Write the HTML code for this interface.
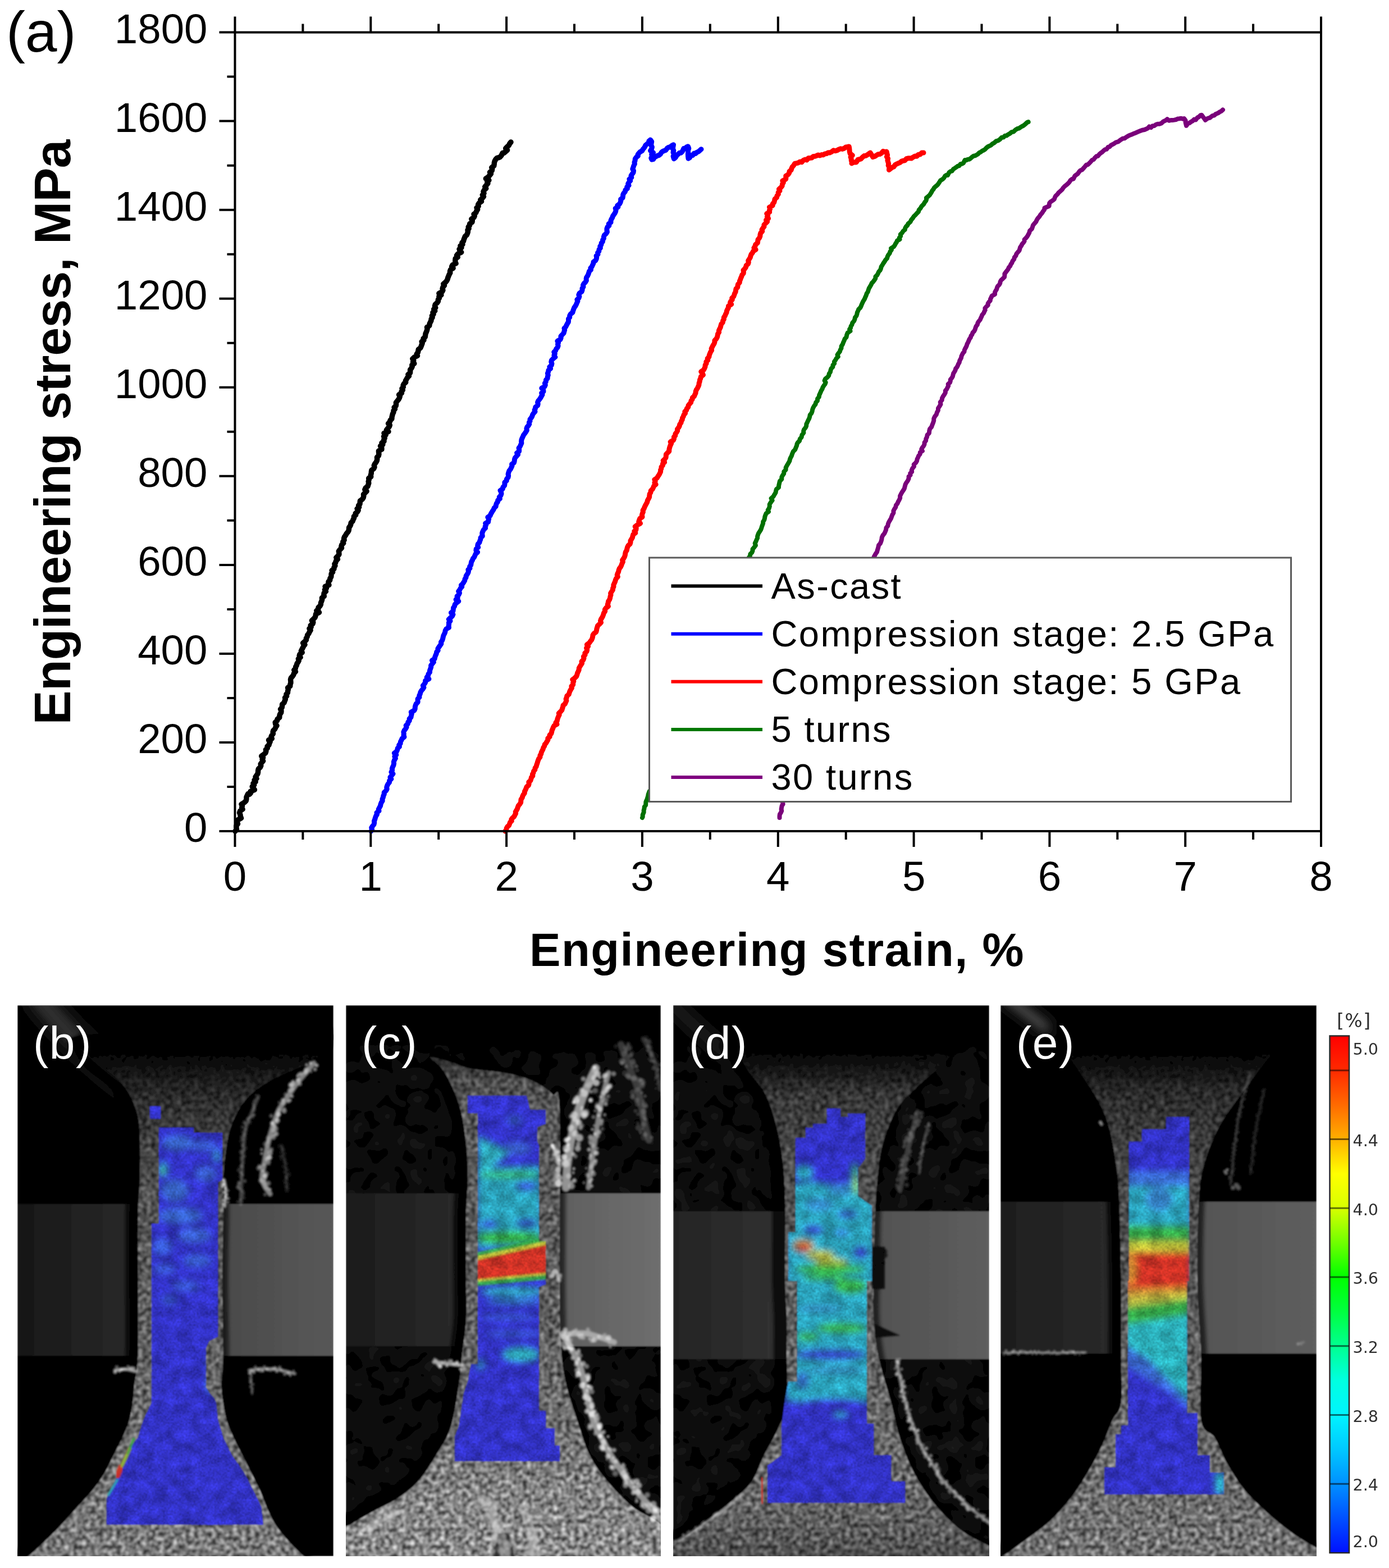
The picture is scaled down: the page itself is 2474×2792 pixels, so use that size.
<!DOCTYPE html><html><head><meta charset="utf-8"><title>Figure</title>
<style>html,body{margin:0;padding:0;background:#fff;overflow:hidden}svg{display:block}text{font-family:"Liberation Sans",Arial,sans-serif}</style></head><body>
<svg xmlns="http://www.w3.org/2000/svg" width="2474" height="2792" viewBox="0 0 2474 2792">
<rect width="100%" height="100%" fill="#fff"/>
<defs>
<filter id="spk" x="0" y="0" width="1" height="1" color-interpolation-filters="sRGB">
<feTurbulence type="fractalNoise" baseFrequency="0.13" numOctaves="3" seed="4" result="t"/>
<feColorMatrix in="t" type="matrix" values="1.25 0 0 0 -0.125  1.25 0 0 0 -0.125  1.25 0 0 0 -0.125  0 0 0 0 1" result="g"/>
<feGaussianBlur in="g" stdDeviation="1.4" result="gb"/>
<feComposite in="SourceGraphic" in2="gb" operator="arithmetic" k1="2" k2="0" k3="0" k4="0" result="m"/>
<feComposite in="m" in2="SourceGraphic" operator="in"/>
</filter>
<filter id="dicn" x="0" y="0" width="1" height="1" color-interpolation-filters="sRGB">
<feTurbulence type="fractalNoise" baseFrequency="0.045" numOctaves="2" seed="11" result="t"/>
<feColorMatrix in="t" type="matrix" values="0.3 0 0 0 0.35  0.3 0 0 0 0.35  0.3 0 0 0 0.35  0 0 0 0 1" result="g"/>
<feTurbulence type="fractalNoise" baseFrequency="0.35" numOctaves="1" seed="21" result="t2"/>
<feColorMatrix in="t2" type="matrix" values="0.45 0 0 0 0.275  0.45 0 0 0 0.275  0.45 0 0 0 0.275  0 0 0 0 1" result="g2"/>
<feComposite in="g" in2="g2" operator="arithmetic" k1="2" k2="0" k3="0" k4="0" result="gg"/>
<feComposite in="SourceGraphic" in2="gg" operator="arithmetic" k1="2" k2="0" k3="0" k4="0" result="m"/>
<feComposite in="m" in2="SourceGraphic" operator="in"/>
</filter>
<filter id="blot" x="0" y="0" width="1" height="1" color-interpolation-filters="sRGB">
<feTurbulence type="fractalNoise" baseFrequency="0.035" numOctaves="3" seed="5" result="t"/>
<feColorMatrix in="t" type="matrix" values="0 0 0 0 1  0 0 0 0 1  0 0 0 0 1  2.2 0 0 0 -0.85" result="a"/>
<feGaussianBlur in="a" stdDeviation="3" result="ab"/>
<feComposite in="SourceGraphic" in2="ab" operator="in"/>
</filter>
<filter id="flk" x="-30%" y="-30%" width="160%" height="160%" color-interpolation-filters="sRGB">
<feTurbulence type="fractalNoise" baseFrequency="0.12" numOctaves="2" seed="8" result="t"/>
<feDisplacementMap in="SourceGraphic" in2="t" scale="14" xChannelSelector="R" yChannelSelector="G" result="d"/>
<feGaussianBlur in="d" stdDeviation="1.2"/>
</filter>
<filter id="bl6" x="-20%" y="-20%" width="140%" height="140%"><feGaussianBlur stdDeviation="6"/></filter>
<filter id="bl10" x="-30%" y="-30%" width="160%" height="160%"><feGaussianBlur stdDeviation="10"/></filter>
<filter id="bl3" x="-20%" y="-20%" width="140%" height="140%"><feGaussianBlur stdDeviation="3"/></filter>
<filter id="bl1" x="-20%" y="-20%" width="140%" height="140%"><feGaussianBlur stdDeviation="1.2"/></filter>
<filter id="pblur" x="0" y="0" width="1" height="1"><feGaussianBlur stdDeviation="0.9"/></filter>
<filter id="bl2" x="-20%" y="-20%" width="140%" height="140%"><feGaussianBlur stdDeviation="1.8"/></filter>

<linearGradient id="cbg" x1="0" y1="0" x2="0" y2="1">
<stop offset="0.0000" stop-color="#ff0000"/>
<stop offset="0.0667" stop-color="#ff2a00"/>
<stop offset="0.1333" stop-color="#ff6a00"/>
<stop offset="0.2000" stop-color="#ffb000"/>
<stop offset="0.2333" stop-color="#ffd800"/>
<stop offset="0.2667" stop-color="#ffff00"/>
<stop offset="0.3333" stop-color="#d8ff00"/>
<stop offset="0.4000" stop-color="#70ff00"/>
<stop offset="0.4667" stop-color="#00ff00"/>
<stop offset="0.5333" stop-color="#00ff40"/>
<stop offset="0.6000" stop-color="#00ff90"/>
<stop offset="0.6667" stop-color="#00ffe0"/>
<stop offset="0.7333" stop-color="#00f4ff"/>
<stop offset="0.8000" stop-color="#00c8ff"/>
<stop offset="0.8667" stop-color="#0090ff"/>
<stop offset="0.9333" stop-color="#0050ff"/>
<stop offset="1.0000" stop-color="#0010ff"/>
</linearGradient>
</defs>
<g fill="none" stroke-linejoin="round" stroke-linecap="round">
<path d="M419.0,1480.0 L421.5,1477.0 L421.0,1474.0 L420.9,1470.5 L423.5,1467.0 L422.5,1463.5 L423.5,1460.0 L429.5,1456.8 L428.3,1453.7 L427.9,1450.5 L426.6,1447.3 L427.6,1444.2 L432.1,1441.0 L430.7,1438.0 L431.5,1435.0 L430.1,1432.0 L435.0,1429.0 L438.2,1426.0 L438.9,1423.0 L439.0,1419.3 L441.7,1413.6 L444.3,1414.3 L446.6,1412.0 L446.2,1409.1 L453.4,1406.3 L451.5,1403.4 L449.2,1400.6 L452.6,1397.7 L451.1,1394.9 L455.2,1392.0 L453.1,1389.1 L456.9,1386.3 L455.1,1383.4 L457.0,1380.6 L459.0,1377.7 L459.6,1374.9 L459.7,1372.0 L460.3,1369.2 L463.4,1366.3 L464.8,1363.5 L464.2,1360.6 L466.2,1357.8 L468.6,1354.9 L467.1,1352.1 L468.5,1349.2 L465.7,1346.4 L469.6,1343.5 L472.9,1340.7 L473.9,1337.8 L473.4,1335.0 L476.3,1332.2 L476.0,1329.3 L479.0,1326.5 L479.8,1323.6 L481.1,1320.8 L478.5,1317.9 L484.3,1315.1 L482.9,1312.2 L484.1,1309.4 L486.4,1306.5 L486.1,1303.7 L486.8,1300.8 L489.7,1298.0 L490.9,1295.1 L493.0,1292.1 L490.7,1289.2 L490.2,1286.3 L493.6,1283.3 L494.1,1280.4 L497.8,1277.5 L497.9,1274.5 L498.7,1271.6 L500.7,1268.7 L501.0,1265.7 L499.6,1262.8 L502.2,1259.9 L502.6,1256.9 L502.7,1254.0 L506.1,1251.1 L507.1,1248.1 L508.3,1245.2 L507.6,1242.3 L510.6,1239.3 L509.9,1236.4 L512.4,1233.5 L512.6,1230.5 L513.4,1227.6 L512.6,1224.7 L516.8,1221.7 L516.9,1218.8 L517.9,1215.9 L517.8,1212.9 L517.5,1210.0 L518.3,1207.2 L521.0,1204.3 L522.8,1201.5 L523.6,1198.7 L526.3,1195.9 L523.9,1193.0 L526.3,1190.2 L526.7,1187.4 L528.3,1184.6 L529.0,1181.7 L530.9,1178.9 L532.3,1176.1 L531.4,1173.2 L535.0,1170.4 L533.2,1167.6 L534.0,1164.8 L538.2,1161.9 L536.4,1159.1 L537.8,1156.3 L539.4,1153.4 L540.7,1150.6 L543.0,1147.8 L539.6,1145.0 L543.0,1142.1 L545.5,1139.3 L545.4,1136.5 L547.2,1133.7 L547.6,1130.8 L550.0,1128.0 L551.2,1125.1 L553.1,1122.2 L551.1,1119.3 L554.1,1116.5 L553.2,1113.6 L557.1,1110.7 L557.8,1107.8 L555.4,1104.9 L558.6,1102.0 L561.2,1099.2 L562.1,1096.3 L562.5,1093.4 L568.5,1090.5 L563.8,1087.6 L566.8,1084.7 L567.0,1081.8 L570.0,1079.0 L571.4,1076.1 L571.5,1073.2 L572.9,1070.3 L573.7,1067.4 L573.4,1064.5 L577.3,1061.7 L576.8,1058.8 L577.2,1055.9 L580.3,1053.0 L578.5,1050.1 L581.3,1047.3 L579.1,1044.4 L585.9,1041.6 L584.8,1038.7 L585.1,1035.8 L587.7,1033.0 L587.9,1030.1 L589.7,1027.2 L590.0,1024.4 L590.2,1021.5 L592.6,1018.7 L591.2,1015.8 L594.9,1012.9 L595.1,1010.1 L596.9,1007.2 L595.9,1004.3 L597.8,1001.5 L598.6,998.6 L601.3,995.8 L599.0,992.9 L601.8,990.0 L603.9,987.2 L603.8,984.3 L603.3,981.4 L605.6,978.6 L608.5,975.7 L607.9,972.9 L608.8,970.0 L611.7,967.2 L610.8,964.4 L613.1,961.6 L612.6,958.8 L613.5,956.0 L615.5,953.2 L617.0,950.4 L619.4,947.7 L621.0,944.9 L621.5,942.1 L621.6,939.3 L623.7,936.5 L624.8,933.7 L625.2,930.9 L628.1,928.1 L629.0,925.3 L630.5,922.5 L630.4,919.7 L633.7,916.9 L633.2,914.1 L636.6,911.3 L638.1,908.6 L636.2,905.8 L639.6,903.0 L638.6,900.2 L641.0,897.4 L641.2,894.6 L641.4,891.8 L645.3,889.0 L647.2,886.1 L647.8,883.3 L647.5,880.4 L650.3,877.5 L653.1,874.7 L649.9,871.8 L651.2,868.9 L655.0,866.0 L655.8,863.2 L656.8,860.3 L656.2,857.4 L657.1,854.6 L656.7,851.7 L660.7,848.8 L660.3,846.0 L661.2,843.1 L661.4,840.2 L661.8,837.4 L665.7,834.5 L667.0,831.6 L666.3,828.8 L667.7,825.9 L669.9,823.0 L671.3,820.1 L671.8,817.3 L671.5,814.4 L674.3,811.5 L674.9,808.7 L674.6,805.8 L674.4,802.9 L679.9,800.1 L679.8,797.2 L677.5,794.3 L681.8,791.5 L680.1,788.6 L684.0,785.7 L683.7,782.9 L685.2,780.0 L683.6,777.1 L687.2,774.2 L684.0,771.4 L691.9,768.5 L688.5,765.6 L690.6,762.8 L693.2,759.9 L694.3,757.0 L691.7,754.2 L694.2,751.3 L695.2,748.4 L697.9,745.6 L698.0,742.7 L698.7,739.8 L699.4,737.0 L700.9,734.1 L701.0,731.2 L703.4,728.3 L702.2,725.5 L705.2,722.6 L705.6,719.7 L705.4,716.9 L707.6,714.0 L710.0,711.2 L711.4,708.4 L712.3,705.7 L710.6,702.9 L715.4,700.1 L714.9,697.3 L717.3,694.5 L716.0,691.8 L718.4,689.0 L718.1,686.2 L719.5,683.4 L722.7,680.6 L722.4,677.9 L724.1,675.1 L725.7,672.3 L728.4,669.5 L727.0,666.7 L730.5,664.0 L730.7,661.2 L730.6,658.4 L732.8,655.6 L734.2,652.8 L733.8,650.0 L737.8,647.3 L735.6,644.5 L736.7,641.7 L734.9,638.9 L737.9,636.1 L743.4,633.4 L742.2,630.6 L744.2,627.8 L744.9,625.0 L745.3,622.2 L748.9,619.5 L750.1,616.7 L751.1,613.9 L752.2,611.1 L751.2,608.3 L754.9,605.6 L754.1,602.8 L757.2,600.0 L757.6,597.1 L758.0,594.2 L759.3,591.3 L760.4,588.4 L761.1,585.5 L760.5,582.6 L764.8,579.7 L765.1,576.8 L766.4,573.9 L767.9,571.0 L768.1,568.1 L770.1,565.2 L769.4,562.3 L772.1,559.4 L771.0,556.5 L774.6,553.6 L772.8,550.7 L775.7,547.8 L774.5,544.9 L775.3,542.0 L778.6,539.2 L780.4,536.4 L780.4,533.6 L782.4,530.8 L781.9,528.0 L785.9,525.2 L781.9,522.4 L787.4,519.6 L788.9,516.8 L788.1,514.0 L789.0,511.2 L791.4,508.4 L789.8,505.6 L793.3,502.8 L795.7,500.0 L797.1,497.2 L797.8,494.4 L799.0,491.5 L800.1,488.7 L801.8,485.9 L801.5,483.1 L802.5,480.2 L807.1,477.4 L804.7,474.6 L806.2,471.8 L812.0,469.0 L810.8,466.1 L810.9,463.3 L811.1,460.5 L815.3,457.7 L813.5,454.9 L815.6,452.0 L821.7,449.2 L819.0,446.4 L818.1,443.6 L822.0,440.8 L819.9,437.9 L823.9,435.1 L822.9,432.3 L825.5,429.5 L826.2,426.6 L827.3,423.8 L828.3,421.0 L831.4,418.2 L832.6,415.4 L833.4,412.5 L833.0,409.7 L835.1,406.9 L834.2,404.1 L836.5,401.2 L836.7,398.4 L840.9,395.6 L841.3,392.8 L839.9,390.0 L844.1,387.1 L845.3,384.3 L844.1,381.5 L847.7,378.6 L848.7,375.8 L850.6,372.9 L849.1,370.0 L852.2,367.2 L851.6,364.3 L853.4,361.5 L857.4,358.6 L855.9,355.7 L859.0,352.9 L861.4,350.0 L859.4,347.1 L862.0,344.2 L861.0,341.3 L862.5,338.4 L865.6,335.5 L863.8,332.5 L866.3,329.6 L868.9,326.7 L867.8,323.8 L870.9,320.9 L865.4,318.0 L869.7,315.2 L872.0,312.3 L874.4,309.5 L872.6,306.7 L876.2,303.8 L876.7,301.0 L875.8,298.2 L879.7,295.3 L880.2,292.5 L880.4,289.7 L881.2,286.8 L883.0,283.6 L885.5,281.1 L888.0,280.8 L890.5,279.6 L893.0,276.8 L895.3,272.2 L897.7,272.4 L900.5,270.0 L903.6,267.2 L900.7,264.3 L903.3,261.5 L906.4,258.7 L907.8,255.8 L910.0,253.0" stroke="#000" stroke-width="9.5"/>
<path d="M661.0,1480.0 L662.6,1477.0 L661.7,1474.0 L663.6,1471.0 L666.0,1468.0 L666.7,1465.0 L666.5,1462.0 L667.7,1459.0 L668.5,1456.0 L669.6,1453.0 L671.5,1450.0 L671.0,1447.0 L675.0,1444.0 L674.2,1441.0 L675.8,1438.0 L677.5,1435.0 L678.1,1432.0 L679.2,1429.0 L681.2,1426.0 L681.0,1423.0 L682.3,1420.0 L682.9,1417.0 L684.3,1414.0 L684.2,1411.0 L687.5,1408.0 L689.2,1405.0 L688.7,1402.0 L689.6,1399.0 L691.1,1396.0 L693.5,1393.0 L693.6,1390.0 L696.8,1387.0 L695.0,1384.0 L697.4,1380.9 L699.9,1377.8 L697.0,1374.8 L698.6,1371.7 L698.4,1368.6 L699.5,1365.5 L701.0,1362.5 L701.6,1359.4 L701.4,1356.3 L702.6,1353.2 L704.4,1350.2 L702.9,1347.1 L705.8,1344.0 L702.3,1341.1 L706.3,1338.2 L707.7,1335.3 L708.2,1332.4 L711.4,1329.5 L710.7,1326.6 L713.2,1323.7 L713.4,1320.8 L715.0,1317.9 L716.2,1315.1 L719.9,1312.2 L719.0,1309.3 L719.3,1306.4 L718.9,1303.5 L720.1,1300.6 L722.4,1297.7 L724.1,1294.8 L723.2,1291.9 L726.4,1289.0 L726.8,1286.0 L729.3,1283.0 L729.1,1280.0 L732.0,1277.0 L732.5,1274.0 L733.3,1271.0 L732.3,1268.0 L737.8,1265.0 L739.2,1262.0 L739.3,1259.1 L740.0,1256.1 L741.2,1253.2 L744.1,1250.3 L744.1,1247.3 L744.1,1244.4 L747.0,1241.5 L746.8,1238.5 L748.3,1235.6 L748.9,1232.7 L750.6,1229.7 L753.2,1226.8 L754.9,1223.9 L753.4,1220.9 L755.8,1218.0 L757.7,1215.0 L757.6,1212.0 L763.9,1209.0 L760.3,1206.0 L762.5,1203.0 L763.1,1200.0 L765.5,1197.0 L765.5,1194.0 L766.6,1191.0 L767.7,1188.0 L767.6,1185.0 L769.9,1182.0 L772.3,1179.0 L769.5,1176.0 L774.1,1173.0 L774.7,1170.0 L775.8,1167.0 L777.2,1164.0 L777.7,1161.0 L780.2,1158.0 L779.9,1155.0 L781.9,1152.0 L784.0,1149.1 L785.9,1146.2 L785.5,1143.3 L787.6,1140.4 L788.6,1137.5 L789.2,1134.6 L789.9,1131.7 L791.4,1128.8 L792.7,1125.9 L793.1,1123.1 L794.6,1120.2 L799.5,1117.3 L799.1,1114.4 L799.6,1111.5 L799.4,1108.6 L801.9,1105.7 L799.4,1102.8 L802.5,1099.9 L805.5,1097.0 L806.9,1094.1 L803.5,1091.1 L806.9,1088.2 L807.3,1085.3 L807.6,1082.3 L809.6,1079.4 L810.2,1076.5 L812.8,1073.5 L816.8,1070.6 L812.1,1067.7 L815.2,1064.7 L814.1,1061.8 L817.1,1058.9 L818.5,1055.9 L816.7,1053.0 L818.8,1050.2 L820.2,1047.5 L822.7,1044.8 L821.5,1042.0 L824.4,1039.2 L826.1,1036.5 L827.7,1033.8 L828.1,1031.0 L830.0,1028.2 L830.2,1025.5 L832.0,1022.8 L833.7,1020.0 L834.5,1017.2 L833.9,1014.5 L837.0,1011.8 L836.6,1009.0 L838.7,1006.1 L839.1,1003.3 L839.7,1000.4 L841.4,997.5 L842.4,994.7 L844.8,991.8 L846.0,988.9 L847.3,986.0 L850.6,983.2 L847.9,980.3 L848.2,977.4 L851.7,974.6 L850.7,971.7 L851.3,968.8 L853.9,966.0 L854.7,963.1 L855.9,960.2 L856.1,957.3 L859.3,954.5 L858.8,951.6 L858.9,948.7 L860.1,945.9 L861.6,943.0 L864.6,940.2 L864.1,937.5 L865.7,934.8 L864.7,932.0 L869.7,929.2 L869.9,926.5 L870.7,923.8 L868.8,921.0 L873.0,918.2 L874.1,915.5 L875.6,912.8 L877.3,910.0 L879.2,907.2 L880.2,904.5 L883.1,901.8 L883.5,899.0 L884.5,896.2 L886.5,893.5 L886.7,890.8 L890.4,888.0 L889.3,885.1 L892.0,882.2 L893.0,879.2 L892.6,876.3 L891.1,873.4 L895.3,870.5 L895.9,867.6 L898.6,864.6 L899.0,861.7 L898.9,858.8 L902.3,855.9 L902.5,852.9 L905.0,850.0 L905.6,847.1 L905.1,844.2 L905.9,841.3 L906.9,838.3 L909.3,835.4 L910.7,832.5 L912.0,829.6 L911.6,826.7 L915.5,823.8 L916.2,820.9 L916.5,818.0 L917.4,815.2 L920.0,812.3 L922.5,809.4 L920.7,806.5 L924.6,803.6 L924.7,800.7 L924.1,797.8 L926.3,794.9 L927.5,792.0 L928.9,789.1 L928.6,786.2 L928.9,783.3 L929.9,780.5 L931.3,777.6 L932.5,774.7 L934.8,771.8 L936.8,768.9 L938.4,766.0 L937.9,763.2 L938.8,760.5 L941.2,757.8 L942.8,755.0 L942.4,752.2 L944.1,749.5 L944.0,746.8 L946.2,744.0 L947.8,741.2 L948.6,738.5 L950.4,735.8 L953.0,733.0 L952.1,730.2 L953.4,727.5 L953.8,724.8 L957.6,722.0 L958.2,719.2 L957.6,716.5 L958.7,713.8 L961.0,711.0 L962.9,708.2 L964.4,705.5 L966.0,702.8 L964.7,700.0 L968.0,697.1 L967.7,694.2 L964.8,691.2 L970.0,688.3 L971.3,685.4 L970.4,682.5 L972.3,679.6 L972.5,676.6 L975.2,673.7 L975.3,670.8 L976.3,667.9 L975.4,665.0 L976.6,662.0 L977.0,659.1 L980.5,656.2 L978.9,653.3 L982.2,650.4 L982.9,647.4 L981.8,644.5 L982.4,641.6 L985.1,638.7 L988.8,635.8 L986.9,632.8 L988.3,629.9 L986.8,627.0 L989.6,624.2 L990.6,621.4 L993.1,618.5 L994.1,615.7 L993.5,612.9 L994.6,610.1 L992.9,607.3 L998.0,604.5 L999.2,601.6 L998.9,598.8 L1001.4,596.0 L1004.1,593.2 L1004.8,590.4 L1005.7,587.5 L1005.0,584.7 L1007.7,581.9 L1009.0,579.1 L1010.5,576.3 L1012.3,573.5 L1012.6,570.6 L1012.5,567.8 L1014.7,565.0 L1014.7,562.1 L1016.2,559.3 L1019.9,556.4 L1020.6,553.6 L1021.7,550.7 L1022.7,547.9 L1024.8,545.0 L1026.4,542.1 L1027.5,539.3 L1028.9,536.4 L1027.9,533.6 L1031.0,530.7 L1031.9,527.9 L1030.8,525.0 L1032.1,522.1 L1036.1,519.3 L1037.1,516.4 L1037.0,513.6 L1039.0,510.7 L1038.5,507.9 L1040.0,505.0 L1042.8,502.2 L1044.4,499.5 L1044.1,496.8 L1044.6,494.0 L1046.6,491.2 L1047.8,488.5 L1048.7,485.8 L1049.6,483.0 L1052.5,480.2 L1051.9,477.5 L1054.2,474.8 L1055.4,472.0 L1056.8,469.2 L1057.0,466.5 L1060.8,463.8 L1062.2,461.0 L1062.7,458.2 L1062.1,455.5 L1065.0,452.8 L1064.6,450.0 L1066.9,447.1 L1067.0,444.3 L1069.4,441.4 L1068.8,438.6 L1070.8,435.8 L1071.2,432.9 L1073.4,430.1 L1073.6,427.2 L1075.4,424.4 L1075.4,421.5 L1076.5,418.6 L1079.7,415.8 L1081.4,412.9 L1080.9,410.1 L1080.9,407.2 L1081.9,404.4 L1084.9,401.6 L1084.2,398.7 L1088.0,395.9 L1087.9,393.0 L1089.0,390.3 L1090.6,387.6 L1091.5,384.8 L1093.4,382.1 L1095.3,379.4 L1096.5,376.7 L1097.1,373.9 L1096.2,371.2 L1100.8,368.5 L1099.8,365.8 L1103.5,363.1 L1105.0,360.3 L1105.8,357.6 L1105.6,354.9 L1109.1,352.2 L1109.5,349.4 L1109.7,346.7 L1111.0,344.0 L1113.5,341.2 L1113.9,338.4 L1117.4,335.7 L1116.7,332.9 L1120.0,330.1 L1118.7,327.3 L1120.2,324.6 L1122.7,321.8 L1121.0,319.0 L1124.8,316.0 L1124.0,313.0 L1125.9,310.0 L1128.1,307.0 L1128.5,304.0 L1126.8,301.0 L1127.9,298.0 L1128.8,295.0 L1130.4,292.0 L1130.0,289.0 L1131.1,286.0 L1131.3,283.0 L1133.3,280.0 L1136.4,277.7 L1136.0,275.3 L1137.7,273.0 L1139.9,270.7 L1143.8,268.3 L1145.0,266.0 L1147.1,263.6 L1148.7,261.1 L1149.8,258.7 L1152.6,256.3 L1155.6,253.9 L1155.8,251.4 L1158.4,249.0 L1160.7,252.2 L1160.1,255.5 L1159.7,258.7 L1161.4,261.9 L1160.5,265.2 L1158.5,268.4 L1163.5,271.7 L1160.6,274.9 L1161.6,278.1 L1159.8,281.4 L1161.0,284.2 L1163.5,283.7 L1166.0,279.8 L1168.5,278.7 L1171.0,277.1 L1173.5,276.5 L1176.0,274.7 L1178.5,270.9 L1180.9,269.2 L1183.4,268.2 L1185.9,267.4 L1188.4,263.9 L1190.9,262.3 L1193.4,262.1 L1195.9,259.8 L1199.5,257.8 L1198.9,261.2 L1198.3,264.6 L1199.8,268.0 L1199.0,271.4 L1201.0,274.8 L1199.1,278.2 L1200.4,282.7 L1202.9,280.7 L1205.4,276.8 L1207.8,274.6 L1210.3,272.2 L1212.8,272.2 L1215.3,269.8 L1217.8,264.4 L1220.2,264.8 L1222.7,261.9 L1225.5,260.8 L1226.8,264.3 L1225.6,267.7 L1225.6,271.2 L1225.4,274.7 L1225.5,278.1 L1226.0,282.2 L1228.6,280.6 L1231.1,276.2 L1233.7,276.5 L1236.2,273.1 L1238.8,273.5 L1241.3,271.1 L1243.9,270.1 L1246.4,268.0 L1249.0,265.7" stroke="#0000ff" stroke-width="9"/>
<path d="M900.0,1480.0 L901.9,1477.4 L902.2,1474.8 L903.7,1472.2 L906.6,1469.6 L907.6,1467.0 L908.5,1464.4 L911.3,1461.8 L910.8,1459.2 L912.7,1456.6 L915.7,1454.0 L917.1,1451.2 L918.6,1448.4 L918.2,1445.6 L920.0,1442.8 L921.5,1440.1 L922.3,1437.3 L923.4,1434.5 L925.9,1431.7 L927.6,1428.9 L927.8,1426.1 L928.1,1423.3 L930.1,1420.5 L930.8,1417.8 L932.2,1415.0 L934.3,1412.2 L934.4,1409.4 L935.9,1406.6 L937.1,1403.8 L938.1,1401.0 L941.5,1398.2 L942.2,1395.4 L941.8,1392.7 L944.9,1389.9 L945.8,1387.1 L946.5,1384.3 L948.9,1381.5 L948.4,1378.7 L950.0,1375.9 L950.6,1373.1 L952.9,1370.3 L953.1,1367.6 L955.1,1364.8 L955.8,1362.0 L956.9,1359.2 L957.6,1356.4 L958.6,1353.6 L959.7,1350.8 L962.0,1348.0 L961.9,1345.2 L963.8,1342.4 L964.2,1339.7 L965.6,1336.9 L967.1,1334.1 L967.8,1331.3 L969.7,1328.5 L970.2,1325.7 L972.7,1322.9 L974.2,1320.2 L975.9,1317.4 L975.8,1314.6 L979.2,1311.8 L979.0,1309.0 L981.8,1306.2 L982.6,1303.5 L983.1,1300.7 L984.4,1297.9 L985.4,1295.1 L986.9,1292.3 L992.0,1289.6 L989.9,1286.8 L992.1,1284.0 L992.7,1281.2 L993.6,1278.4 L994.7,1275.6 L996.2,1272.8 L995.3,1270.0 L998.4,1267.2 L1000.8,1264.4 L1001.6,1261.6 L1002.5,1258.8 L1003.1,1256.0 L1006.4,1253.2 L1007.6,1250.4 L1008.9,1247.6 L1008.1,1244.8 L1009.3,1242.0 L1009.8,1239.2 L1013.2,1236.4 L1014.0,1233.6 L1015.0,1230.7 L1016.7,1227.7 L1018.5,1224.8 L1017.9,1221.9 L1020.7,1219.0 L1020.6,1216.0 L1021.8,1213.1 L1019.9,1210.2 L1023.7,1207.3 L1026.7,1204.3 L1027.8,1201.4 L1028.5,1198.5 L1029.9,1195.6 L1031.2,1192.6 L1031.3,1189.7 L1032.9,1186.8 L1034.8,1183.9 L1036.6,1180.9 L1036.0,1178.0 L1038.9,1175.0 L1040.0,1172.0 L1039.4,1169.0 L1042.1,1166.0 L1041.8,1163.0 L1045.0,1160.0 L1045.7,1157.0 L1044.6,1154.0 L1047.5,1151.0 L1045.4,1148.0 L1049.5,1145.0 L1051.4,1142.2 L1053.7,1139.4 L1054.9,1136.6 L1055.6,1133.8 L1056.0,1130.9 L1057.8,1128.1 L1061.7,1125.3 L1062.5,1122.5 L1062.9,1119.7 L1063.8,1116.9 L1064.6,1114.1 L1067.9,1111.2 L1070.5,1108.4 L1069.5,1105.6 L1070.4,1102.8 L1072.2,1100.0 L1073.7,1097.1 L1074.7,1094.2 L1075.6,1091.3 L1077.7,1088.3 L1077.4,1085.4 L1079.4,1082.5 L1083.4,1079.6 L1082.2,1076.7 L1083.1,1073.8 L1083.6,1070.8 L1085.5,1067.9 L1086.6,1065.0 L1087.0,1062.1 L1088.0,1059.2 L1087.6,1056.3 L1089.5,1053.3 L1091.4,1050.4 L1091.6,1047.5 L1093.0,1044.6 L1092.8,1041.7 L1094.1,1038.7 L1095.5,1035.8 L1096.3,1032.8 L1097.6,1029.9 L1100.3,1026.9 L1099.2,1024.0 L1100.2,1021.0 L1101.6,1018.1 L1102.2,1015.1 L1103.3,1012.2 L1105.6,1009.2 L1106.9,1006.3 L1108.0,1003.3 L1109.4,1000.4 L1108.6,997.4 L1110.7,994.5 L1112.4,991.5 L1113.3,988.6 L1113.7,985.6 L1114.4,982.7 L1116.3,979.9 L1116.8,977.1 L1117.6,974.2 L1119.0,971.4 L1122.2,968.6 L1123.0,965.8 L1123.0,963.0 L1124.6,960.2 L1126.4,957.4 L1127.0,954.5 L1127.8,951.7 L1131.8,948.9 L1129.9,946.1 L1132.8,943.3 L1133.2,940.5 L1131.2,937.6 L1135.2,934.8 L1140.5,932.0 L1137.7,929.1 L1138.6,926.2 L1139.7,923.3 L1144.0,920.4 L1143.4,917.4 L1144.1,914.5 L1145.4,911.6 L1145.1,908.7 L1147.0,905.8 L1148.1,902.9 L1149.5,900.0 L1151.1,897.1 L1152.7,894.2 L1153.3,891.3 L1154.9,888.3 L1156.5,885.4 L1156.8,882.5 L1157.2,879.6 L1159.0,876.7 L1159.2,873.9 L1162.1,871.0 L1163.6,868.2 L1164.7,865.4 L1168.0,862.5 L1165.9,859.7 L1167.1,856.9 L1165.9,854.0 L1170.2,851.2 L1171.9,848.3 L1173.8,845.5 L1175.3,842.7 L1176.6,839.8 L1176.6,837.0 L1177.9,834.2 L1178.0,831.4 L1180.5,828.6 L1180.4,825.8 L1183.6,823.1 L1181.1,820.3 L1184.1,817.5 L1186.0,814.7 L1186.3,811.9 L1186.4,809.1 L1189.0,806.3 L1191.8,803.5 L1191.8,800.7 L1192.4,797.9 L1193.2,795.2 L1194.3,792.4 L1195.7,789.6 L1194.1,786.8 L1199.3,784.0 L1200.5,781.2 L1200.4,778.3 L1202.8,775.5 L1202.9,772.7 L1205.0,769.8 L1206.7,767.0 L1206.4,764.2 L1208.7,761.3 L1210.2,758.5 L1210.7,755.7 L1213.0,752.8 L1213.5,750.0 L1215.2,747.2 L1215.5,744.3 L1217.2,741.5 L1218.0,738.7 L1220.5,735.8 L1219.8,733.0 L1222.7,730.2 L1223.3,727.5 L1225.8,724.8 L1226.0,722.0 L1228.2,719.2 L1230.7,716.5 L1230.9,713.8 L1233.1,711.0 L1233.3,708.2 L1236.5,705.5 L1237.6,702.8 L1239.0,700.0 L1239.2,697.1 L1240.3,694.1 L1242.3,691.2 L1243.7,688.2 L1244.9,685.3 L1245.1,682.4 L1246.2,679.4 L1246.5,676.5 L1247.9,673.5 L1248.4,670.6 L1252.4,667.6 L1251.2,664.7 L1248.7,661.8 L1253.3,658.8 L1254.8,655.9 L1256.0,652.9 L1256.1,650.0 L1258.1,647.1 L1257.8,644.2 L1260.8,641.3 L1260.1,638.3 L1262.9,635.4 L1263.3,632.5 L1264.4,629.6 L1265.6,626.7 L1267.6,623.8 L1267.1,620.8 L1268.6,617.9 L1270.0,615.0 L1271.9,612.1 L1272.9,609.2 L1272.9,606.3 L1275.8,603.3 L1277.4,600.4 L1278.1,597.5 L1278.5,594.6 L1280.6,591.7 L1280.4,588.7 L1281.7,585.8 L1283.2,582.9 L1283.9,580.0 L1284.8,577.0 L1287.3,574.1 L1287.6,571.2 L1289.4,568.3 L1289.3,565.3 L1291.3,562.4 L1292.4,559.5 L1294.0,556.6 L1294.4,553.6 L1295.8,550.7 L1297.4,547.8 L1297.4,544.9 L1302.7,541.9 L1300.5,539.0 L1301.8,536.2 L1304.3,533.5 L1303.7,530.8 L1306.7,528.0 L1307.7,525.2 L1308.6,522.5 L1310.1,519.8 L1310.5,517.0 L1311.0,514.2 L1313.8,511.5 L1314.0,508.8 L1314.6,506.0 L1317.3,503.2 L1317.4,500.5 L1318.6,497.8 L1319.6,495.0 L1320.9,492.2 L1321.7,489.5 L1324.2,486.8 L1324.4,484.0 L1324.0,481.2 L1326.8,478.3 L1328.6,475.5 L1329.1,472.7 L1332.5,469.9 L1333.3,467.0 L1332.7,464.2 L1334.5,461.4 L1336.3,458.5 L1337.0,455.7 L1338.0,452.9 L1340.3,450.1 L1341.7,447.2 L1346.1,444.4 L1343.0,441.4 L1344.9,438.5 L1345.7,435.5 L1349.3,432.6 L1349.7,429.6 L1350.1,426.7 L1352.5,423.8 L1353.8,420.8 L1354.0,417.9 L1354.9,414.9 L1357.7,411.9 L1357.0,409.0 L1358.9,406.1 L1361.1,403.3 L1360.9,400.4 L1363.6,397.6 L1366.5,394.7 L1364.5,391.9 L1368.5,389.0 L1366.4,386.1 L1367.6,383.3 L1365.7,380.4 L1370.7,377.6 L1370.4,374.7 L1371.7,371.9 L1370.5,369.0 L1376.2,366.1 L1376.2,363.2 L1378.7,360.3 L1379.5,357.4 L1380.1,354.4 L1383.5,351.5 L1384.0,348.6 L1386.4,345.7 L1386.1,342.8 L1388.9,339.8 L1387.5,336.8 L1390.8,333.9 L1393.1,330.9 L1393.5,327.9 L1395.3,324.9 L1393.8,322.0 L1399.7,319.0 L1399.9,316.0 L1399.7,313.3 L1403.8,310.7 L1405.7,308.0 L1406.0,305.3 L1409.2,302.7 L1409.9,300.0 L1411.1,297.3 L1413.5,294.7 L1415.7,291.2 L1418.8,290.6 L1422.0,289.8 L1425.0,287.9 L1428.0,288.7 L1430.9,285.4 L1433.9,284.1 L1436.9,284.9 L1439.9,281.5 L1442.8,281.4 L1445.8,281.0 L1448.8,278.4 L1451.7,278.2 L1454.6,277.2 L1457.5,275.9 L1460.4,276.9 L1463.4,275.5 L1466.3,275.9 L1469.2,273.9 L1472.1,273.6 L1475.0,271.8 L1478.2,271.9 L1481.4,270.2 L1484.6,267.7 L1487.8,268.7 L1491.0,267.9 L1494.2,265.9 L1497.4,264.8 L1500.5,265.4 L1503.6,264.2 L1506.6,261.9 L1509.7,261.5 L1512.2,261.0 L1512.8,264.1 L1513.0,267.2 L1513.3,270.3 L1514.1,273.4 L1518.3,276.5 L1515.1,279.6 L1516.2,282.7 L1516.3,285.8 L1517.5,288.9 L1517.0,290.9 L1519.8,289.4 L1522.5,288.7 L1525.2,288.9 L1528.0,284.3 L1530.8,283.8 L1533.5,282.9 L1536.2,280.0 L1539.0,277.6 L1541.8,277.5 L1544.5,276.1 L1547.2,273.9 L1550.1,272.0 L1552.2,275.4 L1554.8,279.6 L1557.8,278.6 L1560.8,276.7 L1563.9,274.7 L1566.9,274.6 L1569.9,272.9 L1573.0,269.3 L1576.0,270.7 L1579.1,270.0 L1579.8,273.1 L1580.6,276.2 L1579.4,279.2 L1581.6,282.3 L1580.9,285.4 L1581.8,288.5 L1582.7,291.6 L1582.2,294.6 L1583.9,297.7 L1583.5,302.5 L1586.3,300.3 L1589.1,298.0 L1591.9,297.0 L1594.7,293.2 L1597.5,291.8 L1600.4,290.5 L1603.2,289.4 L1606.0,287.0 L1608.8,286.2 L1611.6,285.8 L1614.4,282.6 L1617.5,281.8 L1620.5,281.8 L1623.6,281.9 L1626.6,279.7 L1629.7,278.1 L1632.8,278.3 L1635.8,275.2 L1638.9,274.9 L1641.9,272.0 L1645.0,272.0" stroke="#ff0000" stroke-width="9"/>
<path d="M1144.0,1456.0 L1144.7,1454.4 L1144.7,1451.1 L1146.7,1446.2 L1146.6,1443.0 L1147.5,1439.8 L1147.8,1436.7 L1150.1,1433.6 L1150.4,1427.9 L1152.7,1422.5 L1154.2,1417.5 L1154.6,1414.6 L1155.7,1411.7 L1156.8,1408.8 L1159.8,1405.8 L1161.0,1402.9 L1161.4,1400.0 L1162.8,1397.0 L1163.9,1394.0 L1164.3,1391.0 L1166.9,1388.0 L1166.8,1385.0 L1168.1,1382.0 L1170.0,1379.0 L1171.8,1376.0 L1174.0,1373.0 L1172.9,1370.0 L1174.1,1367.2 L1176.5,1364.3 L1177.2,1361.5 L1178.4,1358.7 L1178.9,1355.8 L1180.3,1353.0 L1182.9,1350.2 L1182.5,1347.3 L1186.6,1344.5 L1186.5,1341.7 L1186.5,1338.8 L1188.9,1336.0 L1188.8,1333.2 L1190.7,1330.3 L1191.1,1327.5 L1191.9,1324.6 L1195.0,1321.7 L1194.9,1318.8 L1196.3,1315.9 L1196.8,1313.0 L1198.4,1310.1 L1201.0,1307.2 L1201.0,1304.3 L1203.5,1301.4 L1204.4,1298.6 L1205.3,1295.7 L1207.3,1292.8 L1207.6,1289.9 L1208.6,1287.0 L1211.0,1284.1 L1211.8,1281.2 L1213.3,1278.3 L1213.2,1275.4 L1214.9,1272.5 L1215.8,1269.6 L1216.9,1266.6 L1218.0,1263.7 L1219.9,1260.7 L1221.0,1257.8 L1222.0,1254.8 L1223.6,1251.9 L1224.4,1248.9 L1226.7,1246.0 L1227.8,1243.0 L1229.0,1240.1 L1229.7,1237.1 L1231.6,1234.2 L1231.6,1231.2 L1233.3,1228.2 L1235.9,1225.1 L1235.5,1222.1 L1238.5,1219.0 L1238.2,1216.0 L1240.1,1212.9 L1242.3,1209.9 L1243.7,1206.8 L1244.8,1203.8 L1244.9,1200.3 L1249.3,1196.9 L1248.5,1193.4 L1248.4,1190.0 L1252.3,1186.9 L1253.0,1183.8 L1253.0,1180.7 L1254.8,1177.6 L1257.4,1174.8 L1258.4,1172.1 L1258.8,1169.3 L1259.0,1166.6 L1260.9,1163.8 L1263.0,1161.1 L1263.1,1158.3 L1263.7,1155.5 L1267.1,1152.8 L1267.1,1149.9 L1268.0,1147.1 L1270.7,1144.2 L1271.6,1141.3 L1272.7,1138.5 L1274.1,1135.6 L1275.2,1132.7 L1275.3,1129.9 L1276.3,1127.0 L1278.3,1124.2 L1278.8,1121.3 L1281.5,1118.4 L1281.7,1115.6 L1283.2,1112.8 L1283.7,1110.0 L1286.1,1107.3 L1286.8,1104.5 L1287.3,1101.8 L1288.7,1099.0 L1290.1,1096.3 L1294.6,1093.5 L1292.1,1090.8 L1293.6,1088.0 L1295.3,1085.2 L1296.5,1082.5 L1297.6,1079.7 L1298.5,1077.0 L1299.3,1074.2 L1300.2,1071.5 L1301.5,1068.7 L1303.7,1065.9 L1304.4,1063.1 L1306.0,1060.2 L1306.9,1057.4 L1309.2,1054.5 L1309.4,1051.7 L1311.9,1048.8 L1311.2,1045.9 L1314.2,1043.1 L1314.0,1040.2 L1315.0,1037.4 L1316.5,1034.5 L1318.5,1031.7 L1320.0,1028.8 L1321.3,1025.9 L1321.2,1022.9 L1323.9,1019.9 L1324.8,1016.8 L1325.9,1013.8 L1326.9,1010.8 L1327.7,1007.7 L1330.0,1004.7 L1330.2,1001.6 L1331.5,998.6 L1333.0,995.6 L1334.0,992.6 L1336.0,989.6 L1336.4,986.7 L1339.4,983.7 L1340.5,980.7 L1340.5,977.8 L1343.1,974.8 L1345.9,971.1 L1344.7,967.4 L1346.6,963.7 L1347.7,960.8 L1349.1,958.0 L1349.1,955.2 L1350.0,952.3 L1351.1,949.4 L1353.1,946.5 L1354.9,943.6 L1356.1,940.7 L1356.9,937.8 L1358.0,934.8 L1359.1,931.9 L1359.2,928.9 L1361.2,925.9 L1362.0,922.9 L1362.4,919.9 L1363.5,916.9 L1364.8,914.0 L1369.0,911.1 L1367.7,908.2 L1369.7,905.3 L1370.8,901.7 L1370.7,898.0 L1373.0,894.3 L1375.6,890.9 L1373.6,887.4 L1377.5,883.9 L1379.4,880.6 L1381.5,877.2 L1382.1,873.9 L1383.0,870.9 L1387.0,867.9 L1387.1,864.9 L1388.0,860.9 L1388.9,856.8 L1392.3,853.2 L1392.3,849.6 L1393.9,846.5 L1396.2,843.4 L1396.3,839.9 L1399.6,836.5 L1399.7,832.7 L1401.6,829.0 L1404.0,824.9 L1406.4,820.8 L1406.9,817.9 L1408.1,814.9 L1409.8,812.0 L1411.1,808.0 L1412.8,804.0 L1416.2,800.4 L1417.6,796.9 L1419.0,793.7 L1419.6,790.5 L1421.1,787.8 L1424.0,785.0 L1424.8,781.7 L1427.6,778.4 L1428.4,774.5 L1431.4,770.6 L1431.1,767.7 L1432.1,764.8 L1434.6,761.8 L1436.2,758.5 L1436.3,755.2 L1437.9,751.9 L1439.4,748.6 L1441.1,745.4 L1442.2,742.1 L1442.7,738.9 L1445.4,735.7 L1446.6,732.4 L1447.1,729.3 L1448.3,726.1 L1450.1,722.9 L1452.5,719.8 L1453.2,716.6 L1456.0,713.5 L1456.1,710.1 L1458.8,706.7 L1459.2,703.4 L1461.0,699.7 L1462.5,696.1 L1464.6,692.5 L1465.5,689.6 L1467.4,686.7 L1469.6,683.8 L1470.7,680.9 L1468.6,677.8 L1470.0,674.7 L1473.9,671.6 L1476.3,668.5 L1476.7,665.5 L1478.9,662.4 L1479.5,659.3 L1480.5,656.3 L1483.4,653.2 L1483.4,650.2 L1486.2,647.1 L1485.9,644.1 L1488.1,641.1 L1489.8,638.0 L1492.8,635.0 L1491.5,632.0 L1493.4,629.0 L1495.9,626.0 L1496.7,623.0 L1498.5,620.0 L1498.6,616.5 L1500.9,613.0 L1502.2,609.4 L1503.6,606.4 L1504.7,603.4 L1507.5,600.3 L1508.2,596.5 L1509.7,592.6 L1514.5,589.5 L1513.1,586.4 L1515.1,583.7 L1515.6,580.9 L1517.4,578.2 L1518.3,574.9 L1521.2,571.5 L1522.5,568.2 L1523.0,565.2 L1525.5,562.2 L1526.4,559.2 L1526.9,556.3 L1528.3,553.5 L1529.3,550.7 L1532.2,548.0 L1533.7,545.2 L1534.7,542.4 L1536.2,539.1 L1537.8,535.8 L1539.9,532.5 L1541.2,529.2 L1542.7,526.0 L1543.7,522.8 L1545.8,519.6 L1546.7,516.5 L1547.8,513.4 L1549.6,510.4 L1551.4,507.3 L1552.7,504.3 L1555.4,501.4 L1557.6,498.5 L1559.4,495.6 L1559.4,492.7 L1562.3,489.8 L1563.9,486.8 L1565.2,483.9 L1567.8,481.0 L1569.0,478.0 L1569.6,475.0 L1571.5,472.1 L1573.2,469.1 L1575.3,466.1 L1577.1,463.1 L1579.9,460.1 L1580.7,457.1 L1582.2,454.0 L1584.6,451.0 L1585.5,448.0 L1587.9,444.9 L1587.0,442.1 L1591.9,439.3 L1593.8,436.5 L1595.2,433.7 L1597.0,431.2 L1597.9,428.6 L1602.6,426.1 L1601.7,423.5 L1604.2,420.4 L1603.8,417.4 L1607.0,414.3 L1608.6,411.5 L1611.9,408.8 L1612.3,406.0 L1613.8,403.5 L1616.4,401.0 L1617.5,398.4 L1621.5,395.0 L1623.0,391.6 L1625.7,388.5 L1627.7,385.4 L1630.6,382.6 L1633.0,379.9 L1636.0,376.9 L1636.7,373.9 L1639.6,370.6 L1641.4,367.3 L1645.1,363.7 L1647.1,360.1 L1649.3,357.5 L1650.2,355.0 L1649.9,352.4 L1653.1,349.8 L1656.0,347.2 L1657.6,344.7 L1659.2,342.1 L1660.4,339.5 L1662.6,336.9 L1663.9,334.4 L1666.7,331.8 L1669.9,329.2 L1671.8,326.6 L1673.5,324.1 L1675.0,321.5 L1678.9,319.1 L1681.4,316.7 L1683.1,313.6 L1685.6,311.8 L1688.0,312.0 L1690.5,307.0 L1693.0,305.2 L1695.5,304.7 L1698.0,301.2 L1700.6,299.5 L1703.1,297.8 L1705.7,295.8 L1708.3,295.4 L1710.9,292.0 L1713.4,291.8 L1716.0,290.3 L1718.6,285.0 L1721.2,285.2 L1723.7,283.8 L1726.3,283.7 L1728.9,281.9 L1731.5,279.5 L1734.0,277.7 L1736.6,277.3 L1739.2,276.0 L1741.8,274.3 L1744.3,271.8 L1746.9,270.6 L1749.5,268.6 L1752.0,267.5 L1754.6,265.9 L1757.2,263.0 L1759.8,261.0 L1762.3,259.9 L1764.9,258.7 L1767.4,256.3 L1771.0,254.3 L1774.6,251.1 L1777.9,250.3 L1781.2,247.9 L1784.2,244.8 L1787.2,244.6 L1789.9,241.8 L1792.6,241.6 L1795.6,239.5 L1798.6,237.9 L1801.9,235.1 L1805.2,234.6 L1808.8,231.2 L1812.4,229.0 L1815.0,228.5 L1817.5,226.7 L1820.1,225.1 L1823.0,223.6 L1825.9,221.3 L1829.8,217.7 L1831.7,217.1" stroke="#007000" stroke-width="8"/>
<path d="M1388.5,1456.0 L1388.5,1453.0 L1388.9,1450.0 L1390.9,1446.9 L1392.2,1443.9 L1391.6,1440.9 L1392.1,1437.9 L1392.7,1434.8 L1394.7,1431.8 L1394.0,1428.8 L1395.7,1426.0 L1396.6,1423.2 L1396.9,1420.3 L1398.5,1417.5 L1400.7,1414.7 L1400.7,1411.9 L1403.0,1409.0 L1401.9,1406.2 L1404.2,1403.4 L1405.7,1400.6 L1405.2,1397.7 L1406.6,1394.9 L1409.1,1392.1 L1408.5,1389.3 L1411.3,1386.4 L1412.3,1383.6 L1412.6,1380.8 L1412.7,1378.0 L1414.0,1375.1 L1415.5,1372.3 L1417.5,1369.5 L1418.3,1366.7 L1418.4,1363.8 L1420.3,1361.0 L1420.0,1358.2 L1422.9,1355.4 L1422.2,1352.5 L1423.2,1349.7 L1425.8,1346.9 L1427.0,1344.1 L1427.3,1341.2 L1427.5,1338.4 L1428.9,1335.6 L1430.3,1332.8 L1431.9,1329.9 L1431.7,1327.1 L1434.3,1324.3 L1433.8,1321.5 L1435.3,1318.6 L1438.9,1315.8 L1438.6,1313.0 L1437.9,1310.2 L1439.6,1307.3 L1441.0,1304.5 L1441.5,1301.7 L1442.8,1298.9 L1444.5,1296.0 L1444.8,1293.2 L1446.7,1290.4 L1446.4,1287.6 L1449.1,1284.7 L1448.6,1281.9 L1450.6,1279.1 L1452.3,1276.3 L1451.8,1273.4 L1454.1,1270.6 L1454.7,1267.8 L1455.5,1265.0 L1455.8,1262.1 L1457.2,1259.3 L1459.6,1256.5 L1460.1,1253.7 L1461.5,1250.8 L1461.5,1248.0 L1463.2,1245.2 L1464.2,1242.4 L1464.6,1239.5 L1466.9,1236.7 L1468.1,1233.9 L1468.7,1231.1 L1469.0,1228.2 L1470.1,1225.4 L1470.7,1222.6 L1473.0,1219.8 L1472.9,1216.9 L1474.1,1214.1 L1476.4,1211.3 L1476.9,1208.5 L1477.3,1205.6 L1479.7,1202.8 L1479.8,1200.0 L1482.0,1196.7 L1482.6,1193.3 L1483.7,1190.0 L1484.9,1186.7 L1485.9,1183.7 L1488.0,1180.7 L1487.7,1177.8 L1488.4,1174.8 L1491.2,1171.8 L1491.9,1168.9 L1492.8,1165.9 L1492.8,1162.9 L1494.7,1160.0 L1495.7,1157.1 L1496.7,1154.2 L1498.5,1151.4 L1500.0,1148.5 L1500.1,1145.7 L1501.3,1142.8 L1501.6,1140.0 L1503.8,1137.1 L1504.7,1134.2 L1505.8,1131.4 L1507.2,1128.5 L1506.9,1125.7 L1509.4,1122.8 L1510.4,1119.9 L1510.3,1117.0 L1512.7,1114.0 L1513.2,1111.0 L1513.3,1108.1 L1516.1,1105.1 L1516.8,1102.1 L1517.2,1099.2 L1519.0,1096.2 L1519.4,1093.2 L1520.4,1090.3 L1522.4,1087.3 L1522.4,1084.4 L1524.8,1081.4 L1525.3,1078.4 L1525.3,1075.5 L1527.5,1072.5 L1528.6,1069.5 L1529.8,1066.6 L1529.9,1063.7 L1531.0,1060.9 L1531.9,1058.0 L1534.2,1055.2 L1534.0,1052.3 L1536.1,1049.5 L1536.9,1046.7 L1538.4,1043.8 L1539.4,1041.0 L1538.6,1038.1 L1540.5,1035.3 L1541.9,1032.4 L1543.4,1029.6 L1543.9,1026.8 L1545.6,1023.9 L1548.2,1021.0 L1548.3,1018.1 L1548.9,1015.2 L1548.8,1012.3 L1550.7,1009.4 L1554.1,1006.5 L1553.5,1003.6 L1554.0,1000.7 L1555.3,997.8 L1557.3,994.9 L1556.5,992.0 L1558.1,989.0 L1559.8,985.9 L1562.0,982.9 L1562.7,979.9 L1563.7,976.8 L1564.5,973.8 L1565.1,970.8 L1568.1,967.3 L1569.4,963.8 L1570.4,960.3 L1570.8,956.9 L1572.4,953.4 L1575.2,950.0 L1576.8,946.6 L1578.1,943.2 L1578.5,939.8 L1581.3,936.4 L1581.8,933.0 L1583.1,929.7 L1585.1,926.4 L1587.1,923.0 L1588.2,919.7 L1589.5,916.4 L1591.5,913.1 L1591.4,909.8 L1593.0,906.5 L1595.3,903.1 L1595.9,899.8 L1598.5,896.5 L1599.8,893.2 L1601.7,889.9 L1603.2,886.6 L1603.1,883.2 L1604.7,879.9 L1606.6,876.5 L1608.9,873.1 L1610.9,869.7 L1611.7,866.2 L1612.6,862.7 L1614.5,859.2 L1617.0,855.7 L1618.6,852.1 L1618.6,848.5 L1621.6,845.8 L1621.2,843.0 L1624.2,840.2 L1623.7,837.5 L1625.2,834.1 L1628.0,830.6 L1627.7,827.2 L1631.2,823.9 L1633.1,820.7 L1633.6,817.5 L1635.1,814.5 L1636.3,811.5 L1638.7,808.5 L1638.8,805.7 L1642.9,803.0 L1641.2,800.2 L1642.6,797.2 L1645.0,794.2 L1646.5,791.2 L1646.6,788.0 L1649.1,784.7 L1649.3,781.5 L1651.0,778.1 L1651.6,774.6 L1654.9,771.2 L1655.2,767.5 L1656.1,763.8 L1659.2,760.1 L1660.5,756.5 L1662.0,752.8 L1663.2,749.1 L1663.3,745.4 L1665.0,741.7 L1667.8,738.1 L1668.9,734.4 L1670.9,730.7 L1671.0,727.0 L1673.5,723.3 L1675.5,719.7 L1674.7,716.0 L1677.7,712.5 L1678.0,709.1 L1679.8,705.6 L1682.1,702.4 L1683.9,699.1 L1683.8,695.9 L1686.3,692.9 L1687.7,689.9 L1689.2,686.9 L1688.7,684.1 L1691.9,681.3 L1692.8,678.5 L1692.8,675.8 L1695.3,673.0 L1696.9,670.2 L1697.5,667.4 L1698.2,664.7 L1700.1,661.9 L1701.6,659.1 L1702.2,656.4 L1704.6,653.6 L1705.9,650.9 L1707.0,648.1 L1708.7,645.4 L1709.2,642.6 L1710.5,639.9 L1712.1,637.1 L1712.4,634.4 L1713.7,631.6 L1715.1,628.9 L1717.5,626.1 L1717.8,623.4 L1719.1,620.6 L1720.7,617.9 L1721.9,615.1 L1722.6,612.4 L1724.3,609.5 L1725.5,606.7 L1726.6,603.9 L1728.7,601.1 L1729.5,598.2 L1731.6,595.3 L1732.5,592.4 L1735.2,589.6 L1736.7,586.7 L1737.5,583.8 L1738.6,580.9 L1740.9,578.0 L1741.5,575.1 L1743.3,572.2 L1745.8,569.2 L1747.0,566.3 L1748.4,563.4 L1749.5,560.5 L1752.1,557.5 L1753.3,554.6 L1754.8,551.7 L1754.4,548.8 L1756.8,546.0 L1759.8,543.3 L1759.6,540.6 L1761.3,537.9 L1763.8,535.2 L1764.0,532.5 L1765.4,529.8 L1766.8,526.8 L1772.1,523.9 L1771.9,521.0 L1773.2,518.1 L1775.1,515.2 L1775.9,512.2 L1777.1,509.6 L1779.9,506.9 L1781.3,504.2 L1781.6,501.6 L1783.1,498.9 L1786.1,496.2 L1789.0,493.4 L1789.4,490.4 L1789.4,487.6 L1791.5,484.6 L1793.8,481.8 L1795.8,479.0 L1796.8,476.3 L1799.3,473.5 L1800.4,470.8 L1802.3,468.1 L1803.6,464.8 L1806.2,461.6 L1806.8,458.4 L1809.5,455.2 L1810.3,452.2 L1812.7,449.2 L1815.5,446.1 L1816.4,443.1 L1817.1,440.3 L1819.2,437.5 L1820.5,434.7 L1823.0,431.9 L1824.7,429.2 L1824.6,426.5 L1827.3,423.8 L1829.6,421.1 L1831.5,417.7 L1833.3,414.3 L1834.1,410.9 L1837.8,407.6 L1839.0,404.3 L1840.0,401.1 L1842.5,398.0 L1845.3,394.9 L1846.6,391.8 L1848.5,388.7 L1851.4,385.6 L1853.2,382.5 L1856.0,379.4 L1857.8,376.4 L1860.2,373.3 L1860.5,370.2 L1868.6,367.1 L1868.8,364.0 L1869.2,361.7 L1871.2,359.4 L1874.9,357.0 L1877.8,354.7 L1878.8,351.8 L1880.3,348.8 L1883.5,345.8 L1885.6,343.0 L1888.8,340.2 L1892.0,337.3 L1893.6,334.6 L1896.1,331.9 L1899.6,329.2 L1902.5,326.6 L1904.7,324.1 L1906.7,320.9 L1909.3,319.0 L1911.9,318.5 L1914.4,313.2 L1917.0,311.3 L1919.6,309.4 L1922.2,305.7 L1924.7,303.2 L1927.3,302.4 L1929.9,299.5 L1932.5,296.5 L1935.0,293.4 L1937.6,293.2 L1940.2,290.7 L1942.8,287.8 L1945.3,284.9 L1947.9,283.9 L1950.5,280.6 L1953.0,278.3 L1955.6,277.8 L1958.2,274.6 L1960.8,272.3 L1963.3,270.8 L1965.9,268.1 L1968.4,266.1 L1971.0,265.7 L1973.6,261.9 L1976.2,261.4 L1978.7,258.8 L1981.3,257.3 L1983.9,256.0 L1987.8,253.3 L1991.6,252.4 L1995.5,249.3 L1999.4,246.8 L2003.2,246.3 L2007.1,243.4 L2011.0,241.2 L2014.9,239.8 L2018.8,238.1 L2022.6,236.7 L2026.5,234.9 L2030.4,233.3 L2034.4,231.8 L2038.5,231.0 L2041.3,229.8 L2044.2,228.4 L2047.0,225.4 L2050.0,227.1 L2052.9,224.2 L2055.9,224.0 L2059.0,221.8 L2062.0,220.8 L2065.1,220.7 L2068.6,219.4 L2072.1,216.3 L2076.7,214.2 L2079.0,212.1 L2082.1,214.7 L2085.2,214.1 L2088.3,214.1 L2091.4,213.6 L2094.5,213.0 L2097.6,211.6 L2100.7,211.3 L2103.8,210.8 L2106.9,211.8 L2109.1,211.0 L2111.6,214.6 L2111.6,218.1 L2113.0,223.8 L2115.8,219.9 L2118.6,219.0 L2121.4,216.8 L2124.2,215.4 L2127.0,212.5 L2129.8,213.5 L2132.6,209.6 L2135.4,208.1 L2138.2,205.4 L2140.2,204.7 L2142.5,207.8 L2144.9,210.9 L2147.0,213.8 L2149.6,211.6 L2152.2,210.4 L2154.8,209.9 L2157.3,207.8 L2159.9,206.0 L2162.5,205.6 L2165.1,203.2 L2167.7,202.1 L2170.2,201.0 L2172.8,199.1 L2175.4,197.9 L2178.0,195.5" stroke="#7a007a" stroke-width="8"/>
</g>
<g stroke="#000" stroke-width="4" fill="none" stroke-linecap="square">
<rect x="418.5" y="57.6" width="1934.5" height="1422.4"/>
<path d="M418.5,1480.0v28 M418.5,57.6v-28 M539.4,1480.0v15 M539.4,57.6v-15 M660.3,1480.0v28 M660.3,57.6v-28 M781.2,1480.0v15 M781.2,57.6v-15 M902.1,1480.0v28 M902.1,57.6v-28 M1023.0,1480.0v15 M1023.0,57.6v-15 M1143.9,1480.0v28 M1143.9,57.6v-28 M1264.8,1480.0v15 M1264.8,57.6v-15 M1385.8,1480.0v28 M1385.8,57.6v-28 M1506.7,1480.0v15 M1506.7,57.6v-15 M1627.6,1480.0v28 M1627.6,57.6v-28 M1748.5,1480.0v15 M1748.5,57.6v-15 M1869.4,1480.0v28 M1869.4,57.6v-28 M1990.3,1480.0v15 M1990.3,57.6v-15 M2111.2,1480.0v28 M2111.2,57.6v-28 M2232.1,1480.0v15 M2232.1,57.6v-15 M2353.0,1480.0v28 M2353.0,57.6v-28 M418.5,1480.0h-28 M418.5,1401.0h-14 M418.5,1322.0h-28 M418.5,1242.9h-14 M418.5,1163.9h-28 M418.5,1084.9h-14 M418.5,1005.9h-28 M418.5,926.8h-14 M418.5,847.8h-28 M418.5,768.8h-14 M418.5,689.8h-28 M418.5,610.8h-14 M418.5,531.7h-28 M418.5,452.7h-14 M418.5,373.7h-28 M418.5,294.7h-14 M418.5,215.6h-28 M418.5,136.6h-14 M418.5,57.6h-28" stroke-linecap="butt"/>
</g>
<g font-size="74.5" fill="#000">
<text x="369.5" y="1499.3" text-anchor="end">0</text>
<text x="369.5" y="1341.3" text-anchor="end">200</text>
<text x="369.5" y="1183.2" text-anchor="end">400</text>
<text x="369.5" y="1025.2" text-anchor="end">600</text>
<text x="369.5" y="867.1" text-anchor="end">800</text>
<text x="369.5" y="709.1" text-anchor="end">1000</text>
<text x="369.5" y="551.0" text-anchor="end">1200</text>
<text x="369.5" y="393.0" text-anchor="end">1400</text>
<text x="369.5" y="234.9" text-anchor="end">1600</text>
<text x="369.5" y="76.9" text-anchor="end">1800</text>
<text x="418.5" y="1585.5" text-anchor="middle">0</text>
<text x="660.3" y="1585.5" text-anchor="middle">1</text>
<text x="902.1" y="1585.5" text-anchor="middle">2</text>
<text x="1143.9" y="1585.5" text-anchor="middle">3</text>
<text x="1385.8" y="1585.5" text-anchor="middle">4</text>
<text x="1627.6" y="1585.5" text-anchor="middle">5</text>
<text x="1869.4" y="1585.5" text-anchor="middle">6</text>
<text x="2111.2" y="1585.5" text-anchor="middle">7</text>
<text x="2353.0" y="1585.5" text-anchor="middle">8</text>
</g>
<text x="10.9" y="91.5" font-size="102">(a)</text>
<text x="1384" y="1720.3" font-size="83.2" font-weight="bold" text-anchor="middle" letter-spacing="1.5">Engineering strain, %</text>
<text transform="translate(124.5,770) rotate(-90)" x="0" y="0" font-size="91.6" font-weight="bold" text-anchor="middle" letter-spacing="-1.0">Engineering stress, MPa</text>
<rect x="1156.5" y="993" width="1143" height="434.5" fill="#fff" stroke="#5a5a5a" stroke-width="3"/>
<line x1="1195.5" y1="1043.6" x2="1358" y2="1043.6" stroke="#000" stroke-width="6"/>
<text x="1373.5" y="1065.8" font-size="65" letter-spacing="2.4">As-cast</text>
<line x1="1195.5" y1="1128.7" x2="1358" y2="1128.7" stroke="#0000ff" stroke-width="6"/>
<text x="1373.5" y="1150.9" font-size="65" letter-spacing="2.4">Compression stage: 2.5 GPa</text>
<line x1="1195.5" y1="1213.8" x2="1358" y2="1213.8" stroke="#ff0000" stroke-width="6"/>
<text x="1373.5" y="1236.0" font-size="65" letter-spacing="2.4">Compression stage: 5 GPa</text>
<line x1="1195.5" y1="1298.9" x2="1358" y2="1298.9" stroke="#007800" stroke-width="6"/>
<text x="1373.5" y="1321.1" font-size="65" letter-spacing="2.4">5 turns</text>
<line x1="1195.5" y1="1384.0" x2="1358" y2="1384.0" stroke="#800080" stroke-width="6"/>
<text x="1373.5" y="1406.2" font-size="65" letter-spacing="2.4">30 turns</text>
<rect x="2368.5" y="1844.5" width="34.5" height="920.5" fill="url(#cbg)" stroke="#2a2a2a" stroke-width="2.5"/>
<line x1="2369" y1="1905.9" x2="2402.5" y2="1905.9" stroke="#000" stroke-opacity="0.55" stroke-width="3"/>
<line x1="2369" y1="2028.6" x2="2402.5" y2="2028.6" stroke="#000" stroke-opacity="0.55" stroke-width="3"/>
<line x1="2369" y1="2151.3" x2="2402.5" y2="2151.3" stroke="#000" stroke-opacity="0.55" stroke-width="3"/>
<line x1="2369" y1="2274.1" x2="2402.5" y2="2274.1" stroke="#000" stroke-opacity="0.55" stroke-width="3"/>
<line x1="2369" y1="2396.8" x2="2402.5" y2="2396.8" stroke="#000" stroke-opacity="0.55" stroke-width="3"/>
<line x1="2369" y1="2519.5" x2="2402.5" y2="2519.5" stroke="#000" stroke-opacity="0.55" stroke-width="3"/>
<line x1="2369" y1="2642.3" x2="2402.5" y2="2642.3" stroke="#000" stroke-opacity="0.55" stroke-width="3"/>
<g fill="#2e2e2e">
<text x="2381" y="1829" style="font-family:'DejaVu Sans',sans-serif;font-size:33px" letter-spacing="1.5">[%]</text>
<text x="2409.5" y="1877.6" style="font-family:'DejaVu Sans',sans-serif;font-size:28.5px">5.0</text>
<text x="2409.5" y="2041.0" style="font-family:'DejaVu Sans',sans-serif;font-size:28.5px">4.4</text>
<text x="2409.5" y="2163.6" style="font-family:'DejaVu Sans',sans-serif;font-size:28.5px">4.0</text>
<text x="2409.5" y="2286.0" style="font-family:'DejaVu Sans',sans-serif;font-size:28.5px">3.6</text>
<text x="2409.5" y="2409.3" style="font-family:'DejaVu Sans',sans-serif;font-size:28.5px">3.2</text>
<text x="2409.5" y="2532.0" style="font-family:'DejaVu Sans',sans-serif;font-size:28.5px">2.8</text>
<text x="2409.5" y="2653.5" style="font-family:'DejaVu Sans',sans-serif;font-size:28.5px">2.4</text>
<text x="2409.5" y="2755.0" style="font-family:'DejaVu Sans',sans-serif;font-size:28.5px">2.0</text>
</g>
<g transform="translate(31,1790)">
<clipPath id="cp0"><rect width="563" height="981"/></clipPath>
<linearGradient id="sg0" x1="0" y1="0" x2="0" y2="981" gradientUnits="userSpaceOnUse">
<stop offset="0" stop-color="#030303"/>
<stop offset="0.085" stop-color="#030303"/>
<stop offset="0.105" stop-color="#0b0b0b"/>
<stop offset="0.135" stop-color="#1e1e1e"/>
<stop offset="0.17" stop-color="#2c2c2c"/>
<stop offset="0.24" stop-color="#404040"/>
<stop offset="0.34" stop-color="#525252"/>
<stop offset="0.5" stop-color="#5c5c5c"/>
<stop offset="0.7" stop-color="#646464"/>
<stop offset="0.86" stop-color="#707070"/>
<stop offset="1" stop-color="#7a7a7a"/>
</linearGradient>
<linearGradient id="bg0" x1="360" y1="0" x2="563" y2="0" gradientUnits="userSpaceOnUse"><stop offset="0" stop-color="#4a4a4a"/><stop offset="1" stop-color="#585858"/></linearGradient>
<clipPath id="dc0"><path d="M252.0,217.6 L314.0,217.6 L314.0,227.0 L365.0,227.0 L365.0,311.0 L357.5,315.0 L357.5,590.0 L342.0,598.0 L336.0,610.0 L336.0,680.0 L342.0,690.0 L351.0,700.0 L354.0,707.6 L357.5,738.7 L367.0,770.0 L382.0,801.0 L404.0,832.0 L420.0,863.0 L435.0,894.0 L438.0,925.0 L158.5,925.0 L158.5,878.6 L174.0,847.5 L186.5,816.0 L202.0,785.0 L214.5,770.0 L224.0,738.7 L239.0,707.6 L239.0,389.0 L252.0,389.0Z M236.0,180.0 L255.0,180.0 L255.0,202.0 L236.0,202.0Z"/></clipPath>
<g clip-path="url(#cp0)">
<g filter="url(#pblur)">
<rect width="563" height="981" fill="#050505"/>
<linearGradient id="bl0g" x1="0" y1="0" x2="200" y2="0" gradientUnits="userSpaceOnUse"><stop offset="0" stop-color="#171717"/><stop offset="1" stop-color="#292929"/></linearGradient>
<rect x="0" y="354" width="290" height="270" fill="url(#bl0g)"/>
<rect x="290" y="354" width="273" height="270" fill="url(#bg0)"/>
<path d="M40,-10 Q110,75 190,135" fill="none" stroke="#5a5a5a" stroke-width="38" stroke-opacity="0.5" stroke-linecap="round" filter="url(#bl10)"/>
<path d="M105.0,55.0 C108.3,60.0 119.2,77.3 125.0,85.0 C130.8,92.7 129.8,91.8 140.0,101.0 C150.2,110.2 174.2,125.8 186.0,140.0 C197.8,154.2 205.7,170.5 211.0,186.0 C216.3,201.5 216.5,212.2 217.6,233.0 C218.7,253.8 218.1,287.7 217.6,311.0 C217.1,334.3 215.0,343.0 214.5,373.0 C214.0,403.0 214.5,449.8 214.5,491.0 C214.5,532.2 215.6,589.2 214.5,620.0 C213.4,650.8 209.6,661.5 208.0,676.0 C206.4,690.5 206.5,696.5 205.0,707.0 C203.5,717.5 202.1,728.2 199.0,738.7 C195.9,749.2 191.2,759.6 186.5,770.0 C181.8,780.4 176.2,790.7 171.0,801.0 C165.8,811.3 161.6,821.7 155.4,832.0 C149.2,842.3 142.0,852.7 133.7,863.0 C125.4,873.3 115.0,883.7 105.7,894.0 C96.4,904.3 87.5,914.7 77.7,925.0 C67.9,935.3 56.4,946.7 46.6,956.0 C36.8,965.3 27.3,974.5 18.7,981.0 C10.1,987.5 -1.1,992.7 -5.0,995.0" fill="none" stroke="#050505" stroke-opacity="0.85" stroke-width="44" filter="url(#bl3)"/>
<path d="M520.0,995.0 C518.3,992.7 515.8,987.5 510.0,981.0 C504.2,974.5 493.3,965.3 485.0,956.0 C476.7,946.7 466.7,935.3 460.0,925.0 C453.3,914.7 449.3,904.3 444.6,894.0 C439.9,883.7 436.7,873.3 432.0,863.0 C427.3,852.7 421.8,842.3 416.6,832.0 C411.4,821.7 406.2,811.3 401.0,801.0 C395.8,790.7 390.2,780.4 385.5,770.0 C380.8,759.6 376.1,749.2 373.0,738.7 C369.9,728.2 368.4,717.5 366.8,707.0 C365.2,696.5 363.7,689.8 363.7,676.0 C363.7,662.2 366.5,655.0 366.8,624.0 C367.1,593.0 365.3,531.8 365.3,490.0 C365.3,448.2 366.7,402.8 367.0,373.0 C367.3,343.2 366.0,331.5 367.0,311.0 C368.0,290.5 370.0,267.7 373.0,250.0 C376.0,232.3 378.8,219.2 385.0,205.0 C391.2,190.8 399.2,176.7 410.0,165.0 C420.8,153.3 435.0,143.8 450.0,135.0 C465.0,126.2 487.0,117.7 500.0,112.0 C513.0,106.3 520.5,107.2 528.0,101.0 C535.5,94.8 540.5,83.5 545.0,75.0 C549.5,66.5 590.8,55.0 555.0,50.0 C519.2,45.0 367.5,45.8 330.0,45.0" fill="none" stroke="#050505" stroke-opacity="0.6" stroke-width="20" filter="url(#bl3)"/>
<path d="M105.0,55.0 C70.8,61.7 119.2,77.3 125.0,85.0 C130.8,92.7 129.8,91.8 140.0,101.0 C150.2,110.2 174.2,125.8 186.0,140.0 C197.8,154.2 205.7,170.5 211.0,186.0 C216.3,201.5 216.5,212.2 217.6,233.0 C218.7,253.8 218.1,287.7 217.6,311.0 C217.1,334.3 215.0,343.0 214.5,373.0 C214.0,403.0 214.5,449.8 214.5,491.0 C214.5,532.2 215.6,589.2 214.5,620.0 C213.4,650.8 209.6,661.5 208.0,676.0 C206.4,690.5 206.5,696.5 205.0,707.0 C203.5,717.5 202.1,728.2 199.0,738.7 C195.9,749.2 191.2,759.6 186.5,770.0 C181.8,780.4 176.2,790.7 171.0,801.0 C165.8,811.3 161.6,821.7 155.4,832.0 C149.2,842.3 142.0,852.7 133.7,863.0 C125.4,873.3 115.0,883.7 105.7,894.0 C96.4,904.3 87.5,914.7 77.7,925.0 C67.9,935.3 56.4,946.7 46.6,956.0 C36.8,965.3 27.3,974.5 18.7,981.0 C10.1,987.5 -88.5,992.7 -5.0,995.0 C78.5,997.3 434.2,997.3 520.0,995.0 C605.8,992.7 515.8,987.5 510.0,981.0 C504.2,974.5 493.3,965.3 485.0,956.0 C476.7,946.7 466.7,935.3 460.0,925.0 C453.3,914.7 449.3,904.3 444.6,894.0 C439.9,883.7 436.7,873.3 432.0,863.0 C427.3,852.7 421.8,842.3 416.6,832.0 C411.4,821.7 406.2,811.3 401.0,801.0 C395.8,790.7 390.2,780.4 385.5,770.0 C380.8,759.6 376.1,749.2 373.0,738.7 C369.9,728.2 368.4,717.5 366.8,707.0 C365.2,696.5 363.7,689.8 363.7,676.0 C363.7,662.2 366.5,655.0 366.8,624.0 C367.1,593.0 365.3,531.8 365.3,490.0 C365.3,448.2 366.7,402.8 367.0,373.0 C367.3,343.2 366.0,331.5 367.0,311.0 C368.0,290.5 370.0,267.7 373.0,250.0 C376.0,232.3 378.8,219.2 385.0,205.0 C391.2,190.8 399.2,176.7 410.0,165.0 C420.8,153.3 435.0,143.8 450.0,135.0 C465.0,126.2 487.0,117.7 500.0,112.0 C513.0,106.3 520.5,107.2 528.0,101.0 C535.5,94.8 540.5,83.5 545.0,75.0 C549.5,66.5 590.8,55.0 555.0,50.0 C519.2,45.0 405.0,44.2 330.0,45.0 C255.0,45.8 139.2,48.3 105.0,55.0Z" fill="url(#sg0)" filter="url(#spk)"/>
<g filter="url(#bl2)">
<path d="M528.0,103.0 C525.3,106.2 517.2,115.8 512.0,122.0 C506.8,128.2 502.3,132.8 497.0,140.0 C491.7,147.2 485.2,157.3 480.0,165.0 C474.8,172.7 470.2,177.7 466.0,186.0 C461.8,194.3 458.3,204.7 455.0,215.0 C451.7,225.3 448.5,237.2 446.0,248.0 C443.5,258.8 441.7,269.5 440.0,280.0 C438.3,290.5 434.3,301.7 436.0,311.0 C437.7,320.3 447.7,331.8 450.0,336.0" fill="none" stroke="#d8d8d8" stroke-width="8.8" stroke-opacity="0.59" stroke-linecap="round"/>
<circle cx="533" cy="107" r="3.1" fill="#dcdcdc" fill-opacity="0.72"/>
<circle cx="522" cy="103" r="3.0" fill="#dedede" fill-opacity="0.65"/>
<circle cx="530" cy="114" r="3.1" fill="#a5a5a5" fill-opacity="0.82"/>
<circle cx="515" cy="106" r="2.7" fill="#b9b9b9" fill-opacity="0.75"/>
<circle cx="523" cy="118" r="2.3" fill="#b0b0b0" fill-opacity="0.57"/>
<circle cx="515" cy="115" r="4.5" fill="#b1b1b1" fill-opacity="0.83"/>
<circle cx="513" cy="119" r="4.3" fill="#dfdfdf" fill-opacity="0.49"/>
<circle cx="510" cy="120" r="2.1" fill="#a2a2a2" fill-opacity="0.59"/>
<circle cx="505" cy="122" r="3.4" fill="#b0b0b0" fill-opacity="0.78"/>
<circle cx="501" cy="123" r="2.5" fill="#c3c3c3" fill-opacity="0.70"/>
<circle cx="499" cy="126" r="2.2" fill="#cbcbcb" fill-opacity="0.84"/>
<circle cx="500" cy="133" r="3.8" fill="#dcdcdc" fill-opacity="0.64"/>
<circle cx="503" cy="140" r="3.5" fill="#c9c9c9" fill-opacity="0.57"/>
<circle cx="491" cy="136" r="2.8" fill="#c6c6c6" fill-opacity="0.75"/>
<circle cx="490" cy="140" r="4.3" fill="#d3d3d3" fill-opacity="0.53"/>
<circle cx="487" cy="142" r="4.3" fill="#d8d8d8" fill-opacity="0.75"/>
<circle cx="490" cy="149" r="3.2" fill="#cecece" fill-opacity="0.49"/>
<circle cx="486" cy="151" r="4.2" fill="#aeaeae" fill-opacity="0.75"/>
<circle cx="483" cy="153" r="2.1" fill="#a5a5a5" fill-opacity="0.68"/>
<circle cx="489" cy="162" r="2.7" fill="#d0d0d0" fill-opacity="0.70"/>
<circle cx="478" cy="159" r="3.4" fill="#bbbbbb" fill-opacity="0.43"/>
<circle cx="486" cy="169" r="2.3" fill="#c9c9c9" fill-opacity="0.73"/>
<circle cx="483" cy="171" r="2.9" fill="#e8e8e8" fill-opacity="0.60"/>
<circle cx="473" cy="169" r="3.5" fill="#d3d3d3" fill-opacity="0.63"/>
<circle cx="473" cy="174" r="3.8" fill="#aeaeae" fill-opacity="0.76"/>
<circle cx="466" cy="173" r="1.9" fill="#b0b0b0" fill-opacity="0.53"/>
<circle cx="476" cy="184" r="2.2" fill="#d2d2d2" fill-opacity="0.48"/>
<circle cx="475" cy="188" r="4.4" fill="#c0c0c0" fill-opacity="0.65"/>
<circle cx="466" cy="186" r="2.8" fill="#c4c4c4" fill-opacity="0.51"/>
<circle cx="463" cy="189" r="2.5" fill="#acacac" fill-opacity="0.51"/>
<circle cx="465" cy="194" r="4.4" fill="#cfcfcf" fill-opacity="0.84"/>
<circle cx="464" cy="198" r="2.5" fill="#d7d7d7" fill-opacity="0.51"/>
<circle cx="452" cy="197" r="2.9" fill="#b6b6b6" fill-opacity="0.54"/>
<circle cx="463" cy="205" r="4.4" fill="#ededed" fill-opacity="0.66"/>
<circle cx="463" cy="210" r="1.8" fill="#a8a8a8" fill-opacity="0.55"/>
<circle cx="454" cy="210" r="3.6" fill="#e2e2e2" fill-opacity="0.77"/>
<circle cx="458" cy="216" r="3.7" fill="#c3c3c3" fill-opacity="0.73"/>
<circle cx="460" cy="220" r="4.5" fill="#a3a3a3" fill-opacity="0.69"/>
<circle cx="456" cy="223" r="4.0" fill="#acacac" fill-opacity="0.80"/>
<circle cx="461" cy="229" r="3.9" fill="#d7d7d7" fill-opacity="0.64"/>
<circle cx="457" cy="231" r="2.9" fill="#c3c3c3" fill-opacity="0.52"/>
<circle cx="456" cy="235" r="4.2" fill="#cbcbcb" fill-opacity="0.54"/>
<circle cx="447" cy="236" r="3.6" fill="#acacac" fill-opacity="0.67"/>
<circle cx="446" cy="240" r="2.1" fill="#b8b8b8" fill-opacity="0.79"/>
<circle cx="446" cy="244" r="2.4" fill="#bfbfbf" fill-opacity="0.62"/>
<circle cx="442" cy="247" r="4.2" fill="#a8a8a8" fill-opacity="0.44"/>
<circle cx="446" cy="252" r="1.9" fill="#adadad" fill-opacity="0.47"/>
<circle cx="452" cy="257" r="3.6" fill="#a9a9a9" fill-opacity="0.67"/>
<circle cx="435" cy="257" r="2.2" fill="#dbdbdb" fill-opacity="0.67"/>
<circle cx="450" cy="263" r="4.5" fill="#d9d9d9" fill-opacity="0.59"/>
<circle cx="435" cy="264" r="2.1" fill="#e1e1e1" fill-opacity="0.78"/>
<circle cx="449" cy="271" r="4.4" fill="#dddddd" fill-opacity="0.81"/>
<circle cx="445" cy="274" r="3.9" fill="#dcdcdc" fill-opacity="0.57"/>
<circle cx="449" cy="278" r="1.8" fill="#c8c8c8" fill-opacity="0.66"/>
<circle cx="447" cy="281" r="3.6" fill="#a5a5a5" fill-opacity="0.63"/>
<circle cx="439" cy="284" r="2.4" fill="#a5a5a5" fill-opacity="0.81"/>
<circle cx="432" cy="287" r="3.4" fill="#a4a4a4" fill-opacity="0.65"/>
<circle cx="430" cy="290" r="3.9" fill="#d6d6d6" fill-opacity="0.44"/>
<circle cx="437" cy="295" r="2.5" fill="#ececec" fill-opacity="0.43"/>
<circle cx="443" cy="300" r="4.3" fill="#ababab" fill-opacity="0.55"/>
<circle cx="441" cy="304" r="4.3" fill="#d6d6d6" fill-opacity="0.82"/>
<circle cx="442" cy="308" r="2.0" fill="#bbbbbb" fill-opacity="0.75"/>
<circle cx="434" cy="312" r="4.4" fill="#d7d7d7" fill-opacity="0.46"/>
<circle cx="441" cy="312" r="2.4" fill="#b6b6b6" fill-opacity="0.71"/>
<circle cx="440" cy="317" r="3.9" fill="#a3a3a3" fill-opacity="0.81"/>
<circle cx="447" cy="317" r="3.9" fill="#e1e1e1" fill-opacity="0.44"/>
<circle cx="442" cy="324" r="4.5" fill="#a2a2a2" fill-opacity="0.64"/>
<circle cx="446" cy="326" r="2.9" fill="#b0b0b0" fill-opacity="0.50"/>
<circle cx="450" cy="328" r="2.4" fill="#b8b8b8" fill-opacity="0.81"/>
<circle cx="441" cy="337" r="2.5" fill="#a4a4a4" fill-opacity="0.54"/>
<path d="M429.0,162.0 C427.2,166.7 421.7,180.7 418.0,190.0 C414.3,199.3 409.5,208.0 407.0,218.0 C404.5,228.0 404.0,239.7 403.0,250.0 C402.0,260.3 401.7,268.3 401.0,280.0 C400.3,291.7 399.5,307.7 399.0,320.0 C398.5,332.3 398.2,348.3 398.0,354.0" fill="none" stroke="#9a9a9a" stroke-width="5.5" stroke-opacity="0.42" stroke-linecap="round"/>
<circle cx="425" cy="160" r="1.8" fill="#979797" fill-opacity="0.33"/>
<circle cx="429" cy="166" r="1.8" fill="#949494" fill-opacity="0.41"/>
<circle cx="423" cy="168" r="2.4" fill="#898989" fill-opacity="0.31"/>
<circle cx="421" cy="171" r="1.6" fill="#8e8e8e" fill-opacity="0.60"/>
<circle cx="420" cy="175" r="2.1" fill="#a5a5a5" fill-opacity="0.38"/>
<circle cx="421" cy="179" r="2.5" fill="#9a9a9a" fill-opacity="0.39"/>
<circle cx="422" cy="183" r="2.1" fill="#a5a5a5" fill-opacity="0.52"/>
<circle cx="421" cy="187" r="2.9" fill="#949494" fill-opacity="0.37"/>
<circle cx="418" cy="190" r="1.7" fill="#7e7e7e" fill-opacity="0.32"/>
<circle cx="421" cy="195" r="2.6" fill="#a0a0a0" fill-opacity="0.55"/>
<circle cx="418" cy="198" r="3.2" fill="#858585" fill-opacity="0.51"/>
<circle cx="413" cy="200" r="2.3" fill="#989898" fill-opacity="0.57"/>
<circle cx="410" cy="203" r="2.4" fill="#a1a1a1" fill-opacity="0.52"/>
<circle cx="413" cy="208" r="3.2" fill="#898989" fill-opacity="0.31"/>
<circle cx="405" cy="209" r="3.1" fill="#909090" fill-opacity="0.53"/>
<circle cx="406" cy="214" r="1.7" fill="#9e9e9e" fill-opacity="0.49"/>
<circle cx="401" cy="217" r="2.3" fill="#828282" fill-opacity="0.53"/>
<circle cx="406" cy="221" r="3.0" fill="#757575" fill-opacity="0.51"/>
<circle cx="401" cy="225" r="1.8" fill="#787878" fill-opacity="0.45"/>
<circle cx="404" cy="228" r="2.6" fill="#909090" fill-opacity="0.40"/>
<circle cx="403" cy="232" r="3.2" fill="#8e8e8e" fill-opacity="0.42"/>
<circle cx="399" cy="235" r="1.8" fill="#919191" fill-opacity="0.55"/>
<circle cx="401" cy="239" r="2.8" fill="#989898" fill-opacity="0.43"/>
<circle cx="398" cy="242" r="1.5" fill="#8a8a8a" fill-opacity="0.44"/>
<circle cx="401" cy="246" r="2.0" fill="#7e7e7e" fill-opacity="0.43"/>
<circle cx="401" cy="250" r="2.4" fill="#a2a2a2" fill-opacity="0.44"/>
<circle cx="406" cy="254" r="2.6" fill="#888888" fill-opacity="0.31"/>
<circle cx="404" cy="258" r="1.7" fill="#959595" fill-opacity="0.57"/>
<circle cx="399" cy="261" r="3.2" fill="#7b7b7b" fill-opacity="0.55"/>
<circle cx="399" cy="265" r="1.9" fill="#8d8d8d" fill-opacity="0.35"/>
<circle cx="404" cy="269" r="2.4" fill="#888888" fill-opacity="0.42"/>
<circle cx="399" cy="272" r="2.7" fill="#797979" fill-opacity="0.47"/>
<circle cx="398" cy="276" r="1.6" fill="#9b9b9b" fill-opacity="0.31"/>
<circle cx="402" cy="280" r="2.2" fill="#747474" fill-opacity="0.32"/>
<circle cx="399" cy="284" r="2.0" fill="#8f8f8f" fill-opacity="0.35"/>
<circle cx="399" cy="287" r="3.1" fill="#9c9c9c" fill-opacity="0.41"/>
<circle cx="395" cy="291" r="2.1" fill="#828282" fill-opacity="0.43"/>
<circle cx="394" cy="294" r="2.2" fill="#838383" fill-opacity="0.46"/>
<circle cx="398" cy="298" r="2.8" fill="#999999" fill-opacity="0.50"/>
<circle cx="401" cy="302" r="2.3" fill="#a8a8a8" fill-opacity="0.45"/>
<circle cx="397" cy="305" r="2.1" fill="#747474" fill-opacity="0.42"/>
<circle cx="399" cy="309" r="2.2" fill="#7e7e7e" fill-opacity="0.35"/>
<circle cx="405" cy="313" r="2.7" fill="#8f8f8f" fill-opacity="0.54"/>
<circle cx="395" cy="316" r="2.8" fill="#9e9e9e" fill-opacity="0.57"/>
<circle cx="394" cy="320" r="2.9" fill="#a3a3a3" fill-opacity="0.40"/>
<circle cx="393" cy="324" r="3.1" fill="#9f9f9f" fill-opacity="0.55"/>
<circle cx="396" cy="327" r="2.5" fill="#8f8f8f" fill-opacity="0.58"/>
<circle cx="401" cy="331" r="2.6" fill="#a5a5a5" fill-opacity="0.38"/>
<circle cx="403" cy="335" r="2.0" fill="#8b8b8b" fill-opacity="0.45"/>
<circle cx="402" cy="339" r="1.9" fill="#7b7b7b" fill-opacity="0.44"/>
<circle cx="403" cy="343" r="2.1" fill="#7c7c7c" fill-opacity="0.49"/>
<circle cx="397" cy="346" r="1.9" fill="#a9a9a9" fill-opacity="0.39"/>
<circle cx="393" cy="350" r="2.0" fill="#919191" fill-opacity="0.48"/>
<path d="M368.0,311.0 C368.5,314.2 370.8,322.2 371.0,330.0 C371.2,337.8 369.3,353.3 369.0,358.0" fill="none" stroke="#f0f0f0" stroke-width="5.0" stroke-opacity="0.66" stroke-linecap="round"/>
<circle cx="367" cy="311" r="2.0" fill="#f6f6f6" fill-opacity="0.77"/>
<circle cx="368" cy="315" r="2.2" fill="#cbcbcb" fill-opacity="0.67"/>
<circle cx="367" cy="319" r="2.6" fill="#ffffff" fill-opacity="0.82"/>
<circle cx="365" cy="323" r="2.0" fill="#cbcbcb" fill-opacity="0.95"/>
<circle cx="371" cy="326" r="2.4" fill="#fcfcfc" fill-opacity="0.53"/>
<circle cx="375" cy="330" r="2.2" fill="#c4c4c4" fill-opacity="0.50"/>
<circle cx="368" cy="333" r="2.3" fill="#dadada" fill-opacity="0.78"/>
<circle cx="373" cy="337" r="2.1" fill="#d0d0d0" fill-opacity="0.78"/>
<circle cx="371" cy="341" r="2.4" fill="#e2e2e2" fill-opacity="0.75"/>
<circle cx="375" cy="344" r="2.7" fill="#ffffff" fill-opacity="0.51"/>
<circle cx="367" cy="347" r="2.3" fill="#f2f2f2" fill-opacity="0.48"/>
<circle cx="375" cy="351" r="2.3" fill="#e2e2e2" fill-opacity="0.52"/>
<circle cx="366" cy="354" r="1.6" fill="#fefefe" fill-opacity="0.85"/>
<path d="M174.0,650.0 C177.0,649.7 185.8,647.7 192.0,648.0 C198.2,648.3 207.8,651.3 211.0,652.0" fill="none" stroke="#eeeeee" stroke-width="5.5" stroke-opacity="0.66" stroke-linecap="round"/>
<circle cx="174" cy="653" r="3.0" fill="#cacaca" fill-opacity="0.77"/>
<circle cx="177" cy="644" r="2.8" fill="#c1c1c1" fill-opacity="0.50"/>
<circle cx="182" cy="652" r="1.6" fill="#e8e8e8" fill-opacity="0.93"/>
<circle cx="185" cy="649" r="2.5" fill="#f1f1f1" fill-opacity="0.83"/>
<circle cx="188" cy="648" r="1.6" fill="#ffffff" fill-opacity="0.82"/>
<circle cx="192" cy="648" r="2.7" fill="#c7c7c7" fill-opacity="0.59"/>
<circle cx="197" cy="643" r="2.2" fill="#e1e1e1" fill-opacity="0.52"/>
<circle cx="200" cy="646" r="2.2" fill="#b2b2b2" fill-opacity="0.86"/>
<circle cx="204" cy="646" r="3.1" fill="#e1e1e1" fill-opacity="0.62"/>
<circle cx="208" cy="646" r="2.6" fill="#b7b7b7" fill-opacity="0.63"/>
<path d="M413.0,650.0 C417.5,649.5 430.5,647.0 440.0,647.0 C449.5,647.0 461.0,648.5 470.0,650.0 C479.0,651.5 490.0,655.0 494.0,656.0" fill="none" stroke="#dddddd" stroke-width="5.0" stroke-opacity="0.59" stroke-linecap="round"/>
<circle cx="414" cy="655" r="2.8" fill="#dcdcdc" fill-opacity="0.67"/>
<circle cx="417" cy="651" r="2.6" fill="#e9e9e9" fill-opacity="0.47"/>
<circle cx="421" cy="653" r="3.0" fill="#d2d2d2" fill-opacity="0.57"/>
<circle cx="424" cy="644" r="2.0" fill="#a8a8a8" fill-opacity="0.71"/>
<circle cx="429" cy="649" r="2.6" fill="#e9e9e9" fill-opacity="0.56"/>
<circle cx="433" cy="651" r="2.6" fill="#d0d0d0" fill-opacity="0.45"/>
<circle cx="437" cy="651" r="2.3" fill="#c9c9c9" fill-opacity="0.79"/>
<circle cx="440" cy="643" r="1.5" fill="#d9d9d9" fill-opacity="0.73"/>
<circle cx="444" cy="648" r="2.3" fill="#e1e1e1" fill-opacity="0.78"/>
<circle cx="447" cy="649" r="2.6" fill="#cdcdcd" fill-opacity="0.50"/>
<circle cx="451" cy="651" r="1.5" fill="#b2b2b2" fill-opacity="0.67"/>
<circle cx="455" cy="647" r="2.8" fill="#bcbcbc" fill-opacity="0.63"/>
<circle cx="459" cy="646" r="2.8" fill="#c1c1c1" fill-opacity="0.73"/>
<circle cx="462" cy="652" r="2.2" fill="#aeaeae" fill-opacity="0.83"/>
<circle cx="467" cy="645" r="2.8" fill="#b1b1b1" fill-opacity="0.61"/>
<circle cx="470" cy="649" r="2.1" fill="#d3d3d3" fill-opacity="0.71"/>
<circle cx="473" cy="653" r="1.6" fill="#c2c2c2" fill-opacity="0.51"/>
<circle cx="476" cy="657" r="2.3" fill="#f2f2f2" fill-opacity="0.51"/>
<circle cx="480" cy="655" r="2.3" fill="#bfbfbf" fill-opacity="0.51"/>
<circle cx="483" cy="655" r="2.9" fill="#cbcbcb" fill-opacity="0.64"/>
<circle cx="486" cy="659" r="1.9" fill="#c1c1c1" fill-opacity="0.80"/>
<circle cx="492" cy="651" r="1.5" fill="#d9d9d9" fill-opacity="0.63"/>
<path d="M416.0,655.0 C416.2,658.3 416.7,668.8 417.0,675.0 C417.3,681.2 417.8,689.2 418.0,692.0" fill="none" stroke="#bbbbbb" stroke-width="2.8" stroke-opacity="0.49" stroke-linecap="round"/>
<circle cx="414" cy="655" r="1.7" fill="#9e9e9e" fill-opacity="0.58"/>
<circle cx="417" cy="659" r="1.8" fill="#999999" fill-opacity="0.37"/>
<circle cx="414" cy="663" r="2.0" fill="#969696" fill-opacity="0.39"/>
<circle cx="415" cy="667" r="1.9" fill="#a9a9a9" fill-opacity="0.65"/>
<circle cx="415" cy="671" r="2.0" fill="#c8c8c8" fill-opacity="0.63"/>
<circle cx="420" cy="675" r="1.8" fill="#929292" fill-opacity="0.66"/>
<circle cx="415" cy="679" r="1.8" fill="#a8a8a8" fill-opacity="0.59"/>
<circle cx="419" cy="683" r="1.9" fill="#cbcbcb" fill-opacity="0.36"/>
<circle cx="418" cy="688" r="2.0" fill="#989898" fill-opacity="0.47"/>
<path d="M470.0,250.0 C471.3,256.7 476.3,276.7 478.0,290.0 C479.7,303.3 479.7,323.3 480.0,330.0" fill="none" stroke="#808080" stroke-width="4.4" stroke-opacity="0.28" stroke-linecap="round"/>
<circle cx="467" cy="251" r="2.2" fill="#6b6b6b" fill-opacity="0.28"/>
<circle cx="472" cy="253" r="2.1" fill="#8c8c8c" fill-opacity="0.25"/>
<circle cx="473" cy="257" r="2.6" fill="#757575" fill-opacity="0.33"/>
<circle cx="469" cy="262" r="1.5" fill="#676767" fill-opacity="0.23"/>
<circle cx="476" cy="264" r="1.5" fill="#6a6a6a" fill-opacity="0.38"/>
<circle cx="470" cy="269" r="2.4" fill="#777777" fill-opacity="0.35"/>
<circle cx="470" cy="273" r="1.8" fill="#808080" fill-opacity="0.23"/>
<circle cx="476" cy="275" r="2.1" fill="#7c7c7c" fill-opacity="0.24"/>
<circle cx="477" cy="279" r="1.6" fill="#707070" fill-opacity="0.36"/>
<circle cx="479" cy="282" r="1.9" fill="#7a7a7a" fill-opacity="0.24"/>
<circle cx="474" cy="287" r="1.9" fill="#6d6d6d" fill-opacity="0.26"/>
<circle cx="478" cy="290" r="2.0" fill="#727272" fill-opacity="0.28"/>
<circle cx="481" cy="293" r="1.5" fill="#868686" fill-opacity="0.37"/>
<circle cx="476" cy="297" r="2.1" fill="#8b8b8b" fill-opacity="0.23"/>
<circle cx="483" cy="301" r="2.7" fill="#787878" fill-opacity="0.31"/>
<circle cx="479" cy="305" r="2.4" fill="#7d7d7d" fill-opacity="0.35"/>
<circle cx="479" cy="308" r="2.5" fill="#7d7d7d" fill-opacity="0.37"/>
<circle cx="476" cy="312" r="1.6" fill="#737373" fill-opacity="0.33"/>
<circle cx="477" cy="316" r="2.0" fill="#7a7a7a" fill-opacity="0.38"/>
<circle cx="482" cy="319" r="1.8" fill="#6d6d6d" fill-opacity="0.23"/>
<circle cx="479" cy="323" r="2.2" fill="#8c8c8c" fill-opacity="0.31"/>
<circle cx="482" cy="326" r="1.5" fill="#7a7a7a" fill-opacity="0.23"/>
</g>
<g filter="url(#dicn)"><g clip-path="url(#dc0)">
<rect width="563" height="981" fill="#3232c4"/>
<g filter="url(#bl6)">
<ellipse cx="285" cy="245" rx="28" ry="14" fill="#3a7cd0" fill-opacity="0.7"/>
<ellipse cx="330" cy="250" rx="25" ry="10" fill="#3a7cd0" fill-opacity="0.55"/>
<ellipse cx="260" cy="292" rx="8" ry="14" fill="#2cb4b8" fill-opacity="0.8"/>
<ellipse cx="258" cy="296" rx="5" ry="9" fill="#34ac40" fill-opacity="0.7"/>
<ellipse cx="280" cy="330" rx="25" ry="20" fill="#3a7cd0" fill-opacity="0.7"/>
<ellipse cx="335" cy="300" rx="20" ry="14" fill="#3a7cd0" fill-opacity="0.6"/>
<ellipse cx="355" cy="268" rx="8" ry="12" fill="#2cb4b8" fill-opacity="0.6"/>
<ellipse cx="290" cy="375" rx="40" ry="15" fill="#3a7cd0" fill-opacity="0.65"/>
<ellipse cx="315" cy="410" rx="30" ry="14" fill="#3a7cd0" fill-opacity="0.6"/>
<ellipse cx="258" cy="430" rx="18" ry="16" fill="#3a7cd0" fill-opacity="0.5"/>
<ellipse cx="320" cy="455" rx="25" ry="12" fill="#3a7cd0" fill-opacity="0.55"/>
<ellipse cx="262" cy="470" rx="20" ry="10" fill="#3a7cd0" fill-opacity="0.45"/>
<ellipse cx="300" cy="500" rx="25" ry="10" fill="#3a7cd0" fill-opacity="0.45"/>
<ellipse cx="270" cy="525" rx="14" ry="10" fill="#3a7cd0" fill-opacity="0.4"/>
<ellipse cx="345" cy="675" rx="8" ry="14" fill="#2cb4b8" fill-opacity="0.7"/>
<ellipse cx="345" cy="640" rx="8" ry="20" fill="#3a7cd0" fill-opacity="0.5"/>
</g>
<g filter="url(#bl2)">
</g>
</g></g>
<path d="M200.0,790.0 C198.3,793.7 193.3,805.3 190.0,812.0 C186.7,818.7 181.7,827.0 180.0,830.0" fill="none" stroke="#c89030" stroke-width="6" stroke-opacity="0.9" stroke-linecap="round" filter="url(#bl1)"/>
<path d="M185.0,822.0 C183.8,824.7 179.2,835.3 178.0,838.0" fill="none" stroke="#cc3028" stroke-width="10" stroke-opacity="0.95" stroke-linecap="round" filter="url(#bl1)"/>
<path d="M207.0,772.0 C205.5,775.8 201.5,787.0 198.0,795.0 C194.5,803.0 188.0,815.8 186.0,820.0" fill="none" stroke="#34ac40" stroke-width="4" stroke-opacity="0.9" stroke-linecap="round" filter="url(#bl1)"/>
<path d="M178.0,845.0 C176.3,847.8 170.7,857.5 168.0,862.0 C165.3,866.5 163.0,870.3 162.0,872.0" fill="none" stroke="#2cb4b8" stroke-width="4" stroke-opacity="0.9" stroke-linecap="round" filter="url(#bl1)"/>
<path d="M195.0,800.0 C193.3,803.7 186.7,818.3 185.0,822.0" fill="none" stroke="#bcbc38" stroke-width="3" stroke-opacity="0.8" stroke-linecap="round" filter="url(#bl1)"/>
</g>
<text x="28" y="94.5" font-size="82" fill="#fff" letter-spacing="1.5">(b)</text>
</g></g>
<g transform="translate(616,1790)">
<clipPath id="cp1"><rect width="561" height="981"/></clipPath>
<linearGradient id="sg1" x1="0" y1="0" x2="0" y2="981" gradientUnits="userSpaceOnUse">
<stop offset="0" stop-color="#202020"/>
<stop offset="0.1" stop-color="#2a2a2a"/>
<stop offset="0.13" stop-color="#4a4a4a"/>
<stop offset="0.2" stop-color="#585858"/>
<stop offset="0.4" stop-color="#5a5a5a"/>
<stop offset="0.6" stop-color="#606060"/>
<stop offset="0.78" stop-color="#707070"/>
<stop offset="0.88" stop-color="#828282"/>
<stop offset="1" stop-color="#888888"/>
</linearGradient>
<linearGradient id="bg1" x1="360" y1="0" x2="561" y2="0" gradientUnits="userSpaceOnUse"><stop offset="0" stop-color="#5e5e5e"/><stop offset="1" stop-color="#6e6e6e"/></linearGradient>
<clipPath id="dc1"><path d="M217.0,161.0 L322.0,161.0 L328.0,186.0 L356.0,186.0 L356.0,211.0 L341.0,217.0 L341.0,242.0 L344.0,250.0 L344.0,420.0 L356.0,420.0 L356.0,497.0 L344.0,502.0 L344.0,722.0 L356.5,722.0 L356.5,753.0 L372.0,753.0 L372.0,784.0 L381.0,784.0 L381.0,812.0 L193.6,812.0 L193.6,769.0 L201.0,750.0 L210.0,690.0 L217.0,670.0 L223.0,638.7 L235.0,638.7 L235.0,192.0 L217.0,192.0Z"/></clipPath>
<g clip-path="url(#cp1)">
<g filter="url(#pblur)">
<rect width="561" height="981" fill="#050505"/>
<linearGradient id="tg1" x1="0" y1="0" x2="0" y2="981" gradientUnits="userSpaceOnUse"><stop offset="0.06" stop-color="#2c2c2c" stop-opacity="0"/><stop offset="0.14" stop-color="#2c2c2c" stop-opacity="1"/></linearGradient>
<path d="M0.0,0.0 L561.0,0.0 L561.0,981.0 L0.0,981.0Z" fill="url(#tg1)" opacity="0.5" filter="url(#blot)"/>
<linearGradient id="bl1g" x1="0" y1="0" x2="200" y2="0" gradientUnits="userSpaceOnUse"><stop offset="0" stop-color="#1c1c1c"/><stop offset="1" stop-color="#2a2a2a"/></linearGradient>
<rect x="0" y="335" width="290" height="272" fill="url(#bl1g)"/>
<rect x="290" y="335" width="271" height="272" fill="url(#bg1)"/>
<path d="M150.0,92.0 C153.3,95.3 164.0,104.2 170.0,112.0 C176.0,119.8 180.3,126.7 186.0,139.0 C191.7,151.3 199.3,167.8 204.0,186.0 C208.7,204.2 211.8,227.3 214.0,248.0 C216.2,268.7 217.0,289.3 217.0,310.0 C217.0,330.7 214.5,341.8 214.0,372.0 C213.5,402.2 214.0,459.7 214.0,491.0 C214.0,522.3 215.2,538.5 214.0,560.0 C212.8,581.5 209.2,600.7 207.0,620.0 C204.8,639.3 204.5,653.8 201.0,676.0 C197.5,698.2 192.7,732.3 186.0,753.0 C179.3,773.7 170.3,784.5 161.0,800.0 C151.7,815.5 141.3,833.2 130.0,846.0 C118.7,858.8 106.9,867.7 93.0,877.0 C79.1,886.3 60.5,894.2 46.5,902.0 C32.5,909.8 17.6,918.5 9.0,924.0 C0.4,929.5 -2.7,933.2 -5.0,935.0" fill="none" stroke="#050505" stroke-opacity="0.85" stroke-width="44" filter="url(#bl3)"/>
<path d="M-5.0,990.0 C90.8,990.0 474.8,1000.0 570.0,990.0 C665.2,980.0 575.8,946.2 566.0,930.0 C556.2,913.8 527.8,907.0 511.0,893.0 C494.2,879.0 477.8,861.5 465.0,846.0 C452.2,830.5 442.8,818.0 434.0,800.0 C425.2,782.0 418.8,758.7 412.0,738.0 C405.2,717.3 397.7,696.7 393.0,676.0 C388.3,655.3 386.0,644.8 384.0,614.0 C382.0,583.2 381.5,562.3 381.0,491.0 C380.5,419.7 383.2,241.5 381.0,186.0 C378.8,130.5 374.8,166.0 368.0,158.0 C361.2,150.0 349.7,143.3 340.0,138.0 C330.3,132.7 321.7,129.3 310.0,126.0 C298.3,122.7 285.0,120.3 270.0,118.0 C255.0,115.7 234.2,115.0 220.0,112.0 C205.8,109.0 190.8,102.0 185.0,100.0" fill="none" stroke="#050505" stroke-opacity="0.6" stroke-width="20" filter="url(#bl3)"/>
<path d="M150.0,92.0 C147.5,94.0 164.0,104.2 170.0,112.0 C176.0,119.8 180.3,126.7 186.0,139.0 C191.7,151.3 199.3,167.8 204.0,186.0 C208.7,204.2 211.8,227.3 214.0,248.0 C216.2,268.7 217.0,289.3 217.0,310.0 C217.0,330.7 214.5,341.8 214.0,372.0 C213.5,402.2 214.0,459.7 214.0,491.0 C214.0,522.3 215.2,538.5 214.0,560.0 C212.8,581.5 209.2,600.7 207.0,620.0 C204.8,639.3 204.5,653.8 201.0,676.0 C197.5,698.2 192.7,732.3 186.0,753.0 C179.3,773.7 170.3,784.5 161.0,800.0 C151.7,815.5 141.3,833.2 130.0,846.0 C118.7,858.8 106.9,867.7 93.0,877.0 C79.1,886.3 60.5,894.2 46.5,902.0 C32.5,909.8 17.6,918.5 9.0,924.0 C0.4,929.5 -2.7,924.0 -5.0,935.0 C-7.3,946.0 -100.8,980.8 -5.0,990.0 C90.8,999.2 474.8,1000.0 570.0,990.0 C665.2,980.0 575.8,946.2 566.0,930.0 C556.2,913.8 527.8,907.0 511.0,893.0 C494.2,879.0 477.8,861.5 465.0,846.0 C452.2,830.5 442.8,818.0 434.0,800.0 C425.2,782.0 418.8,758.7 412.0,738.0 C405.2,717.3 397.7,696.7 393.0,676.0 C388.3,655.3 386.0,644.8 384.0,614.0 C382.0,583.2 381.5,562.3 381.0,491.0 C380.5,419.7 383.2,241.5 381.0,186.0 C378.8,130.5 374.8,166.0 368.0,158.0 C361.2,150.0 349.7,143.3 340.0,138.0 C330.3,132.7 321.7,129.3 310.0,126.0 C298.3,122.7 285.0,120.3 270.0,118.0 C255.0,115.7 234.2,115.0 220.0,112.0 C205.8,109.0 196.7,103.3 185.0,100.0 C173.3,96.7 152.5,90.0 150.0,92.0Z" fill="url(#sg1)" filter="url(#spk)"/>
<path d="M270.0,940.0 L290.0,940.0 L300.0,981.0 L265.0,981.0Z" fill="#2a2a2a" filter="url(#bl1)"/>
<g filter="url(#bl2)">
<path d="M445.0,112.0 C442.8,116.7 436.2,130.3 432.0,140.0 C427.8,149.7 423.7,160.0 420.0,170.0 C416.3,180.0 412.8,190.0 410.0,200.0 C407.2,210.0 405.0,220.0 403.0,230.0 C401.0,240.0 399.5,250.0 398.0,260.0 C396.5,270.0 395.0,279.2 394.0,290.0 C393.0,300.8 392.3,319.2 392.0,325.0" fill="none" stroke="#f4f4f4" stroke-width="14.3" stroke-opacity="0.59" stroke-linecap="round"/>
<circle cx="443" cy="111" r="3.2" fill="#ffffff" fill-opacity="0.82"/>
<circle cx="444" cy="116" r="5.3" fill="#c9c9c9" fill-opacity="0.52"/>
<circle cx="448" cy="122" r="5.5" fill="#c9c9c9" fill-opacity="0.84"/>
<circle cx="452" cy="128" r="3.2" fill="#bebebe" fill-opacity="0.75"/>
<circle cx="442" cy="128" r="4.4" fill="#d2d2d2" fill-opacity="0.70"/>
<circle cx="440" cy="131" r="3.2" fill="#dbdbdb" fill-opacity="0.55"/>
<circle cx="446" cy="138" r="6.0" fill="#f1f1f1" fill-opacity="0.71"/>
<circle cx="423" cy="131" r="4.1" fill="#d7d7d7" fill-opacity="0.60"/>
<circle cx="435" cy="141" r="5.3" fill="#b7b7b7" fill-opacity="0.62"/>
<circle cx="430" cy="143" r="3.9" fill="#b8b8b8" fill-opacity="0.72"/>
<circle cx="444" cy="152" r="4.9" fill="#c4c4c4" fill-opacity="0.44"/>
<circle cx="437" cy="154" r="2.6" fill="#c3c3c3" fill-opacity="0.72"/>
<circle cx="420" cy="151" r="4.0" fill="#eeeeee" fill-opacity="0.63"/>
<circle cx="425" cy="157" r="6.3" fill="#d1d1d1" fill-opacity="0.79"/>
<circle cx="418" cy="158" r="5.4" fill="#b7b7b7" fill-opacity="0.46"/>
<circle cx="436" cy="169" r="3.9" fill="#ffffff" fill-opacity="0.80"/>
<circle cx="412" cy="163" r="2.8" fill="#f3f3f3" fill-opacity="0.75"/>
<circle cx="411" cy="167" r="5.9" fill="#c2c2c2" fill-opacity="0.50"/>
<circle cx="410" cy="170" r="5.7" fill="#ffffff" fill-opacity="0.61"/>
<circle cx="406" cy="173" r="2.9" fill="#ffffff" fill-opacity="0.80"/>
<circle cx="421" cy="182" r="2.6" fill="#e5e5e5" fill-opacity="0.72"/>
<circle cx="420" cy="185" r="2.6" fill="#cecece" fill-opacity="0.78"/>
<circle cx="427" cy="191" r="6.6" fill="#cccccc" fill-opacity="0.51"/>
<circle cx="425" cy="194" r="6.8" fill="#ffffff" fill-opacity="0.56"/>
<circle cx="424" cy="197" r="5.3" fill="#ffffff" fill-opacity="0.43"/>
<circle cx="407" cy="195" r="6.2" fill="#dedede" fill-opacity="0.67"/>
<circle cx="401" cy="198" r="3.4" fill="#cecece" fill-opacity="0.71"/>
<circle cx="408" cy="203" r="4.7" fill="#d3d3d3" fill-opacity="0.82"/>
<circle cx="415" cy="209" r="5.4" fill="#ffffff" fill-opacity="0.60"/>
<circle cx="421" cy="214" r="3.3" fill="#bcbcbc" fill-opacity="0.49"/>
<circle cx="418" cy="218" r="3.9" fill="#d6d6d6" fill-opacity="0.62"/>
<circle cx="401" cy="218" r="5.4" fill="#f1f1f1" fill-opacity="0.58"/>
<circle cx="400" cy="221" r="4.8" fill="#c1c1c1" fill-opacity="0.66"/>
<circle cx="409" cy="228" r="5.4" fill="#f5f5f5" fill-opacity="0.53"/>
<circle cx="405" cy="230" r="4.4" fill="#d0d0d0" fill-opacity="0.44"/>
<circle cx="416" cy="236" r="6.8" fill="#f6f6f6" fill-opacity="0.61"/>
<circle cx="397" cy="237" r="3.5" fill="#f3f3f3" fill-opacity="0.83"/>
<circle cx="393" cy="240" r="4.4" fill="#ffffff" fill-opacity="0.82"/>
<circle cx="414" cy="247" r="4.2" fill="#dddddd" fill-opacity="0.54"/>
<circle cx="396" cy="248" r="3.0" fill="#f6f6f6" fill-opacity="0.79"/>
<circle cx="413" cy="255" r="5.4" fill="#cdcdcd" fill-opacity="0.70"/>
<circle cx="393" cy="255" r="6.7" fill="#fbfbfb" fill-opacity="0.57"/>
<circle cx="391" cy="259" r="3.0" fill="#f3f3f3" fill-opacity="0.60"/>
<circle cx="405" cy="265" r="3.4" fill="#c9c9c9" fill-opacity="0.76"/>
<circle cx="409" cy="269" r="3.4" fill="#c7c7c7" fill-opacity="0.49"/>
<circle cx="389" cy="270" r="5.0" fill="#efefef" fill-opacity="0.81"/>
<circle cx="398" cy="275" r="2.5" fill="#c7c7c7" fill-opacity="0.64"/>
<circle cx="389" cy="278" r="6.5" fill="#e2e2e2" fill-opacity="0.52"/>
<circle cx="392" cy="282" r="6.6" fill="#d3d3d3" fill-opacity="0.82"/>
<circle cx="382" cy="285" r="4.9" fill="#e0e0e0" fill-opacity="0.48"/>
<circle cx="406" cy="291" r="2.5" fill="#ebebeb" fill-opacity="0.73"/>
<circle cx="378" cy="293" r="5.0" fill="#ffffff" fill-opacity="0.60"/>
<circle cx="405" cy="298" r="2.6" fill="#cfcfcf" fill-opacity="0.65"/>
<circle cx="378" cy="300" r="3.7" fill="#cbcbcb" fill-opacity="0.73"/>
<circle cx="397" cy="304" r="4.8" fill="#c3c3c3" fill-opacity="0.79"/>
<circle cx="380" cy="307" r="5.7" fill="#ffffff" fill-opacity="0.57"/>
<circle cx="407" cy="312" r="3.7" fill="#ffffff" fill-opacity="0.62"/>
<circle cx="402" cy="315" r="3.0" fill="#c5c5c5" fill-opacity="0.61"/>
<circle cx="379" cy="317" r="6.3" fill="#f7f7f7" fill-opacity="0.75"/>
<circle cx="402" cy="322" r="5.8" fill="#cacaca" fill-opacity="0.65"/>
<path d="M468.0,120.0 C466.3,126.7 461.0,146.7 458.0,160.0 C455.0,173.3 452.3,186.7 450.0,200.0 C447.7,213.3 446.0,226.7 444.0,240.0 C442.0,253.3 440.0,265.8 438.0,280.0 C436.0,294.2 433.0,317.5 432.0,325.0" fill="none" stroke="#e0e0e0" stroke-width="8.8" stroke-opacity="0.56" stroke-linecap="round"/>
<circle cx="477" cy="122" r="4.3" fill="#b2b2b2" fill-opacity="0.64"/>
<circle cx="464" cy="123" r="3.6" fill="#dddddd" fill-opacity="0.55"/>
<circle cx="461" cy="126" r="4.4" fill="#d8d8d8" fill-opacity="0.79"/>
<circle cx="459" cy="129" r="2.0" fill="#dcdcdc" fill-opacity="0.44"/>
<circle cx="461" cy="134" r="2.8" fill="#eaeaea" fill-opacity="0.42"/>
<circle cx="455" cy="136" r="1.9" fill="#acacac" fill-opacity="0.40"/>
<circle cx="470" cy="144" r="4.6" fill="#e9e9e9" fill-opacity="0.77"/>
<circle cx="467" cy="147" r="3.7" fill="#e6e6e6" fill-opacity="0.69"/>
<circle cx="465" cy="150" r="4.5" fill="#e1e1e1" fill-opacity="0.67"/>
<circle cx="464" cy="154" r="2.9" fill="#e3e3e3" fill-opacity="0.61"/>
<circle cx="459" cy="156" r="4.4" fill="#c8c8c8" fill-opacity="0.74"/>
<circle cx="467" cy="162" r="3.3" fill="#dfdfdf" fill-opacity="0.40"/>
<circle cx="454" cy="163" r="2.6" fill="#d9d9d9" fill-opacity="0.65"/>
<circle cx="463" cy="169" r="4.4" fill="#bbbbbb" fill-opacity="0.45"/>
<circle cx="457" cy="171" r="2.0" fill="#afafaf" fill-opacity="0.70"/>
<circle cx="463" cy="176" r="3.3" fill="#ededed" fill-opacity="0.58"/>
<circle cx="448" cy="177" r="4.1" fill="#b4b4b4" fill-opacity="0.43"/>
<circle cx="448" cy="181" r="4.2" fill="#eaeaea" fill-opacity="0.69"/>
<circle cx="453" cy="185" r="4.5" fill="#e2e2e2" fill-opacity="0.71"/>
<circle cx="444" cy="188" r="2.0" fill="#e2e2e2" fill-opacity="0.63"/>
<circle cx="461" cy="195" r="2.5" fill="#e0e0e0" fill-opacity="0.61"/>
<circle cx="450" cy="196" r="2.6" fill="#d4d4d4" fill-opacity="0.75"/>
<circle cx="441" cy="199" r="3.3" fill="#e1e1e1" fill-opacity="0.43"/>
<circle cx="456" cy="205" r="3.4" fill="#e8e8e8" fill-opacity="0.45"/>
<circle cx="456" cy="208" r="3.2" fill="#bfbfbf" fill-opacity="0.46"/>
<circle cx="455" cy="212" r="3.0" fill="#e6e6e6" fill-opacity="0.47"/>
<circle cx="442" cy="214" r="2.0" fill="#bbbbbb" fill-opacity="0.67"/>
<circle cx="457" cy="220" r="2.7" fill="#b4b4b4" fill-opacity="0.49"/>
<circle cx="439" cy="221" r="2.2" fill="#e0e0e0" fill-opacity="0.76"/>
<circle cx="451" cy="226" r="4.2" fill="#c1c1c1" fill-opacity="0.71"/>
<circle cx="444" cy="229" r="2.8" fill="#ededed" fill-opacity="0.68"/>
<circle cx="449" cy="233" r="3.4" fill="#bfbfbf" fill-opacity="0.51"/>
<circle cx="436" cy="235" r="4.5" fill="#b4b4b4" fill-opacity="0.77"/>
<circle cx="440" cy="239" r="1.8" fill="#b0b0b0" fill-opacity="0.57"/>
<circle cx="436" cy="243" r="4.2" fill="#bbbbbb" fill-opacity="0.58"/>
<circle cx="435" cy="246" r="2.4" fill="#b0b0b0" fill-opacity="0.57"/>
<circle cx="439" cy="250" r="4.2" fill="#ececec" fill-opacity="0.40"/>
<circle cx="448" cy="255" r="2.2" fill="#d6d6d6" fill-opacity="0.56"/>
<circle cx="433" cy="257" r="3.5" fill="#d8d8d8" fill-opacity="0.67"/>
<circle cx="446" cy="263" r="4.3" fill="#ebebeb" fill-opacity="0.73"/>
<circle cx="435" cy="265" r="2.3" fill="#acacac" fill-opacity="0.55"/>
<circle cx="436" cy="268" r="2.4" fill="#ececec" fill-opacity="0.74"/>
<circle cx="435" cy="272" r="3.2" fill="#b3b3b3" fill-opacity="0.72"/>
<circle cx="445" cy="277" r="3.2" fill="#e3e3e3" fill-opacity="0.65"/>
<circle cx="443" cy="281" r="4.3" fill="#c1c1c1" fill-opacity="0.57"/>
<circle cx="439" cy="284" r="3.8" fill="#ababab" fill-opacity="0.66"/>
<circle cx="437" cy="288" r="4.0" fill="#c4c4c4" fill-opacity="0.63"/>
<circle cx="428" cy="290" r="2.0" fill="#e6e6e6" fill-opacity="0.59"/>
<circle cx="440" cy="296" r="2.6" fill="#b9b9b9" fill-opacity="0.74"/>
<circle cx="441" cy="300" r="4.5" fill="#d0d0d0" fill-opacity="0.51"/>
<circle cx="430" cy="302" r="3.4" fill="#ededed" fill-opacity="0.46"/>
<circle cx="431" cy="306" r="1.9" fill="#b6b6b6" fill-opacity="0.57"/>
<circle cx="438" cy="310" r="2.6" fill="#d4d4d4" fill-opacity="0.70"/>
<circle cx="435" cy="314" r="3.2" fill="#e5e5e5" fill-opacity="0.49"/>
<circle cx="424" cy="316" r="1.9" fill="#c5c5c5" fill-opacity="0.73"/>
<circle cx="438" cy="322" r="2.7" fill="#b5b5b5" fill-opacity="0.79"/>
<path d="M490.0,70.0 C492.5,76.7 500.0,96.7 505.0,110.0 C510.0,123.3 515.8,135.0 520.0,150.0 C524.2,165.0 526.7,185.0 530.0,200.0 C533.3,215.0 538.3,233.3 540.0,240.0" fill="none" stroke="#999999" stroke-width="12.1" stroke-opacity="0.35" stroke-linecap="round"/>
<circle cx="481" cy="73" r="2.4" fill="#8f8f8f" fill-opacity="0.29"/>
<circle cx="503" cy="69" r="3.0" fill="#989898" fill-opacity="0.38"/>
<circle cx="498" cy="75" r="4.3" fill="#777777" fill-opacity="0.34"/>
<circle cx="504" cy="76" r="5.3" fill="#878787" fill-opacity="0.43"/>
<circle cx="499" cy="82" r="3.7" fill="#919191" fill-opacity="0.31"/>
<circle cx="495" cy="87" r="5.1" fill="#767676" fill-opacity="0.30"/>
<circle cx="509" cy="86" r="4.0" fill="#787878" fill-opacity="0.38"/>
<circle cx="507" cy="90" r="4.1" fill="#818181" fill-opacity="0.44"/>
<circle cx="492" cy="100" r="5.8" fill="#8b8b8b" fill-opacity="0.47"/>
<circle cx="492" cy="103" r="3.4" fill="#a7a7a7" fill-opacity="0.49"/>
<circle cx="511" cy="100" r="5.0" fill="#979797" fill-opacity="0.40"/>
<circle cx="499" cy="109" r="3.2" fill="#9f9f9f" fill-opacity="0.43"/>
<circle cx="513" cy="107" r="5.8" fill="#9a9a9a" fill-opacity="0.26"/>
<circle cx="518" cy="109" r="2.8" fill="#969696" fill-opacity="0.43"/>
<circle cx="497" cy="121" r="5.5" fill="#7d7d7d" fill-opacity="0.30"/>
<circle cx="519" cy="116" r="3.6" fill="#898989" fill-opacity="0.35"/>
<circle cx="502" cy="126" r="4.5" fill="#9d9d9d" fill-opacity="0.47"/>
<circle cx="505" cy="129" r="4.1" fill="#888888" fill-opacity="0.38"/>
<circle cx="513" cy="130" r="4.7" fill="#a0a0a0" fill-opacity="0.42"/>
<circle cx="520" cy="131" r="4.3" fill="#8b8b8b" fill-opacity="0.28"/>
<circle cx="525" cy="133" r="3.8" fill="#a5a5a5" fill-opacity="0.43"/>
<circle cx="527" cy="136" r="5.6" fill="#999999" fill-opacity="0.40"/>
<circle cx="530" cy="139" r="3.3" fill="#848484" fill-opacity="0.37"/>
<circle cx="528" cy="143" r="4.5" fill="#939393" fill-opacity="0.41"/>
<circle cx="520" cy="150" r="4.2" fill="#787878" fill-opacity="0.46"/>
<circle cx="511" cy="155" r="5.4" fill="#9b9b9b" fill-opacity="0.31"/>
<circle cx="527" cy="156" r="2.3" fill="#9c9c9c" fill-opacity="0.46"/>
<circle cx="511" cy="163" r="4.4" fill="#9d9d9d" fill-opacity="0.46"/>
<circle cx="533" cy="162" r="2.4" fill="#a1a1a1" fill-opacity="0.49"/>
<circle cx="518" cy="169" r="4.5" fill="#878787" fill-opacity="0.46"/>
<circle cx="530" cy="170" r="2.3" fill="#9d9d9d" fill-opacity="0.27"/>
<circle cx="519" cy="176" r="4.6" fill="#787878" fill-opacity="0.36"/>
<circle cx="532" cy="177" r="5.2" fill="#9c9c9c" fill-opacity="0.33"/>
<circle cx="535" cy="180" r="3.4" fill="#8a8a8a" fill-opacity="0.40"/>
<circle cx="516" cy="188" r="3.3" fill="#7a7a7a" fill-opacity="0.41"/>
<circle cx="530" cy="189" r="5.0" fill="#969696" fill-opacity="0.39"/>
<circle cx="520" cy="194" r="2.9" fill="#9c9c9c" fill-opacity="0.30"/>
<circle cx="530" cy="196" r="4.2" fill="#8f8f8f" fill-opacity="0.28"/>
<circle cx="531" cy="200" r="3.2" fill="#818181" fill-opacity="0.36"/>
<circle cx="533" cy="203" r="2.9" fill="#979797" fill-opacity="0.48"/>
<circle cx="520" cy="210" r="2.8" fill="#7f7f7f" fill-opacity="0.35"/>
<circle cx="530" cy="212" r="4.8" fill="#929292" fill-opacity="0.37"/>
<circle cx="521" cy="218" r="5.8" fill="#9d9d9d" fill-opacity="0.31"/>
<circle cx="528" cy="220" r="2.2" fill="#a5a5a5" fill-opacity="0.43"/>
<circle cx="525" cy="225" r="3.7" fill="#989898" fill-opacity="0.31"/>
<circle cx="525" cy="228" r="2.8" fill="#737373" fill-opacity="0.32"/>
<circle cx="533" cy="230" r="4.2" fill="#9d9d9d" fill-opacity="0.42"/>
<circle cx="531" cy="235" r="5.7" fill="#767676" fill-opacity="0.28"/>
<circle cx="545" cy="235" r="2.6" fill="#909090" fill-opacity="0.43"/>
<path d="M530.0,60.0 C533.3,66.7 545.0,85.0 550.0,100.0 C555.0,115.0 558.3,141.7 560.0,150.0" fill="none" stroke="#888888" stroke-width="7.7" stroke-opacity="0.32" stroke-linecap="round"/>
<circle cx="535" cy="58" r="2.9" fill="#717171" fill-opacity="0.23"/>
<circle cx="535" cy="62" r="2.4" fill="#868686" fill-opacity="0.44"/>
<circle cx="540" cy="63" r="2.9" fill="#7c7c7c" fill-opacity="0.37"/>
<circle cx="540" cy="67" r="4.0" fill="#737373" fill-opacity="0.36"/>
<circle cx="538" cy="73" r="3.1" fill="#8f8f8f" fill-opacity="0.36"/>
<circle cx="541" cy="75" r="4.0" fill="#6e6e6e" fill-opacity="0.44"/>
<circle cx="537" cy="81" r="2.3" fill="#949494" fill-opacity="0.42"/>
<circle cx="542" cy="83" r="3.7" fill="#6a6a6a" fill-opacity="0.29"/>
<circle cx="544" cy="87" r="4.0" fill="#777777" fill-opacity="0.45"/>
<circle cx="544" cy="91" r="3.5" fill="#8b8b8b" fill-opacity="0.25"/>
<circle cx="540" cy="96" r="3.2" fill="#6b6b6b" fill-opacity="0.26"/>
<circle cx="544" cy="99" r="3.1" fill="#929292" fill-opacity="0.42"/>
<circle cx="549" cy="100" r="2.7" fill="#8a8a8a" fill-opacity="0.45"/>
<circle cx="554" cy="103" r="3.0" fill="#6b6b6b" fill-opacity="0.23"/>
<circle cx="559" cy="106" r="2.6" fill="#838383" fill-opacity="0.42"/>
<circle cx="548" cy="112" r="4.1" fill="#727272" fill-opacity="0.42"/>
<circle cx="556" cy="114" r="2.6" fill="#7f7f7f" fill-opacity="0.45"/>
<circle cx="554" cy="118" r="1.8" fill="#777777" fill-opacity="0.35"/>
<circle cx="551" cy="122" r="2.1" fill="#737373" fill-opacity="0.26"/>
<circle cx="555" cy="125" r="2.7" fill="#757575" fill-opacity="0.34"/>
<circle cx="552" cy="129" r="3.2" fill="#888888" fill-opacity="0.32"/>
<circle cx="549" cy="134" r="2.0" fill="#696969" fill-opacity="0.25"/>
<circle cx="557" cy="136" r="2.5" fill="#6f6f6f" fill-opacity="0.23"/>
<circle cx="553" cy="140" r="1.8" fill="#848484" fill-opacity="0.44"/>
<circle cx="563" cy="142" r="3.1" fill="#909090" fill-opacity="0.32"/>
<circle cx="552" cy="148" r="1.8" fill="#818181" fill-opacity="0.40"/>
<path d="M368.0,250.0 C369.0,252.0 372.3,257.0 374.0,262.0 C375.7,267.0 377.3,277.0 378.0,280.0" fill="none" stroke="#f0f0f0" stroke-width="5.5" stroke-opacity="0.63" stroke-linecap="round"/>
<circle cx="368" cy="250" r="3.0" fill="#ffffff" fill-opacity="0.83"/>
<circle cx="370" cy="254" r="2.7" fill="#fdfdfd" fill-opacity="0.73"/>
<circle cx="377" cy="256" r="1.9" fill="#e7e7e7" fill-opacity="0.50"/>
<circle cx="378" cy="261" r="3.2" fill="#dedede" fill-opacity="0.89"/>
<circle cx="371" cy="266" r="2.9" fill="#d7d7d7" fill-opacity="0.56"/>
<circle cx="381" cy="268" r="1.9" fill="#dddddd" fill-opacity="0.72"/>
<circle cx="380" cy="272" r="2.3" fill="#d2d2d2" fill-opacity="0.85"/>
<circle cx="380" cy="276" r="3.0" fill="#eaeaea" fill-opacity="0.87"/>
<path d="M386.0,585.0 C388.7,589.5 396.7,602.0 402.0,612.0 C407.3,622.0 413.7,632.0 418.0,645.0 C422.3,658.0 424.3,674.5 428.0,690.0 C431.7,705.5 435.5,724.7 440.0,738.0 C444.5,751.3 449.8,759.7 455.0,770.0 C460.2,780.3 465.5,790.8 471.0,800.0 C476.5,809.2 482.8,817.3 488.0,825.0 C493.2,832.7 496.3,838.5 502.0,846.0 C507.7,853.5 515.3,862.2 522.0,870.0 C528.7,877.8 535.5,885.2 542.0,893.0 C548.5,900.8 557.8,913.0 561.0,917.0" fill="none" stroke="#f4f4f4" stroke-width="11.0" stroke-opacity="0.59" stroke-linecap="round"/>
<circle cx="391" cy="582" r="3.0" fill="#e0e0e0" fill-opacity="0.54"/>
<circle cx="386" cy="590" r="5.3" fill="#e4e4e4" fill-opacity="0.51"/>
<circle cx="399" cy="586" r="4.2" fill="#dddddd" fill-opacity="0.43"/>
<circle cx="395" cy="594" r="4.8" fill="#ececec" fill-opacity="0.57"/>
<circle cx="385" cy="604" r="5.4" fill="#b9b9b9" fill-opacity="0.52"/>
<circle cx="394" cy="603" r="3.2" fill="#c9c9c9" fill-opacity="0.77"/>
<circle cx="390" cy="610" r="3.7" fill="#ffffff" fill-opacity="0.67"/>
<circle cx="397" cy="610" r="3.8" fill="#fafafa" fill-opacity="0.81"/>
<circle cx="402" cy="612" r="3.7" fill="#fafafa" fill-opacity="0.78"/>
<circle cx="400" cy="617" r="2.6" fill="#c2c2c2" fill-opacity="0.58"/>
<circle cx="415" cy="614" r="3.2" fill="#d5d5d5" fill-opacity="0.48"/>
<circle cx="414" cy="618" r="4.2" fill="#ffffff" fill-opacity="0.52"/>
<circle cx="404" cy="628" r="3.4" fill="#b7b7b7" fill-opacity="0.82"/>
<circle cx="418" cy="624" r="3.7" fill="#b8b8b8" fill-opacity="0.55"/>
<circle cx="415" cy="630" r="3.3" fill="#e3e3e3" fill-opacity="0.84"/>
<circle cx="411" cy="636" r="3.6" fill="#fefefe" fill-opacity="0.62"/>
<circle cx="410" cy="640" r="3.6" fill="#f6f6f6" fill-opacity="0.47"/>
<circle cx="423" cy="638" r="4.4" fill="#f6f6f6" fill-opacity="0.58"/>
<circle cx="429" cy="643" r="4.1" fill="#bfbfbf" fill-opacity="0.59"/>
<circle cx="412" cy="650" r="4.8" fill="#fdfdfd" fill-opacity="0.47"/>
<circle cx="414" cy="653" r="2.1" fill="#ffffff" fill-opacity="0.74"/>
<circle cx="414" cy="657" r="5.0" fill="#fdfdfd" fill-opacity="0.75"/>
<circle cx="411" cy="661" r="2.2" fill="#bdbdbd" fill-opacity="0.72"/>
<circle cx="431" cy="660" r="4.8" fill="#dadada" fill-opacity="0.75"/>
<circle cx="432" cy="664" r="3.9" fill="#f4f4f4" fill-opacity="0.74"/>
<circle cx="431" cy="668" r="2.8" fill="#ffffff" fill-opacity="0.76"/>
<circle cx="424" cy="673" r="2.1" fill="#f4f4f4" fill-opacity="0.75"/>
<circle cx="421" cy="677" r="5.4" fill="#ededed" fill-opacity="0.77"/>
<circle cx="432" cy="678" r="3.0" fill="#ffffff" fill-opacity="0.85"/>
<circle cx="436" cy="681" r="4.2" fill="#f1f1f1" fill-opacity="0.68"/>
<circle cx="430" cy="686" r="3.2" fill="#ffffff" fill-opacity="0.48"/>
<circle cx="438" cy="688" r="4.6" fill="#b8b8b8" fill-opacity="0.59"/>
<circle cx="427" cy="694" r="4.4" fill="#cccccc" fill-opacity="0.70"/>
<circle cx="426" cy="698" r="4.9" fill="#dfdfdf" fill-opacity="0.82"/>
<circle cx="432" cy="700" r="5.2" fill="#d8d8d8" fill-opacity="0.73"/>
<circle cx="436" cy="703" r="4.2" fill="#f7f7f7" fill-opacity="0.45"/>
<circle cx="426" cy="709" r="2.3" fill="#fafafa" fill-opacity="0.49"/>
<circle cx="439" cy="709" r="3.1" fill="#cdcdcd" fill-opacity="0.68"/>
<circle cx="438" cy="713" r="4.9" fill="#d7d7d7" fill-opacity="0.76"/>
<circle cx="439" cy="716" r="3.9" fill="#e9e9e9" fill-opacity="0.57"/>
<circle cx="429" cy="723" r="4.2" fill="#e6e6e6" fill-opacity="0.71"/>
<circle cx="443" cy="723" r="3.1" fill="#ffffff" fill-opacity="0.72"/>
<circle cx="438" cy="728" r="5.5" fill="#ffffff" fill-opacity="0.73"/>
<circle cx="447" cy="729" r="3.4" fill="#d8d8d8" fill-opacity="0.66"/>
<circle cx="444" cy="733" r="3.6" fill="#ffffff" fill-opacity="0.47"/>
<circle cx="449" cy="734" r="3.9" fill="#b8b8b8" fill-opacity="0.58"/>
<circle cx="447" cy="739" r="4.7" fill="#c6c6c6" fill-opacity="0.65"/>
<circle cx="435" cy="748" r="4.4" fill="#d8d8d8" fill-opacity="0.51"/>
<circle cx="435" cy="752" r="4.7" fill="#f1f1f1" fill-opacity="0.53"/>
<circle cx="452" cy="748" r="5.1" fill="#fdfdfd" fill-opacity="0.78"/>
<circle cx="452" cy="752" r="4.5" fill="#fcfcfc" fill-opacity="0.81"/>
<circle cx="444" cy="759" r="2.2" fill="#bbbbbb" fill-opacity="0.54"/>
<circle cx="444" cy="763" r="3.2" fill="#bbbbbb" fill-opacity="0.62"/>
<circle cx="459" cy="760" r="3.4" fill="#f3f3f3" fill-opacity="0.64"/>
<circle cx="453" cy="767" r="3.8" fill="#ffffff" fill-opacity="0.82"/>
<circle cx="455" cy="770" r="2.4" fill="#f2f2f2" fill-opacity="0.49"/>
<circle cx="467" cy="768" r="2.3" fill="#dcdcdc" fill-opacity="0.79"/>
<circle cx="459" cy="777" r="4.7" fill="#e4e4e4" fill-opacity="0.73"/>
<circle cx="460" cy="780" r="4.6" fill="#d5d5d5" fill-opacity="0.54"/>
<circle cx="456" cy="787" r="4.8" fill="#fafafa" fill-opacity="0.71"/>
<circle cx="458" cy="790" r="4.0" fill="#efefef" fill-opacity="0.72"/>
<circle cx="468" cy="789" r="2.1" fill="#ffffff" fill-opacity="0.80"/>
<circle cx="471" cy="791" r="3.5" fill="#c0c0c0" fill-opacity="0.82"/>
<circle cx="478" cy="792" r="3.5" fill="#b9b9b9" fill-opacity="0.79"/>
<circle cx="467" cy="803" r="4.7" fill="#e8e8e8" fill-opacity="0.72"/>
<circle cx="465" cy="809" r="2.3" fill="#cecece" fill-opacity="0.47"/>
<circle cx="476" cy="806" r="2.3" fill="#ededed" fill-opacity="0.68"/>
<circle cx="473" cy="812" r="4.9" fill="#bcbcbc" fill-opacity="0.44"/>
<circle cx="481" cy="812" r="3.8" fill="#f3f3f3" fill-opacity="0.57"/>
<circle cx="473" cy="822" r="3.9" fill="#e0e0e0" fill-opacity="0.71"/>
<circle cx="476" cy="824" r="4.6" fill="#ffffff" fill-opacity="0.50"/>
<circle cx="494" cy="817" r="2.1" fill="#eaeaea" fill-opacity="0.73"/>
<circle cx="494" cy="821" r="4.1" fill="#c8c8c8" fill-opacity="0.68"/>
<circle cx="480" cy="834" r="5.1" fill="#cecece" fill-opacity="0.45"/>
<circle cx="497" cy="828" r="3.9" fill="#d4d4d4" fill-opacity="0.61"/>
<circle cx="494" cy="834" r="5.2" fill="#d5d5d5" fill-opacity="0.60"/>
<circle cx="500" cy="835" r="3.9" fill="#c4c4c4" fill-opacity="0.64"/>
<circle cx="498" cy="840" r="4.8" fill="#e5e5e5" fill-opacity="0.82"/>
<circle cx="503" cy="841" r="3.7" fill="#d5d5d5" fill-opacity="0.43"/>
<circle cx="498" cy="849" r="4.4" fill="#ffffff" fill-opacity="0.45"/>
<circle cx="498" cy="855" r="4.7" fill="#ffffff" fill-opacity="0.49"/>
<circle cx="511" cy="848" r="4.6" fill="#f0f0f0" fill-opacity="0.47"/>
<circle cx="518" cy="848" r="5.4" fill="#f4f4f4" fill-opacity="0.58"/>
<circle cx="513" cy="858" r="2.6" fill="#cfcfcf" fill-opacity="0.83"/>
<circle cx="522" cy="855" r="5.3" fill="#f9f9f9" fill-opacity="0.58"/>
<circle cx="512" cy="868" r="3.9" fill="#ededed" fill-opacity="0.67"/>
<circle cx="521" cy="866" r="5.3" fill="#f8f8f8" fill-opacity="0.60"/>
<circle cx="521" cy="871" r="3.0" fill="#c2c2c2" fill-opacity="0.54"/>
<circle cx="518" cy="878" r="2.8" fill="#cdcdcd" fill-opacity="0.44"/>
<circle cx="518" cy="883" r="2.9" fill="#c7c7c7" fill-opacity="0.73"/>
<circle cx="537" cy="872" r="4.8" fill="#f4f4f4" fill-opacity="0.44"/>
<circle cx="527" cy="886" r="2.8" fill="#bfbfbf" fill-opacity="0.74"/>
<circle cx="527" cy="891" r="3.3" fill="#cfcfcf" fill-opacity="0.64"/>
<circle cx="532" cy="892" r="5.4" fill="#f0f0f0" fill-opacity="0.59"/>
<circle cx="540" cy="890" r="5.0" fill="#cdcdcd" fill-opacity="0.58"/>
<circle cx="548" cy="888" r="5.4" fill="#fafafa" fill-opacity="0.53"/>
<circle cx="539" cy="900" r="5.3" fill="#d1d1d1" fill-opacity="0.57"/>
<circle cx="551" cy="896" r="5.0" fill="#dddddd" fill-opacity="0.79"/>
<circle cx="551" cy="900" r="4.6" fill="#ffffff" fill-opacity="0.63"/>
<circle cx="557" cy="900" r="5.1" fill="#ffffff" fill-opacity="0.60"/>
<circle cx="547" cy="914" r="5.5" fill="#ffffff" fill-opacity="0.80"/>
<circle cx="557" cy="910" r="3.1" fill="#cacaca" fill-opacity="0.53"/>
<circle cx="563" cy="911" r="2.6" fill="#b7b7b7" fill-opacity="0.56"/>
<path d="M392.0,586.0 C397.5,585.7 414.5,583.0 425.0,584.0 C435.5,585.0 446.2,589.3 455.0,592.0 C463.8,594.7 474.2,598.7 478.0,600.0" fill="none" stroke="#dddddd" stroke-width="9.9" stroke-opacity="0.56" stroke-linecap="round"/>
<circle cx="391" cy="578" r="4.3" fill="#c5c5c5" fill-opacity="0.79"/>
<circle cx="396" cy="590" r="2.7" fill="#dbdbdb" fill-opacity="0.64"/>
<circle cx="400" cy="596" r="4.1" fill="#bababa" fill-opacity="0.47"/>
<circle cx="403" cy="584" r="2.9" fill="#b7b7b7" fill-opacity="0.72"/>
<circle cx="406" cy="581" r="3.5" fill="#c1c1c1" fill-opacity="0.65"/>
<circle cx="410" cy="578" r="3.0" fill="#bbbbbb" fill-opacity="0.63"/>
<circle cx="414" cy="586" r="4.6" fill="#d9d9d9" fill-opacity="0.40"/>
<circle cx="418" cy="590" r="4.6" fill="#ededed" fill-opacity="0.49"/>
<circle cx="421" cy="586" r="2.5" fill="#d6d6d6" fill-opacity="0.69"/>
<circle cx="423" cy="592" r="3.5" fill="#d1d1d1" fill-opacity="0.52"/>
<circle cx="431" cy="577" r="3.2" fill="#b3b3b3" fill-opacity="0.67"/>
<circle cx="434" cy="581" r="3.1" fill="#a6a6a6" fill-opacity="0.52"/>
<circle cx="434" cy="594" r="2.3" fill="#cccccc" fill-opacity="0.70"/>
<circle cx="438" cy="597" r="3.9" fill="#a9a9a9" fill-opacity="0.70"/>
<circle cx="442" cy="596" r="4.6" fill="#e2e2e2" fill-opacity="0.69"/>
<circle cx="446" cy="595" r="3.3" fill="#aaaaaa" fill-opacity="0.49"/>
<circle cx="451" cy="590" r="3.5" fill="#f2f2f2" fill-opacity="0.55"/>
<circle cx="455" cy="591" r="4.3" fill="#bcbcbc" fill-opacity="0.55"/>
<circle cx="461" cy="587" r="3.4" fill="#b1b1b1" fill-opacity="0.65"/>
<circle cx="463" cy="594" r="2.5" fill="#bababa" fill-opacity="0.64"/>
<circle cx="468" cy="592" r="5.0" fill="#f0f0f0" fill-opacity="0.56"/>
<circle cx="469" cy="601" r="2.7" fill="#b3b3b3" fill-opacity="0.71"/>
<circle cx="471" cy="608" r="2.7" fill="#bdbdbd" fill-opacity="0.65"/>
<path d="M157.0,635.0 C160.8,635.5 171.5,637.0 180.0,638.0 C188.5,639.0 203.3,640.5 208.0,641.0" fill="none" stroke="#eeeeee" stroke-width="6.6" stroke-opacity="0.66" stroke-linecap="round"/>
<circle cx="158" cy="630" r="2.0" fill="#dbdbdb" fill-opacity="0.68"/>
<circle cx="161" cy="632" r="2.6" fill="#c9c9c9" fill-opacity="0.67"/>
<circle cx="164" cy="640" r="2.8" fill="#d7d7d7" fill-opacity="0.69"/>
<circle cx="168" cy="643" r="3.6" fill="#fbfbfb" fill-opacity="0.83"/>
<circle cx="172" cy="636" r="2.7" fill="#bdbdbd" fill-opacity="0.93"/>
<circle cx="177" cy="633" r="1.8" fill="#e6e6e6" fill-opacity="0.53"/>
<circle cx="180" cy="642" r="2.2" fill="#f0f0f0" fill-opacity="0.74"/>
<circle cx="184" cy="633" r="2.7" fill="#eaeaea" fill-opacity="0.48"/>
<circle cx="188" cy="633" r="2.4" fill="#e3e3e3" fill-opacity="0.67"/>
<circle cx="191" cy="638" r="3.0" fill="#c6c6c6" fill-opacity="0.62"/>
<circle cx="194" cy="639" r="3.6" fill="#d4d4d4" fill-opacity="0.51"/>
<circle cx="198" cy="636" r="2.7" fill="#ffffff" fill-opacity="0.78"/>
<circle cx="201" cy="641" r="2.1" fill="#cecece" fill-opacity="0.89"/>
<circle cx="204" cy="648" r="2.4" fill="#e8e8e8" fill-opacity="0.81"/>
<path d="M366.0,482.0 C367.3,480.3 371.7,470.7 374.0,472.0 C376.3,473.3 379.0,487.0 380.0,490.0" fill="none" stroke="#d8d8d8" stroke-width="6.6" stroke-opacity="0.63" stroke-linecap="round"/>
<circle cx="369" cy="484" r="2.2" fill="#b3b3b3" fill-opacity="0.62"/>
<circle cx="368" cy="479" r="2.1" fill="#a4a4a4" fill-opacity="0.86"/>
<circle cx="370" cy="474" r="2.6" fill="#b7b7b7" fill-opacity="0.88"/>
<circle cx="372" cy="473" r="3.4" fill="#b3b3b3" fill-opacity="0.79"/>
<circle cx="376" cy="475" r="2.1" fill="#d2d2d2" fill-opacity="0.50"/>
<circle cx="370" cy="481" r="1.9" fill="#dedede" fill-opacity="0.65"/>
<circle cx="382" cy="481" r="3.2" fill="#a8a8a8" fill-opacity="0.82"/>
<circle cx="383" cy="485" r="2.2" fill="#a4a4a4" fill-opacity="0.49"/>
<path d="M245.0,880.0 C247.5,884.2 255.0,895.0 260.0,905.0 C265.0,915.0 270.8,927.3 275.0,940.0 C279.2,952.7 283.3,974.2 285.0,981.0" fill="none" stroke="#cccccc" stroke-width="16.5" stroke-opacity="0.39" stroke-linecap="round"/>
<circle cx="234" cy="887" r="6.7" fill="#b8b8b8" fill-opacity="0.50"/>
<circle cx="254" cy="879" r="4.7" fill="#b5b5b5" fill-opacity="0.37"/>
<circle cx="248" cy="887" r="5.0" fill="#cccccc" fill-opacity="0.48"/>
<circle cx="254" cy="887" r="4.8" fill="#c0c0c0" fill-opacity="0.32"/>
<circle cx="266" cy="885" r="2.7" fill="#cfcfcf" fill-opacity="0.32"/>
<circle cx="266" cy="888" r="6.4" fill="#c8c8c8" fill-opacity="0.40"/>
<circle cx="268" cy="892" r="7.2" fill="#a9a9a9" fill-opacity="0.31"/>
<circle cx="251" cy="906" r="3.7" fill="#dedede" fill-opacity="0.52"/>
<circle cx="262" cy="904" r="6.5" fill="#a4a4a4" fill-opacity="0.46"/>
<circle cx="267" cy="906" r="3.5" fill="#cccccc" fill-opacity="0.53"/>
<circle cx="261" cy="913" r="6.6" fill="#b4b4b4" fill-opacity="0.37"/>
<circle cx="258" cy="918" r="6.0" fill="#999999" fill-opacity="0.33"/>
<circle cx="260" cy="922" r="5.1" fill="#a3a3a3" fill-opacity="0.37"/>
<circle cx="253" cy="929" r="3.2" fill="#999999" fill-opacity="0.29"/>
<circle cx="267" cy="927" r="7.5" fill="#dddddd" fill-opacity="0.43"/>
<circle cx="282" cy="925" r="3.1" fill="#d7d7d7" fill-opacity="0.49"/>
<circle cx="268" cy="935" r="7.5" fill="#c0c0c0" fill-opacity="0.48"/>
<circle cx="277" cy="935" r="2.5" fill="#d9d9d9" fill-opacity="0.40"/>
<circle cx="291" cy="936" r="6.7" fill="#a2a2a2" fill-opacity="0.35"/>
<circle cx="265" cy="946" r="6.1" fill="#dbdbdb" fill-opacity="0.51"/>
<circle cx="282" cy="945" r="4.5" fill="#a4a4a4" fill-opacity="0.49"/>
<circle cx="265" cy="953" r="4.8" fill="#d2d2d2" fill-opacity="0.55"/>
<circle cx="273" cy="955" r="5.1" fill="#c9c9c9" fill-opacity="0.43"/>
<circle cx="284" cy="956" r="5.1" fill="#d5d5d5" fill-opacity="0.35"/>
<circle cx="294" cy="957" r="7.5" fill="#a5a5a5" fill-opacity="0.33"/>
<circle cx="288" cy="962" r="7.6" fill="#c0c0c0" fill-opacity="0.50"/>
<circle cx="274" cy="969" r="6.8" fill="#9a9a9a" fill-opacity="0.30"/>
<circle cx="277" cy="972" r="6.5" fill="#d0d0d0" fill-opacity="0.38"/>
<circle cx="288" cy="973" r="7.3" fill="#d0d0d0" fill-opacity="0.37"/>
<circle cx="277" cy="979" r="2.9" fill="#d0d0d0" fill-opacity="0.35"/>
<path d="M315.0,895.0 C317.5,901.7 325.8,920.7 330.0,935.0 C334.2,949.3 338.3,973.3 340.0,981.0" fill="none" stroke="#d0d0d0" stroke-width="13.2" stroke-opacity="0.35" stroke-linecap="round"/>
<circle cx="325" cy="891" r="4.7" fill="#c3c3c3" fill-opacity="0.40"/>
<circle cx="324" cy="896" r="5.8" fill="#cbcbcb" fill-opacity="0.26"/>
<circle cx="305" cy="907" r="3.2" fill="#a2a2a2" fill-opacity="0.42"/>
<circle cx="317" cy="906" r="2.7" fill="#ababab" fill-opacity="0.34"/>
<circle cx="310" cy="912" r="2.9" fill="#ababab" fill-opacity="0.25"/>
<circle cx="325" cy="910" r="2.5" fill="#bdbdbd" fill-opacity="0.36"/>
<circle cx="330" cy="912" r="3.7" fill="#c4c4c4" fill-opacity="0.43"/>
<circle cx="313" cy="923" r="2.7" fill="#dcdcdc" fill-opacity="0.36"/>
<circle cx="334" cy="918" r="3.6" fill="#aeaeae" fill-opacity="0.46"/>
<circle cx="339" cy="920" r="3.1" fill="#c3c3c3" fill-opacity="0.30"/>
<circle cx="318" cy="932" r="2.6" fill="#dfdfdf" fill-opacity="0.42"/>
<circle cx="319" cy="935" r="4.3" fill="#9f9f9f" fill-opacity="0.45"/>
<circle cx="333" cy="934" r="4.6" fill="#d2d2d2" fill-opacity="0.28"/>
<circle cx="338" cy="937" r="3.5" fill="#a8a8a8" fill-opacity="0.47"/>
<circle cx="327" cy="943" r="3.6" fill="#d2d2d2" fill-opacity="0.44"/>
<circle cx="338" cy="944" r="5.4" fill="#d2d2d2" fill-opacity="0.45"/>
<circle cx="324" cy="951" r="2.3" fill="#b9b9b9" fill-opacity="0.36"/>
<circle cx="336" cy="952" r="6.3" fill="#c7c7c7" fill-opacity="0.47"/>
<circle cx="337" cy="956" r="4.0" fill="#b0b0b0" fill-opacity="0.41"/>
<circle cx="326" cy="962" r="5.2" fill="#9d9d9d" fill-opacity="0.33"/>
<circle cx="350" cy="960" r="3.4" fill="#ababab" fill-opacity="0.30"/>
<circle cx="347" cy="965" r="3.0" fill="#e0e0e0" fill-opacity="0.26"/>
<circle cx="330" cy="972" r="5.7" fill="#d6d6d6" fill-opacity="0.28"/>
<circle cx="328" cy="976" r="6.3" fill="#d6d6d6" fill-opacity="0.48"/>
<circle cx="345" cy="976" r="5.5" fill="#bcbcbc" fill-opacity="0.26"/>
<path d="M30.0,935.0 C35.0,932.5 48.3,925.8 60.0,920.0 C71.7,914.2 93.3,903.3 100.0,900.0" fill="none" stroke="#d8d8d8" stroke-width="6.6" stroke-opacity="0.56" stroke-linecap="round"/>
<circle cx="30" cy="936" r="1.8" fill="#e4e4e4" fill-opacity="0.69"/>
<circle cx="33" cy="934" r="3.4" fill="#e7e7e7" fill-opacity="0.51"/>
<circle cx="37" cy="933" r="3.2" fill="#a5a5a5" fill-opacity="0.49"/>
<circle cx="43" cy="936" r="2.6" fill="#e8e8e8" fill-opacity="0.61"/>
<circle cx="46" cy="934" r="3.5" fill="#d8d8d8" fill-opacity="0.73"/>
<circle cx="49" cy="931" r="2.8" fill="#bababa" fill-opacity="0.71"/>
<circle cx="53" cy="930" r="3.4" fill="#cfcfcf" fill-opacity="0.52"/>
<circle cx="55" cy="926" r="1.9" fill="#acacac" fill-opacity="0.69"/>
<circle cx="55" cy="919" r="3.2" fill="#d9d9d9" fill-opacity="0.52"/>
<circle cx="63" cy="926" r="2.1" fill="#c3c3c3" fill-opacity="0.68"/>
<circle cx="60" cy="912" r="2.6" fill="#cccccc" fill-opacity="0.76"/>
<circle cx="69" cy="922" r="2.0" fill="#b4b4b4" fill-opacity="0.53"/>
<circle cx="68" cy="912" r="1.7" fill="#d0d0d0" fill-opacity="0.68"/>
<circle cx="70" cy="907" r="3.5" fill="#d2d2d2" fill-opacity="0.68"/>
<circle cx="76" cy="910" r="3.4" fill="#dedede" fill-opacity="0.56"/>
<circle cx="80" cy="911" r="3.5" fill="#d0d0d0" fill-opacity="0.43"/>
<circle cx="80" cy="902" r="3.4" fill="#d7d7d7" fill-opacity="0.59"/>
<circle cx="87" cy="908" r="2.6" fill="#a6a6a6" fill-opacity="0.67"/>
<circle cx="87" cy="899" r="2.1" fill="#c5c5c5" fill-opacity="0.56"/>
<circle cx="94" cy="905" r="3.3" fill="#c3c3c3" fill-opacity="0.61"/>
<circle cx="97" cy="903" r="3.0" fill="#b3b3b3" fill-opacity="0.54"/>
</g>
<g filter="url(#dicn)"><g clip-path="url(#dc1)">
<rect width="561" height="981" fill="#3232c4"/>
<g filter="url(#bl6)">
<ellipse cx="300" cy="205" rx="14" ry="8" fill="#3a7cd0" fill-opacity="0.5"/>
<polygon points="235.0,232.0 295.0,262.0 255.0,292.0 235.0,292.0" fill="#2cb4b8" fill-opacity="0.9"/>
<ellipse cx="305" cy="255" rx="25" ry="12" fill="#3a7cd0" fill-opacity="0.6"/>
<polygon points="233.0,288.0 350.0,285.0 350.0,428.0 233.0,435.0" fill="#2cb4b8" fill-opacity="0.85"/>
<ellipse cx="290" cy="302" rx="55" ry="7" fill="#34ac40" fill-opacity="0.6"/>
<ellipse cx="322" cy="322" rx="20" ry="9" fill="#3232c4" fill-opacity="0.75"/>
<ellipse cx="255" cy="390" rx="16" ry="8" fill="#3232c4" fill-opacity="0.8"/>
<ellipse cx="322" cy="388" rx="18" ry="8" fill="#3232c4" fill-opacity="0.8"/>
<ellipse cx="290" cy="414" rx="62" ry="12" fill="#34ac40" fill-opacity="0.95"/>
<ellipse cx="300" cy="510" rx="60" ry="10" fill="#2cb4b8" fill-opacity="0.8"/>
<ellipse cx="300" cy="528" rx="50" ry="5" fill="#2cb4b8" fill-opacity="0.6"/>
<ellipse cx="290" cy="555" rx="50" ry="6" fill="#3a7cd0" fill-opacity="0.45"/>
<ellipse cx="300" cy="585" rx="50" ry="6" fill="#3a7cd0" fill-opacity="0.45"/>
<ellipse cx="312" cy="622" rx="34" ry="14" fill="#2cb4b8" fill-opacity="0.9"/>
<ellipse cx="240" cy="640" rx="8" ry="10" fill="#2cb4b8" fill-opacity="0.6"/>
</g>
<g filter="url(#bl2)">
<polygon points="233.0,440.0 360.0,412.0 360.0,420.0 233.0,448.0" fill="#34ac40" fill-opacity="0.9"/>
<polygon points="233.0,447.0 360.0,419.0 360.0,427.0 233.0,455.0" fill="#bcbc38" fill-opacity="1.0"/>
<polygon points="233.0,454.0 360.0,426.0 360.0,477.0 233.0,489.0" fill="#cc3028" fill-opacity="1.0"/>
<polygon points="233.0,488.0 360.0,476.0 360.0,481.0 233.0,493.0" fill="#bcbc38" fill-opacity="0.95"/>
<polygon points="233.0,492.0 360.0,480.0 360.0,488.0 233.0,500.0" fill="#34ac40" fill-opacity="0.9"/>
</g>
</g></g>
</g>
<text x="28" y="94.5" font-size="82" fill="#fff" letter-spacing="1.5">(c)</text>
</g></g>
<g transform="translate(1199,1790)">
<clipPath id="cp2"><rect width="563" height="981"/></clipPath>
<linearGradient id="sg2" x1="0" y1="0" x2="0" y2="981" gradientUnits="userSpaceOnUse">
<stop offset="0" stop-color="#030303"/>
<stop offset="0.085" stop-color="#030303"/>
<stop offset="0.105" stop-color="#0e0e0e"/>
<stop offset="0.14" stop-color="#262626"/>
<stop offset="0.16" stop-color="#363636"/>
<stop offset="0.3" stop-color="#4c4c4c"/>
<stop offset="0.5" stop-color="#5a5a5a"/>
<stop offset="0.7" stop-color="#626262"/>
<stop offset="0.85" stop-color="#6a6a6a"/>
<stop offset="0.93" stop-color="#606060"/>
<stop offset="1" stop-color="#505050"/>
</linearGradient>
<linearGradient id="bg2" x1="360" y1="0" x2="563" y2="0" gradientUnits="userSpaceOnUse"><stop offset="0" stop-color="#525252"/><stop offset="1" stop-color="#5e5e5e"/></linearGradient>
<clipPath id="dc2"><path d="M273.6,183.4 L298.0,183.4 L298.0,199.0 L311.0,199.0 L311.0,193.0 L342.0,193.0 L342.0,274.0 L329.5,290.0 L329.5,340.0 L354.0,357.0 L354.0,491.0 L345.0,491.0 L345.0,745.0 L357.5,745.0 L357.5,801.0 L388.6,801.0 L388.6,847.5 L413.5,847.5 L413.5,886.0 L168.0,886.0 L168.0,819.5 L193.0,801.0 L193.0,748.0 L199.0,701.0 L205.0,670.0 L220.7,670.0 L220.7,491.0 L205.0,491.0 L205.0,404.0 L217.6,404.0 L217.6,236.0 L236.0,236.0 L236.0,218.0 L249.0,218.0 L249.0,211.0 L273.6,211.0Z"/></clipPath>
<g clip-path="url(#cp2)">
<g filter="url(#pblur)">
<rect width="563" height="981" fill="#050505"/>
<linearGradient id="tg2" x1="0" y1="0" x2="0" y2="981" gradientUnits="userSpaceOnUse"><stop offset="0.06" stop-color="#2e2e2e" stop-opacity="0"/><stop offset="0.14" stop-color="#2e2e2e" stop-opacity="1"/></linearGradient>
<path d="M0.0,0.0 L563.0,0.0 L563.0,981.0 L0.0,981.0Z" fill="url(#tg2)" opacity="0.55" filter="url(#blot)"/>
<linearGradient id="bl2g" x1="0" y1="0" x2="200" y2="0" gradientUnits="userSpaceOnUse"><stop offset="0" stop-color="#242424"/><stop offset="1" stop-color="#323232"/></linearGradient>
<rect x="0" y="367" width="290" height="263" fill="url(#bl2g)"/>
<rect x="290" y="367" width="273" height="263" fill="url(#bg2)"/>
<path d="M0,0 Q60,60 130,115" fill="none" stroke="#3a3a3a" stroke-width="20" stroke-opacity="0.5" stroke-linecap="round" filter="url(#bl10)"/>
<path d="M100.0,60.0 C103.0,65.0 112.3,80.3 118.0,90.0 C123.7,99.7 126.7,107.2 134.0,118.0 C141.3,128.8 154.3,141.0 162.0,155.0 C169.7,169.0 174.8,183.8 180.0,202.0 C185.2,220.2 189.8,240.7 193.0,264.0 C196.2,287.3 198.0,304.2 199.0,342.0 C200.0,379.8 198.5,454.7 199.0,491.0 C199.5,527.3 201.5,538.5 202.0,560.0 C202.5,581.5 202.0,595.4 202.0,620.0 C202.0,644.6 204.6,685.3 202.0,707.6 C199.4,729.9 193.2,738.4 186.5,754.0 C179.8,769.6 169.4,785.4 161.7,801.0 C153.9,816.6 148.8,834.6 140.0,847.5 C131.2,860.4 121.8,867.2 108.8,878.6 C95.8,890.0 77.5,904.1 62.0,916.0 C46.5,927.9 26.7,941.8 15.5,950.0 C4.3,958.2 -1.6,962.5 -5.0,965.0" fill="none" stroke="#050505" stroke-opacity="0.85" stroke-width="44" filter="url(#bl3)"/>
<path d="M-5.0,990.0 C90.8,990.0 474.2,994.2 570.0,990.0 C665.8,985.8 571.2,969.6 570.0,965.0 C568.8,960.4 572.5,967.6 563.0,962.5 C553.5,957.4 529.2,946.9 513.0,934.5 C496.8,922.1 480.0,905.1 466.0,888.0 C452.0,870.9 439.3,851.7 429.0,832.0 C418.7,812.3 410.7,790.7 404.0,770.0 C397.3,749.3 394.8,730.9 388.6,707.6 C382.4,684.3 372.2,654.6 367.0,630.0 C361.8,605.4 359.1,583.2 357.5,560.0 C355.9,536.8 357.1,522.2 357.5,491.0 C357.9,459.8 358.9,403.0 360.0,373.0 C361.1,343.0 361.8,331.7 364.0,311.0 C366.2,290.3 367.3,269.8 373.0,249.0 C378.7,228.2 388.5,202.5 398.0,186.0 C407.5,169.5 418.7,161.3 430.0,150.0 C441.3,138.7 460.0,123.3 466.0,118.0" fill="none" stroke="#050505" stroke-opacity="0.6" stroke-width="20" filter="url(#bl3)"/>
<path d="M100.0,60.0 C69.7,66.7 112.3,80.3 118.0,90.0 C123.7,99.7 126.7,107.2 134.0,118.0 C141.3,128.8 154.3,141.0 162.0,155.0 C169.7,169.0 174.8,183.8 180.0,202.0 C185.2,220.2 189.8,240.7 193.0,264.0 C196.2,287.3 198.0,304.2 199.0,342.0 C200.0,379.8 198.5,454.7 199.0,491.0 C199.5,527.3 201.5,538.5 202.0,560.0 C202.5,581.5 202.0,595.4 202.0,620.0 C202.0,644.6 204.6,685.3 202.0,707.6 C199.4,729.9 193.2,738.4 186.5,754.0 C179.8,769.6 169.4,785.4 161.7,801.0 C153.9,816.6 148.8,834.6 140.0,847.5 C131.2,860.4 121.8,867.2 108.8,878.6 C95.8,890.0 77.5,904.1 62.0,916.0 C46.5,927.9 26.7,941.8 15.5,950.0 C4.3,958.2 -1.6,958.3 -5.0,965.0 C-8.4,971.7 -100.8,985.8 -5.0,990.0 C90.8,994.2 474.2,994.2 570.0,990.0 C665.8,985.8 571.2,969.6 570.0,965.0 C568.8,960.4 572.5,967.6 563.0,962.5 C553.5,957.4 529.2,946.9 513.0,934.5 C496.8,922.1 480.0,905.1 466.0,888.0 C452.0,870.9 439.3,851.7 429.0,832.0 C418.7,812.3 410.7,790.7 404.0,770.0 C397.3,749.3 394.8,730.9 388.6,707.6 C382.4,684.3 372.2,654.6 367.0,630.0 C361.8,605.4 359.1,583.2 357.5,560.0 C355.9,536.8 357.1,522.2 357.5,491.0 C357.9,459.8 358.9,403.0 360.0,373.0 C361.1,343.0 361.8,331.7 364.0,311.0 C366.2,290.3 367.3,269.8 373.0,249.0 C378.7,228.2 388.5,202.5 398.0,186.0 C407.5,169.5 418.7,161.3 430.0,150.0 C441.3,138.7 456.0,127.2 466.0,118.0 C476.0,108.8 482.7,104.7 490.0,95.0 C497.3,85.3 541.7,67.5 510.0,60.0 C478.3,52.5 368.3,50.0 300.0,50.0 C231.7,50.0 130.3,53.3 100.0,60.0Z" fill="url(#sg2)" filter="url(#spk)"/>
<path d="M354.0,430.0 L377.0,430.0 L377.0,505.0 L354.0,505.0Z" fill="#0a0a0a" filter="url(#bl1)"/>
<path d="M360.0,568.0 L404.0,588.0 L360.0,592.0Z" fill="#101010" filter="url(#bl1)"/>
<g filter="url(#bl2)">
<path d="M435.0,190.0 C433.3,196.7 428.3,216.7 425.0,230.0 C421.7,243.3 417.8,256.7 415.0,270.0 C412.2,283.3 409.8,300.0 408.0,310.0 C406.2,320.0 404.7,326.7 404.0,330.0" fill="none" stroke="#8a8a8a" stroke-width="8.8" stroke-opacity="0.39" stroke-linecap="round"/>
<circle cx="442" cy="192" r="3.5" fill="#6f6f6f" fill-opacity="0.47"/>
<circle cx="432" cy="193" r="2.9" fill="#858585" fill-opacity="0.43"/>
<circle cx="442" cy="199" r="3.3" fill="#858585" fill-opacity="0.42"/>
<circle cx="425" cy="199" r="3.9" fill="#797979" fill-opacity="0.34"/>
<circle cx="438" cy="206" r="4.1" fill="#888888" fill-opacity="0.44"/>
<circle cx="432" cy="208" r="3.2" fill="#727272" fill-opacity="0.42"/>
<circle cx="436" cy="213" r="3.5" fill="#858585" fill-opacity="0.46"/>
<circle cx="433" cy="217" r="2.1" fill="#777777" fill-opacity="0.46"/>
<circle cx="428" cy="219" r="3.9" fill="#7c7c7c" fill-opacity="0.38"/>
<circle cx="419" cy="221" r="2.3" fill="#717171" fill-opacity="0.44"/>
<circle cx="423" cy="226" r="3.0" fill="#828282" fill-opacity="0.40"/>
<circle cx="422" cy="229" r="4.3" fill="#8f8f8f" fill-opacity="0.45"/>
<circle cx="425" cy="234" r="4.5" fill="#7d7d7d" fill-opacity="0.45"/>
<circle cx="416" cy="236" r="3.7" fill="#7a7a7a" fill-opacity="0.48"/>
<circle cx="420" cy="240" r="4.4" fill="#858585" fill-opacity="0.42"/>
<circle cx="413" cy="242" r="3.3" fill="#7a7a7a" fill-opacity="0.53"/>
<circle cx="412" cy="246" r="2.3" fill="#6a6a6a" fill-opacity="0.51"/>
<circle cx="412" cy="250" r="2.9" fill="#737373" fill-opacity="0.46"/>
<circle cx="410" cy="253" r="2.4" fill="#7d7d7d" fill-opacity="0.46"/>
<circle cx="423" cy="260" r="3.0" fill="#6e6e6e" fill-opacity="0.41"/>
<circle cx="422" cy="264" r="2.0" fill="#7a7a7a" fill-opacity="0.32"/>
<circle cx="423" cy="268" r="2.2" fill="#7b7b7b" fill-opacity="0.36"/>
<circle cx="411" cy="269" r="3.0" fill="#737373" fill-opacity="0.33"/>
<circle cx="418" cy="274" r="3.9" fill="#717171" fill-opacity="0.40"/>
<circle cx="408" cy="276" r="4.1" fill="#7d7d7d" fill-opacity="0.51"/>
<circle cx="410" cy="280" r="2.4" fill="#6b6b6b" fill-opacity="0.32"/>
<circle cx="407" cy="284" r="2.9" fill="#8f8f8f" fill-opacity="0.54"/>
<circle cx="404" cy="287" r="3.1" fill="#676767" fill-opacity="0.35"/>
<circle cx="416" cy="293" r="3.6" fill="#898989" fill-opacity="0.53"/>
<circle cx="407" cy="295" r="4.5" fill="#868686" fill-opacity="0.41"/>
<circle cx="404" cy="298" r="2.6" fill="#8d8d8d" fill-opacity="0.48"/>
<circle cx="402" cy="302" r="2.0" fill="#707070" fill-opacity="0.54"/>
<circle cx="415" cy="308" r="3.1" fill="#848484" fill-opacity="0.41"/>
<circle cx="401" cy="309" r="4.5" fill="#777777" fill-opacity="0.31"/>
<circle cx="399" cy="312" r="3.1" fill="#737373" fill-opacity="0.31"/>
<circle cx="416" cy="320" r="3.4" fill="#757575" fill-opacity="0.43"/>
<circle cx="398" cy="320" r="3.2" fill="#959595" fill-opacity="0.29"/>
<circle cx="400" cy="325" r="3.9" fill="#959595" fill-opacity="0.28"/>
<path d="M455.0,210.0 C453.3,216.7 447.8,235.0 445.0,250.0 C442.2,265.0 439.2,291.7 438.0,300.0" fill="none" stroke="#9a9a9a" stroke-width="4.4" stroke-opacity="0.35" stroke-linecap="round"/>
<circle cx="455" cy="210" r="2.2" fill="#939393" fill-opacity="0.37"/>
<circle cx="456" cy="214" r="2.7" fill="#a2a2a2" fill-opacity="0.43"/>
<circle cx="449" cy="216" r="2.2" fill="#777777" fill-opacity="0.42"/>
<circle cx="456" cy="222" r="2.5" fill="#969696" fill-opacity="0.30"/>
<circle cx="455" cy="225" r="1.5" fill="#7d7d7d" fill-opacity="0.49"/>
<circle cx="453" cy="229" r="2.6" fill="#7a7a7a" fill-opacity="0.33"/>
<circle cx="450" cy="232" r="1.9" fill="#a7a7a7" fill-opacity="0.31"/>
<circle cx="449" cy="235" r="1.7" fill="#797979" fill-opacity="0.42"/>
<circle cx="449" cy="239" r="2.1" fill="#989898" fill-opacity="0.27"/>
<circle cx="451" cy="244" r="2.4" fill="#a9a9a9" fill-opacity="0.25"/>
<circle cx="446" cy="246" r="2.8" fill="#a0a0a0" fill-opacity="0.50"/>
<circle cx="445" cy="250" r="2.8" fill="#767676" fill-opacity="0.37"/>
<circle cx="441" cy="253" r="1.9" fill="#8b8b8b" fill-opacity="0.36"/>
<circle cx="445" cy="257" r="2.5" fill="#a7a7a7" fill-opacity="0.31"/>
<circle cx="445" cy="261" r="2.5" fill="#9b9b9b" fill-opacity="0.45"/>
<circle cx="441" cy="264" r="2.7" fill="#a1a1a1" fill-opacity="0.41"/>
<circle cx="445" cy="268" r="1.5" fill="#a1a1a1" fill-opacity="0.46"/>
<circle cx="438" cy="271" r="1.8" fill="#9b9b9b" fill-opacity="0.48"/>
<circle cx="444" cy="275" r="1.4" fill="#7c7c7c" fill-opacity="0.30"/>
<circle cx="439" cy="278" r="2.5" fill="#9f9f9f" fill-opacity="0.42"/>
<circle cx="436" cy="282" r="2.8" fill="#8b8b8b" fill-opacity="0.48"/>
<circle cx="438" cy="285" r="1.7" fill="#939393" fill-opacity="0.29"/>
<circle cx="440" cy="289" r="2.5" fill="#747474" fill-opacity="0.38"/>
<circle cx="440" cy="293" r="1.8" fill="#767676" fill-opacity="0.38"/>
<circle cx="440" cy="297" r="1.5" fill="#898989" fill-opacity="0.42"/>
<path d="M398.0,632.0 C399.2,638.3 402.3,657.3 405.0,670.0 C407.7,682.7 410.5,695.5 414.0,708.0 C417.5,720.5 421.3,732.2 426.0,745.0 C430.7,757.8 436.3,773.3 442.0,785.0 C447.7,796.7 453.3,804.5 460.0,815.0 C466.7,825.5 474.5,838.5 482.0,848.0 C489.5,857.5 497.3,864.3 505.0,872.0 C512.7,879.7 520.8,887.7 528.0,894.0 C535.2,900.3 542.2,905.3 548.0,910.0 C553.8,914.7 560.5,920.0 563.0,922.0" fill="none" stroke="#d4d4d4" stroke-width="5.5" stroke-opacity="0.59" stroke-linecap="round"/>
<circle cx="403" cy="631" r="2.9" fill="#a5a5a5" fill-opacity="0.62"/>
<circle cx="400" cy="635" r="3.0" fill="#e1e1e1" fill-opacity="0.74"/>
<circle cx="402" cy="638" r="2.1" fill="#dcdcdc" fill-opacity="0.64"/>
<circle cx="398" cy="643" r="2.8" fill="#adadad" fill-opacity="0.59"/>
<circle cx="395" cy="647" r="2.1" fill="#dddddd" fill-opacity="0.49"/>
<circle cx="407" cy="648" r="2.4" fill="#b4b4b4" fill-opacity="0.68"/>
<circle cx="399" cy="653" r="1.6" fill="#c4c4c4" fill-opacity="0.58"/>
<circle cx="398" cy="657" r="3.0" fill="#e0e0e0" fill-opacity="0.74"/>
<circle cx="405" cy="659" r="2.6" fill="#c7c7c7" fill-opacity="0.58"/>
<circle cx="406" cy="663" r="2.6" fill="#e1e1e1" fill-opacity="0.53"/>
<circle cx="406" cy="666" r="1.8" fill="#bababa" fill-opacity="0.59"/>
<circle cx="410" cy="669" r="2.6" fill="#b8b8b8" fill-opacity="0.77"/>
<circle cx="409" cy="673" r="2.8" fill="#e7e7e7" fill-opacity="0.50"/>
<circle cx="408" cy="677" r="3.2" fill="#bcbcbc" fill-opacity="0.56"/>
<circle cx="412" cy="679" r="3.0" fill="#b7b7b7" fill-opacity="0.80"/>
<circle cx="408" cy="684" r="1.8" fill="#e8e8e8" fill-opacity="0.81"/>
<circle cx="406" cy="688" r="2.6" fill="#d6d6d6" fill-opacity="0.83"/>
<circle cx="413" cy="690" r="1.9" fill="#d7d7d7" fill-opacity="0.60"/>
<circle cx="405" cy="696" r="3.0" fill="#c5c5c5" fill-opacity="0.49"/>
<circle cx="410" cy="698" r="2.6" fill="#cacaca" fill-opacity="0.76"/>
<circle cx="413" cy="701" r="3.1" fill="#cbcbcb" fill-opacity="0.49"/>
<circle cx="409" cy="705" r="1.8" fill="#e2e2e2" fill-opacity="0.82"/>
<circle cx="417" cy="707" r="1.9" fill="#d3d3d3" fill-opacity="0.62"/>
<circle cx="417" cy="711" r="2.8" fill="#b7b7b7" fill-opacity="0.48"/>
<circle cx="416" cy="715" r="3.0" fill="#e6e6e6" fill-opacity="0.47"/>
<circle cx="414" cy="719" r="2.1" fill="#e7e7e7" fill-opacity="0.59"/>
<circle cx="423" cy="720" r="2.1" fill="#c5c5c5" fill-opacity="0.50"/>
<circle cx="416" cy="726" r="2.1" fill="#d6d6d6" fill-opacity="0.52"/>
<circle cx="421" cy="728" r="2.7" fill="#aeaeae" fill-opacity="0.55"/>
<circle cx="418" cy="733" r="2.2" fill="#b8b8b8" fill-opacity="0.69"/>
<circle cx="421" cy="736" r="3.0" fill="#c8c8c8" fill-opacity="0.79"/>
<circle cx="419" cy="740" r="3.1" fill="#e3e3e3" fill-opacity="0.72"/>
<circle cx="423" cy="742" r="2.2" fill="#a6a6a6" fill-opacity="0.82"/>
<circle cx="427" cy="745" r="2.1" fill="#c7c7c7" fill-opacity="0.75"/>
<circle cx="424" cy="750" r="1.7" fill="#d9d9d9" fill-opacity="0.82"/>
<circle cx="423" cy="754" r="3.1" fill="#c9c9c9" fill-opacity="0.80"/>
<circle cx="429" cy="755" r="3.0" fill="#e8e8e8" fill-opacity="0.58"/>
<circle cx="436" cy="757" r="2.8" fill="#e4e4e4" fill-opacity="0.81"/>
<circle cx="433" cy="761" r="2.3" fill="#a8a8a8" fill-opacity="0.79"/>
<circle cx="437" cy="764" r="1.7" fill="#a6a6a6" fill-opacity="0.82"/>
<circle cx="436" cy="768" r="2.9" fill="#a4a4a4" fill-opacity="0.63"/>
<circle cx="434" cy="773" r="2.9" fill="#adadad" fill-opacity="0.63"/>
<circle cx="435" cy="776" r="3.1" fill="#a5a5a5" fill-opacity="0.67"/>
<circle cx="435" cy="780" r="2.6" fill="#d9d9d9" fill-opacity="0.55"/>
<circle cx="441" cy="782" r="1.5" fill="#dadada" fill-opacity="0.66"/>
<circle cx="445" cy="783" r="3.1" fill="#aeaeae" fill-opacity="0.44"/>
<circle cx="442" cy="790" r="1.6" fill="#cfcfcf" fill-opacity="0.48"/>
<circle cx="451" cy="789" r="2.8" fill="#cccccc" fill-opacity="0.71"/>
<circle cx="446" cy="796" r="2.8" fill="#acacac" fill-opacity="0.61"/>
<circle cx="449" cy="799" r="3.0" fill="#cecece" fill-opacity="0.63"/>
<circle cx="449" cy="804" r="3.0" fill="#b1b1b1" fill-opacity="0.50"/>
<circle cx="459" cy="802" r="3.0" fill="#aeaeae" fill-opacity="0.67"/>
<circle cx="456" cy="808" r="2.7" fill="#e4e4e4" fill-opacity="0.70"/>
<circle cx="461" cy="810" r="2.3" fill="#acacac" fill-opacity="0.59"/>
<circle cx="458" cy="817" r="2.6" fill="#cdcdcd" fill-opacity="0.79"/>
<circle cx="457" cy="821" r="1.9" fill="#d3d3d3" fill-opacity="0.70"/>
<circle cx="469" cy="818" r="3.2" fill="#bcbcbc" fill-opacity="0.71"/>
<circle cx="469" cy="822" r="2.2" fill="#a7a7a7" fill-opacity="0.84"/>
<circle cx="473" cy="824" r="1.6" fill="#d4d4d4" fill-opacity="0.67"/>
<circle cx="472" cy="829" r="3.1" fill="#d2d2d2" fill-opacity="0.62"/>
<circle cx="470" cy="834" r="3.1" fill="#dfdfdf" fill-opacity="0.58"/>
<circle cx="471" cy="838" r="1.9" fill="#bbbbbb" fill-opacity="0.85"/>
<circle cx="474" cy="841" r="2.2" fill="#c7c7c7" fill-opacity="0.61"/>
<circle cx="476" cy="843" r="2.4" fill="#c0c0c0" fill-opacity="0.60"/>
<circle cx="476" cy="848" r="2.9" fill="#b0b0b0" fill-opacity="0.59"/>
<circle cx="479" cy="851" r="2.8" fill="#cbcbcb" fill-opacity="0.69"/>
<circle cx="487" cy="848" r="2.5" fill="#d6d6d6" fill-opacity="0.61"/>
<circle cx="488" cy="853" r="2.3" fill="#cbcbcb" fill-opacity="0.52"/>
<circle cx="487" cy="859" r="1.6" fill="#d8d8d8" fill-opacity="0.65"/>
<circle cx="494" cy="857" r="1.9" fill="#b3b3b3" fill-opacity="0.49"/>
<circle cx="491" cy="865" r="2.0" fill="#a5a5a5" fill-opacity="0.70"/>
<circle cx="493" cy="868" r="2.0" fill="#b0b0b0" fill-opacity="0.67"/>
<circle cx="501" cy="865" r="2.3" fill="#c9c9c9" fill-opacity="0.85"/>
<circle cx="504" cy="868" r="2.1" fill="#d3d3d3" fill-opacity="0.67"/>
<circle cx="502" cy="875" r="2.3" fill="#cecece" fill-opacity="0.64"/>
<circle cx="507" cy="875" r="2.4" fill="#ababab" fill-opacity="0.48"/>
<circle cx="511" cy="876" r="3.2" fill="#c4c4c4" fill-opacity="0.64"/>
<circle cx="513" cy="879" r="2.9" fill="#b9b9b9" fill-opacity="0.59"/>
<circle cx="517" cy="880" r="2.5" fill="#c2c2c2" fill-opacity="0.68"/>
<circle cx="514" cy="888" r="2.1" fill="#cdcdcd" fill-opacity="0.85"/>
<circle cx="518" cy="889" r="3.0" fill="#dbdbdb" fill-opacity="0.51"/>
<circle cx="522" cy="890" r="2.1" fill="#b9b9b9" fill-opacity="0.48"/>
<circle cx="523" cy="894" r="3.1" fill="#dedede" fill-opacity="0.61"/>
<circle cx="525" cy="898" r="2.9" fill="#cccccc" fill-opacity="0.77"/>
<circle cx="529" cy="899" r="1.5" fill="#cdcdcd" fill-opacity="0.70"/>
<circle cx="535" cy="897" r="2.9" fill="#d5d5d5" fill-opacity="0.46"/>
<circle cx="537" cy="900" r="1.5" fill="#bababa" fill-opacity="0.47"/>
<circle cx="543" cy="898" r="2.0" fill="#d4d4d4" fill-opacity="0.50"/>
<circle cx="539" cy="910" r="1.8" fill="#dcdcdc" fill-opacity="0.54"/>
<circle cx="542" cy="911" r="2.4" fill="#dddddd" fill-opacity="0.61"/>
<circle cx="550" cy="908" r="3.0" fill="#a0a0a0" fill-opacity="0.48"/>
<circle cx="554" cy="909" r="2.5" fill="#d7d7d7" fill-opacity="0.53"/>
<circle cx="553" cy="916" r="3.0" fill="#9f9f9f" fill-opacity="0.75"/>
<circle cx="560" cy="914" r="1.5" fill="#c3c3c3" fill-opacity="0.59"/>
<circle cx="561" cy="919" r="2.6" fill="#a0a0a0" fill-opacity="0.68"/>
<path d="M124.0,870.0 C119.2,874.2 105.3,887.0 95.0,895.0 C84.7,903.0 72.8,910.5 62.0,918.0 C51.2,925.5 40.3,933.3 30.0,940.0 C19.7,946.7 5.0,955.0 0.0,958.0" fill="none" stroke="#c4c4c4" stroke-width="3.9" stroke-opacity="0.52" stroke-linecap="round"/>
<circle cx="126" cy="872" r="2.5" fill="#b3b3b3" fill-opacity="0.46"/>
<circle cx="121" cy="872" r="1.9" fill="#979797" fill-opacity="0.66"/>
<circle cx="119" cy="875" r="2.4" fill="#c7c7c7" fill-opacity="0.68"/>
<circle cx="113" cy="875" r="1.7" fill="#b9b9b9" fill-opacity="0.59"/>
<circle cx="112" cy="879" r="2.3" fill="#c7c7c7" fill-opacity="0.62"/>
<circle cx="109" cy="882" r="2.0" fill="#9c9c9c" fill-opacity="0.48"/>
<circle cx="109" cy="887" r="2.1" fill="#bcbcbc" fill-opacity="0.46"/>
<circle cx="104" cy="888" r="2.4" fill="#9d9d9d" fill-opacity="0.58"/>
<circle cx="101" cy="890" r="1.9" fill="#a6a6a6" fill-opacity="0.73"/>
<circle cx="98" cy="892" r="2.0" fill="#989898" fill-opacity="0.39"/>
<circle cx="95" cy="895" r="1.7" fill="#c1c1c1" fill-opacity="0.64"/>
<circle cx="94" cy="900" r="1.8" fill="#a8a8a8" fill-opacity="0.62"/>
<circle cx="89" cy="899" r="2.4" fill="#959595" fill-opacity="0.55"/>
<circle cx="85" cy="900" r="1.6" fill="#959595" fill-opacity="0.54"/>
<circle cx="84" cy="905" r="1.4" fill="#cdcdcd" fill-opacity="0.65"/>
<circle cx="79" cy="904" r="2.4" fill="#c5c5c5" fill-opacity="0.54"/>
<circle cx="76" cy="906" r="2.5" fill="#d3d3d3" fill-opacity="0.70"/>
<circle cx="73" cy="908" r="2.5" fill="#d3d3d3" fill-opacity="0.61"/>
<circle cx="71" cy="912" r="2.2" fill="#d5d5d5" fill-opacity="0.41"/>
<circle cx="68" cy="914" r="1.5" fill="#9a9a9a" fill-opacity="0.59"/>
<circle cx="67" cy="918" r="1.5" fill="#bababa" fill-opacity="0.58"/>
<circle cx="62" cy="918" r="1.4" fill="#9c9c9c" fill-opacity="0.58"/>
<circle cx="61" cy="923" r="1.5" fill="#aaaaaa" fill-opacity="0.73"/>
<circle cx="55" cy="920" r="2.4" fill="#c8c8c8" fill-opacity="0.41"/>
<circle cx="52" cy="922" r="2.2" fill="#d2d2d2" fill-opacity="0.40"/>
<circle cx="52" cy="928" r="1.5" fill="#b0b0b0" fill-opacity="0.50"/>
<circle cx="49" cy="930" r="2.3" fill="#d3d3d3" fill-opacity="0.73"/>
<circle cx="47" cy="933" r="1.6" fill="#b1b1b1" fill-opacity="0.66"/>
<circle cx="40" cy="930" r="2.4" fill="#9b9b9b" fill-opacity="0.58"/>
<circle cx="41" cy="937" r="2.2" fill="#cbcbcb" fill-opacity="0.49"/>
<circle cx="36" cy="937" r="1.4" fill="#cfcfcf" fill-opacity="0.50"/>
<circle cx="34" cy="940" r="1.8" fill="#9d9d9d" fill-opacity="0.75"/>
<circle cx="28" cy="937" r="2.0" fill="#aeaeae" fill-opacity="0.56"/>
<circle cx="25" cy="939" r="1.4" fill="#a2a2a2" fill-opacity="0.63"/>
<circle cx="24" cy="945" r="2.0" fill="#999999" fill-opacity="0.54"/>
<circle cx="18" cy="943" r="2.2" fill="#bbbbbb" fill-opacity="0.69"/>
<circle cx="18" cy="950" r="2.2" fill="#d5d5d5" fill-opacity="0.51"/>
<circle cx="15" cy="953" r="2.1" fill="#d1d1d1" fill-opacity="0.42"/>
<circle cx="11" cy="954" r="2.2" fill="#b7b7b7" fill-opacity="0.75"/>
<circle cx="6" cy="954" r="1.8" fill="#ababab" fill-opacity="0.56"/>
<circle cx="2" cy="954" r="2.3" fill="#b1b1b1" fill-opacity="0.52"/>
<path d="M365.0,435.0 C365.2,440.8 365.8,459.2 366.0,470.0 C366.2,480.8 366.0,495.0 366.0,500.0" fill="none" stroke="#0a0a0a" stroke-width="11.0" stroke-opacity="0.70" stroke-linecap="round"/>
<circle cx="362" cy="435" r="2.6" fill="#090909" fill-opacity="0.67"/>
<circle cx="377" cy="438" r="4.4" fill="#070707" fill-opacity="0.65"/>
<circle cx="363" cy="442" r="5.0" fill="#090909" fill-opacity="0.98"/>
<circle cx="377" cy="445" r="4.8" fill="#0a0a0a" fill-opacity="0.85"/>
<circle cx="354" cy="449" r="2.2" fill="#070707" fill-opacity="0.98"/>
<circle cx="356" cy="453" r="2.4" fill="#090909" fill-opacity="0.94"/>
<circle cx="363" cy="456" r="2.1" fill="#080808" fill-opacity="0.92"/>
<circle cx="374" cy="459" r="3.0" fill="#0a0a0a" fill-opacity="0.59"/>
<circle cx="364" cy="463" r="2.6" fill="#080808" fill-opacity="0.78"/>
<circle cx="359" cy="467" r="3.4" fill="#080808" fill-opacity="0.85"/>
<circle cx="361" cy="470" r="2.1" fill="#090909" fill-opacity="0.76"/>
<circle cx="354" cy="474" r="4.1" fill="#090909" fill-opacity="0.54"/>
<circle cx="366" cy="478" r="2.2" fill="#080808" fill-opacity="0.75"/>
<circle cx="357" cy="481" r="5.4" fill="#0a0a0a" fill-opacity="0.75"/>
<circle cx="367" cy="485" r="4.4" fill="#080808" fill-opacity="0.51"/>
<circle cx="360" cy="489" r="5.3" fill="#0a0a0a" fill-opacity="0.82"/>
<circle cx="359" cy="492" r="2.7" fill="#080808" fill-opacity="0.93"/>
<circle cx="366" cy="496" r="2.8" fill="#090909" fill-opacity="0.86"/>
</g>
<g filter="url(#dicn)"><g clip-path="url(#dc2)">
<rect width="563" height="981" fill="#3232c4"/>
<g filter="url(#bl6)">
<polygon points="200.0,318.0 360.0,305.0 360.0,705.0 200.0,705.0" fill="#2cb4b8" fill-opacity="0.85"/>
<ellipse cx="290" cy="300" rx="55" ry="22" fill="#3232c4" fill-opacity="0.9"/>
<ellipse cx="232" cy="298" rx="16" ry="14" fill="#2cb4b8" fill-opacity="0.85"/>
<ellipse cx="300" cy="330" rx="25" ry="10" fill="#3a7cd0" fill-opacity="0.6"/>
<ellipse cx="324" cy="310" rx="6" ry="30" fill="#34ac40" fill-opacity="0.9"/>
<ellipse cx="326" cy="320" rx="4" ry="16" fill="#bcbc38" fill-opacity="0.6"/>
<ellipse cx="260" cy="355" rx="25" ry="12" fill="#3a7cd0" fill-opacity="0.6"/>
<ellipse cx="310" cy="372" rx="18" ry="8" fill="#3232c4" fill-opacity="0.6"/>
<ellipse cx="250" cy="400" rx="18" ry="9" fill="#3232c4" fill-opacity="0.85"/>
<ellipse cx="300" cy="405" rx="14" ry="6" fill="#3232c4" fill-opacity="0.5"/>
<ellipse cx="232" cy="428" rx="18" ry="10" fill="#c89030" fill-opacity="1.0"/>
<ellipse cx="232" cy="432" rx="12" ry="7" fill="#cc3028" fill-opacity="1.0"/>
<ellipse cx="262" cy="445" rx="25" ry="8" fill="#bcbc38" fill-opacity="0.95"/>
<ellipse cx="334" cy="440" rx="14" ry="11" fill="#3232c4" fill-opacity="0.9"/>
<ellipse cx="282" cy="458" rx="28" ry="7" fill="#bcbc38" fill-opacity="0.9"/>
<ellipse cx="280" cy="470" rx="62" ry="9" fill="#34ac40" fill-opacity="0.95"/>
<ellipse cx="315" cy="500" rx="30" ry="14" fill="#34ac40" fill-opacity="0.9"/>
<ellipse cx="270" cy="485" rx="40" ry="6" fill="#34ac40" fill-opacity="0.8"/>
<ellipse cx="260" cy="540" rx="40" ry="6" fill="#3a7cd0" fill-opacity="0.5"/>
<ellipse cx="300" cy="575" rx="45" ry="10" fill="#34ac40" fill-opacity="0.85"/>
<ellipse cx="240" cy="590" rx="20" ry="8" fill="#34ac40" fill-opacity="0.8"/>
<ellipse cx="280" cy="622" rx="65" ry="10" fill="#3232c4" fill-opacity="0.85"/>
<ellipse cx="290" cy="650" rx="50" ry="6" fill="#3a7cd0" fill-opacity="0.5"/>
<ellipse cx="230" cy="668" rx="12" ry="16" fill="#3232c4" fill-opacity="0.5"/>
<ellipse cx="285" cy="716" rx="75" ry="16" fill="#3232c4" fill-opacity="0.95"/>
<ellipse cx="298" cy="730" rx="12" ry="5" fill="#2cb4b8" fill-opacity="0.85"/>
</g>
<g filter="url(#bl2)">
</g>
</g></g>
<path d="M158.0,842.0 C158.0,845.8 157.8,857.7 158.0,865.0 C158.2,872.3 158.8,882.5 159.0,886.0" fill="none" stroke="#cc3028" stroke-width="4" stroke-opacity="1.0" stroke-linecap="round" filter="url(#bl1)"/>
<path d="M163.0,842.0 C163.0,849.3 163.0,878.7 163.0,886.0" fill="none" stroke="#34ac40" stroke-width="3" stroke-opacity="0.9" stroke-linecap="round" filter="url(#bl1)"/>
</g>
<text x="28" y="94.5" font-size="82" fill="#fff" letter-spacing="1.5">(d)</text>
</g></g>
<g transform="translate(1782,1790)">
<clipPath id="cp3"><rect width="563" height="981"/></clipPath>
<linearGradient id="sg3" x1="0" y1="0" x2="0" y2="981" gradientUnits="userSpaceOnUse">
<stop offset="0" stop-color="#030303"/>
<stop offset="0.085" stop-color="#030303"/>
<stop offset="0.105" stop-color="#0b0b0b"/>
<stop offset="0.14" stop-color="#202020"/>
<stop offset="0.15" stop-color="#282828"/>
<stop offset="0.22" stop-color="#383838"/>
<stop offset="0.35" stop-color="#4c4c4c"/>
<stop offset="0.5" stop-color="#565656"/>
<stop offset="0.7" stop-color="#606060"/>
<stop offset="0.84" stop-color="#6a6a6a"/>
<stop offset="1" stop-color="#727272"/>
</linearGradient>
<linearGradient id="bg3" x1="360" y1="0" x2="563" y2="0" gradientUnits="userSpaceOnUse"><stop offset="0" stop-color="#555555"/><stop offset="1" stop-color="#5e5e5e"/></linearGradient>
<clipPath id="dc3"><path d="M295.0,199.0 L336.0,199.0 L336.0,491.0 L332.6,491.0 L332.6,726.0 L351.0,726.0 L351.0,801.0 L373.0,801.0 L373.0,832.0 L382.0,832.0 L382.0,871.0 L185.0,871.0 L185.0,822.6 L205.0,822.6 L205.0,763.6 L214.5,763.6 L214.5,748.0 L227.0,748.0 L227.0,491.0 L228.5,491.0 L228.5,242.5 L252.0,242.5 L252.0,220.7 L295.0,220.7Z M382.0,832.0 L398.0,832.0 L398.0,871.0 L382.0,871.0Z"/></clipPath>
<g clip-path="url(#cp3)">
<g filter="url(#pblur)">
<rect width="563" height="981" fill="#050505"/>
<linearGradient id="bl3g" x1="0" y1="0" x2="200" y2="0" gradientUnits="userSpaceOnUse"><stop offset="0" stop-color="#1e1e1e"/><stop offset="1" stop-color="#2a2a2a"/></linearGradient>
<rect x="0" y="350" width="290" height="270" fill="url(#bl3g)"/>
<rect x="290" y="350" width="273" height="270" fill="url(#bg3)"/>
<path d="M15,-10 Q50,15 80,40" fill="none" stroke="#a0a0a0" stroke-width="16" stroke-opacity="0.55" stroke-linecap="round" filter="url(#bl10)"/>
<path d="M100.0,60.0 C103.7,65.3 115.3,82.3 122.0,92.0 C128.7,101.7 131.3,104.8 140.0,118.0 C148.7,131.2 165.2,154.3 174.0,171.0 C182.8,187.7 187.8,199.8 193.0,218.0 C198.2,236.2 202.0,259.3 205.0,280.0 C208.0,300.7 209.4,306.8 211.0,342.0 C212.6,377.2 213.9,444.7 214.5,491.0 C215.1,537.3 214.5,583.9 214.5,620.0 C214.5,656.1 217.1,687.8 214.5,707.6 C211.9,727.4 204.8,725.8 199.0,738.7 C193.2,751.6 187.3,769.5 180.0,785.0 C172.7,800.5 164.3,816.4 155.0,832.0 C145.7,847.6 135.3,864.1 124.0,878.6 C112.7,893.1 99.9,907.1 87.0,919.0 C74.1,930.9 59.0,940.7 46.6,950.0 C34.2,959.3 21.0,969.2 12.4,975.0 C3.8,980.8 -2.1,983.3 -5.0,985.0" fill="none" stroke="#050505" stroke-opacity="0.85" stroke-width="44" filter="url(#bl3)"/>
<path d="M-5.0,995.0 C90.8,995.0 474.2,999.2 570.0,995.0 C665.8,990.8 571.2,974.8 570.0,970.0 C568.8,965.2 571.0,970.8 563.0,966.0 C555.0,961.2 536.6,951.4 522.0,941.0 C507.4,930.6 490.1,916.5 475.6,903.5 C461.1,890.5 446.9,877.6 435.0,863.0 C423.1,848.4 412.8,831.5 404.0,816.0 C395.2,800.5 389.8,782.9 382.0,770.0 C374.2,757.1 361.6,763.7 357.5,738.7 C353.4,713.7 358.6,661.3 357.5,620.0 C356.4,578.7 351.6,537.3 351.0,491.0 C350.4,444.7 351.8,377.2 354.0,342.0 C356.2,306.8 358.2,300.7 364.0,280.0 C369.8,259.3 379.7,236.2 389.0,218.0 C398.3,199.8 407.2,189.2 420.0,171.0 C432.8,152.8 458.3,119.3 466.0,109.0" fill="none" stroke="#050505" stroke-opacity="0.6" stroke-width="20" filter="url(#bl3)"/>
<path d="M100.0,60.0 C70.3,67.0 115.3,82.3 122.0,92.0 C128.7,101.7 131.3,104.8 140.0,118.0 C148.7,131.2 165.2,154.3 174.0,171.0 C182.8,187.7 187.8,199.8 193.0,218.0 C198.2,236.2 202.0,259.3 205.0,280.0 C208.0,300.7 209.4,306.8 211.0,342.0 C212.6,377.2 213.9,444.7 214.5,491.0 C215.1,537.3 214.5,583.9 214.5,620.0 C214.5,656.1 217.1,687.8 214.5,707.6 C211.9,727.4 204.8,725.8 199.0,738.7 C193.2,751.6 187.3,769.5 180.0,785.0 C172.7,800.5 164.3,816.4 155.0,832.0 C145.7,847.6 135.3,864.1 124.0,878.6 C112.7,893.1 99.9,907.1 87.0,919.0 C74.1,930.9 59.0,940.7 46.6,950.0 C34.2,959.3 21.0,969.2 12.4,975.0 C3.8,980.8 -2.1,981.7 -5.0,985.0 C-7.9,988.3 -100.8,993.3 -5.0,995.0 C90.8,996.7 474.2,999.2 570.0,995.0 C665.8,990.8 571.2,974.8 570.0,970.0 C568.8,965.2 571.0,970.8 563.0,966.0 C555.0,961.2 536.6,951.4 522.0,941.0 C507.4,930.6 490.1,916.5 475.6,903.5 C461.1,890.5 446.9,877.6 435.0,863.0 C423.1,848.4 412.8,831.5 404.0,816.0 C395.2,800.5 389.8,782.9 382.0,770.0 C374.2,757.1 361.6,763.7 357.5,738.7 C353.4,713.7 358.6,661.3 357.5,620.0 C356.4,578.7 351.6,537.3 351.0,491.0 C350.4,444.7 351.8,377.2 354.0,342.0 C356.2,306.8 358.2,300.7 364.0,280.0 C369.8,259.3 379.7,236.2 389.0,218.0 C398.3,199.8 407.2,189.2 420.0,171.0 C432.8,152.8 455.2,123.3 466.0,109.0 C476.8,94.7 479.3,93.2 485.0,85.0 C490.7,76.8 530.8,65.8 500.0,60.0 C469.2,54.2 366.7,50.0 300.0,50.0 C233.3,50.0 129.7,53.0 100.0,60.0Z" fill="url(#sg3)" filter="url(#spk)"/>
<g filter="url(#bl2)">
<path d="M445.0,120.0 C442.5,128.3 434.5,150.0 430.0,170.0 C425.5,190.0 421.3,215.0 418.0,240.0 C414.7,265.0 411.3,306.7 410.0,320.0" fill="none" stroke="#7a7a7a" stroke-width="3.3" stroke-opacity="0.39" stroke-linecap="round"/>
<circle cx="442" cy="119" r="1.8" fill="#7a7a7a" fill-opacity="0.48"/>
<circle cx="446" cy="124" r="1.4" fill="#757575" fill-opacity="0.31"/>
<circle cx="444" cy="127" r="2.2" fill="#808080" fill-opacity="0.31"/>
<circle cx="445" cy="132" r="1.5" fill="#7e7e7e" fill-opacity="0.28"/>
<circle cx="443" cy="135" r="1.4" fill="#606060" fill-opacity="0.42"/>
<circle cx="442" cy="139" r="1.7" fill="#7a7a7a" fill-opacity="0.47"/>
<circle cx="439" cy="142" r="2.1" fill="#737373" fill-opacity="0.50"/>
<circle cx="439" cy="146" r="1.7" fill="#747474" fill-opacity="0.54"/>
<circle cx="436" cy="148" r="1.8" fill="#666666" fill-opacity="0.35"/>
<circle cx="437" cy="153" r="2.3" fill="#818181" fill-opacity="0.52"/>
<circle cx="434" cy="156" r="2.0" fill="#686868" fill-opacity="0.41"/>
<circle cx="436" cy="160" r="1.7" fill="#666666" fill-opacity="0.30"/>
<circle cx="429" cy="162" r="1.4" fill="#7e7e7e" fill-opacity="0.47"/>
<circle cx="434" cy="167" r="1.8" fill="#868686" fill-opacity="0.55"/>
<circle cx="430" cy="170" r="2.1" fill="#797979" fill-opacity="0.36"/>
<circle cx="429" cy="173" r="1.9" fill="#6c6c6c" fill-opacity="0.50"/>
<circle cx="429" cy="177" r="2.1" fill="#5e5e5e" fill-opacity="0.40"/>
<circle cx="431" cy="181" r="2.0" fill="#808080" fill-opacity="0.42"/>
<circle cx="427" cy="184" r="2.0" fill="#656565" fill-opacity="0.38"/>
<circle cx="426" cy="187" r="2.0" fill="#6b6b6b" fill-opacity="0.41"/>
<circle cx="428" cy="191" r="1.9" fill="#787878" fill-opacity="0.37"/>
<circle cx="424" cy="194" r="2.2" fill="#727272" fill-opacity="0.54"/>
<circle cx="427" cy="198" r="2.3" fill="#636363" fill-opacity="0.37"/>
<circle cx="422" cy="201" r="1.3" fill="#757575" fill-opacity="0.51"/>
<circle cx="421" cy="204" r="2.0" fill="#6a6a6a" fill-opacity="0.37"/>
<circle cx="422" cy="208" r="1.4" fill="#5c5c5c" fill-opacity="0.52"/>
<circle cx="422" cy="212" r="1.5" fill="#6d6d6d" fill-opacity="0.35"/>
<circle cx="420" cy="215" r="1.6" fill="#7a7a7a" fill-opacity="0.48"/>
<circle cx="423" cy="219" r="1.6" fill="#717171" fill-opacity="0.38"/>
<circle cx="420" cy="222" r="1.6" fill="#7d7d7d" fill-opacity="0.39"/>
<circle cx="423" cy="226" r="2.1" fill="#818181" fill-opacity="0.46"/>
<circle cx="419" cy="229" r="2.2" fill="#838383" fill-opacity="0.28"/>
<circle cx="419" cy="233" r="1.3" fill="#696969" fill-opacity="0.34"/>
<circle cx="419" cy="237" r="2.0" fill="#808080" fill-opacity="0.35"/>
<circle cx="421" cy="240" r="2.3" fill="#7c7c7c" fill-opacity="0.43"/>
<circle cx="420" cy="244" r="1.4" fill="#838383" fill-opacity="0.42"/>
<circle cx="415" cy="247" r="2.1" fill="#7b7b7b" fill-opacity="0.50"/>
<circle cx="419" cy="251" r="1.6" fill="#6e6e6e" fill-opacity="0.49"/>
<circle cx="414" cy="254" r="2.1" fill="#747474" fill-opacity="0.41"/>
<circle cx="418" cy="258" r="2.0" fill="#777777" fill-opacity="0.42"/>
<circle cx="414" cy="262" r="2.3" fill="#838383" fill-opacity="0.30"/>
<circle cx="417" cy="266" r="1.9" fill="#787878" fill-opacity="0.35"/>
<circle cx="412" cy="269" r="1.8" fill="#7c7c7c" fill-opacity="0.29"/>
<circle cx="416" cy="273" r="1.3" fill="#7d7d7d" fill-opacity="0.42"/>
<circle cx="411" cy="276" r="1.9" fill="#696969" fill-opacity="0.37"/>
<circle cx="415" cy="280" r="1.5" fill="#606060" fill-opacity="0.45"/>
<circle cx="415" cy="284" r="1.8" fill="#797979" fill-opacity="0.35"/>
<circle cx="414" cy="287" r="1.6" fill="#696969" fill-opacity="0.46"/>
<circle cx="416" cy="291" r="1.7" fill="#606060" fill-opacity="0.46"/>
<circle cx="414" cy="295" r="2.3" fill="#707070" fill-opacity="0.46"/>
<circle cx="412" cy="298" r="2.2" fill="#797979" fill-opacity="0.45"/>
<circle cx="415" cy="302" r="1.4" fill="#7b7b7b" fill-opacity="0.39"/>
<circle cx="408" cy="305" r="2.0" fill="#7e7e7e" fill-opacity="0.48"/>
<circle cx="408" cy="309" r="2.0" fill="#838383" fill-opacity="0.39"/>
<circle cx="412" cy="313" r="1.4" fill="#666666" fill-opacity="0.52"/>
<circle cx="409" cy="316" r="1.3" fill="#5c5c5c" fill-opacity="0.40"/>
<path d="M470.0,150.0 C467.5,161.7 459.2,195.0 455.0,220.0 C450.8,245.0 446.7,286.7 445.0,300.0" fill="none" stroke="#6a6a6a" stroke-width="2.8" stroke-opacity="0.32" stroke-linecap="round"/>
<circle cx="470" cy="150" r="1.6" fill="#505050" fill-opacity="0.28"/>
<circle cx="467" cy="153" r="1.9" fill="#6d6d6d" fill-opacity="0.29"/>
<circle cx="468" cy="157" r="1.4" fill="#5a5a5a" fill-opacity="0.44"/>
<circle cx="469" cy="161" r="1.5" fill="#575757" fill-opacity="0.42"/>
<circle cx="466" cy="164" r="1.8" fill="#6f6f6f" fill-opacity="0.33"/>
<circle cx="464" cy="167" r="1.9" fill="#5a5a5a" fill-opacity="0.28"/>
<circle cx="465" cy="171" r="1.6" fill="#6c6c6c" fill-opacity="0.37"/>
<circle cx="463" cy="174" r="1.8" fill="#595959" fill-opacity="0.39"/>
<circle cx="461" cy="177" r="1.8" fill="#696969" fill-opacity="0.28"/>
<circle cx="465" cy="182" r="1.6" fill="#656565" fill-opacity="0.39"/>
<circle cx="463" cy="185" r="1.7" fill="#525252" fill-opacity="0.24"/>
<circle cx="464" cy="189" r="1.5" fill="#585858" fill-opacity="0.26"/>
<circle cx="462" cy="192" r="1.5" fill="#6e6e6e" fill-opacity="0.44"/>
<circle cx="457" cy="195" r="1.9" fill="#4f4f4f" fill-opacity="0.28"/>
<circle cx="457" cy="198" r="1.9" fill="#6f6f6f" fill-opacity="0.27"/>
<circle cx="460" cy="203" r="1.3" fill="#626262" fill-opacity="0.31"/>
<circle cx="458" cy="206" r="1.4" fill="#505050" fill-opacity="0.31"/>
<circle cx="455" cy="209" r="1.8" fill="#646464" fill-opacity="0.24"/>
<circle cx="457" cy="213" r="1.6" fill="#666666" fill-opacity="0.32"/>
<circle cx="454" cy="216" r="1.5" fill="#6a6a6a" fill-opacity="0.23"/>
<circle cx="457" cy="220" r="1.9" fill="#6f6f6f" fill-opacity="0.29"/>
<circle cx="456" cy="224" r="2.1" fill="#656565" fill-opacity="0.25"/>
<circle cx="451" cy="227" r="1.7" fill="#5a5a5a" fill-opacity="0.34"/>
<circle cx="454" cy="231" r="1.8" fill="#5e5e5e" fill-opacity="0.31"/>
<circle cx="452" cy="234" r="1.5" fill="#6e6e6e" fill-opacity="0.39"/>
<circle cx="450" cy="237" r="1.4" fill="#6f6f6f" fill-opacity="0.39"/>
<circle cx="454" cy="241" r="2.0" fill="#626262" fill-opacity="0.27"/>
<circle cx="454" cy="245" r="2.1" fill="#6d6d6d" fill-opacity="0.28"/>
<circle cx="449" cy="248" r="1.3" fill="#696969" fill-opacity="0.37"/>
<circle cx="449" cy="251" r="2.0" fill="#6a6a6a" fill-opacity="0.41"/>
<circle cx="451" cy="255" r="2.1" fill="#5f5f5f" fill-opacity="0.39"/>
<circle cx="449" cy="258" r="1.6" fill="#6d6d6d" fill-opacity="0.39"/>
<circle cx="452" cy="262" r="1.8" fill="#616161" fill-opacity="0.36"/>
<circle cx="452" cy="266" r="1.9" fill="#5e5e5e" fill-opacity="0.39"/>
<circle cx="450" cy="269" r="1.3" fill="#606060" fill-opacity="0.37"/>
<circle cx="447" cy="272" r="1.7" fill="#707070" fill-opacity="0.26"/>
<circle cx="450" cy="276" r="1.6" fill="#676767" fill-opacity="0.40"/>
<circle cx="450" cy="279" r="1.8" fill="#5c5c5c" fill-opacity="0.34"/>
<circle cx="450" cy="283" r="1.4" fill="#676767" fill-opacity="0.30"/>
<circle cx="444" cy="286" r="1.7" fill="#5c5c5c" fill-opacity="0.27"/>
<circle cx="446" cy="290" r="1.7" fill="#595959" fill-opacity="0.44"/>
<circle cx="446" cy="293" r="1.9" fill="#686868" fill-opacity="0.41"/>
<circle cx="448" cy="297" r="2.1" fill="#656565" fill-opacity="0.26"/>
<path d="M178.0,208.0 C178.3,208.7 179.7,211.3 180.0,212.0" fill="none" stroke="#e0e0e0" stroke-width="5.5" stroke-opacity="0.59" stroke-linecap="round"/>
<circle cx="177" cy="209" r="1.6" fill="#c9c9c9" fill-opacity="0.47"/>
<path d="M400.0,296.0 C400.3,296.5 401.7,298.5 402.0,299.0" fill="none" stroke="#d0d0d0" stroke-width="5.0" stroke-opacity="0.56" stroke-linecap="round"/>
<circle cx="404" cy="293" r="2.2" fill="#d9d9d9" fill-opacity="0.70"/>
<path d="M420.0,320.0 C420.7,320.8 423.3,324.2 424.0,325.0" fill="none" stroke="#c8c8c8" stroke-width="7.7" stroke-opacity="0.42" stroke-linecap="round"/>
<circle cx="414" cy="325" r="3.6" fill="#c1c1c1" fill-opacity="0.48"/>
<path d="M6.0,619.0 C13.3,618.8 34.3,618.0 50.0,618.0 C65.7,618.0 83.0,619.0 100.0,619.0 C117.0,619.0 143.3,618.2 152.0,618.0" fill="none" stroke="#cfcfcf" stroke-width="3.3" stroke-opacity="0.56" stroke-linecap="round"/>
<circle cx="6" cy="622" r="1.4" fill="#c0c0c0" fill-opacity="0.62"/>
<circle cx="10" cy="615" r="2.2" fill="#cccccc" fill-opacity="0.54"/>
<circle cx="13" cy="621" r="1.8" fill="#cfcfcf" fill-opacity="0.62"/>
<circle cx="17" cy="621" r="1.8" fill="#a1a1a1" fill-opacity="0.71"/>
<circle cx="21" cy="617" r="1.9" fill="#dedede" fill-opacity="0.69"/>
<circle cx="24" cy="615" r="2.2" fill="#e1e1e1" fill-opacity="0.59"/>
<circle cx="28" cy="617" r="1.8" fill="#c1c1c1" fill-opacity="0.42"/>
<circle cx="32" cy="621" r="2.0" fill="#b8b8b8" fill-opacity="0.73"/>
<circle cx="35" cy="616" r="2.2" fill="#d9d9d9" fill-opacity="0.59"/>
<circle cx="39" cy="615" r="1.8" fill="#a2a2a2" fill-opacity="0.62"/>
<circle cx="43" cy="616" r="1.8" fill="#b8b8b8" fill-opacity="0.53"/>
<circle cx="46" cy="619" r="1.9" fill="#dbdbdb" fill-opacity="0.58"/>
<circle cx="50" cy="619" r="2.1" fill="#a7a7a7" fill-opacity="0.61"/>
<circle cx="54" cy="616" r="1.8" fill="#c0c0c0" fill-opacity="0.76"/>
<circle cx="57" cy="621" r="1.6" fill="#d9d9d9" fill-opacity="0.55"/>
<circle cx="61" cy="616" r="1.9" fill="#b1b1b1" fill-opacity="0.78"/>
<circle cx="64" cy="621" r="1.3" fill="#e2e2e2" fill-opacity="0.76"/>
<circle cx="68" cy="616" r="2.0" fill="#c3c3c3" fill-opacity="0.46"/>
<circle cx="71" cy="620" r="1.3" fill="#b4b4b4" fill-opacity="0.60"/>
<circle cx="75" cy="621" r="1.7" fill="#b0b0b0" fill-opacity="0.59"/>
<circle cx="79" cy="619" r="1.7" fill="#a2a2a2" fill-opacity="0.74"/>
<circle cx="82" cy="617" r="1.5" fill="#ababab" fill-opacity="0.79"/>
<circle cx="86" cy="616" r="2.0" fill="#c4c4c4" fill-opacity="0.49"/>
<circle cx="89" cy="621" r="1.5" fill="#a3a3a3" fill-opacity="0.41"/>
<circle cx="93" cy="620" r="1.4" fill="#c7c7c7" fill-opacity="0.66"/>
<circle cx="96" cy="616" r="2.3" fill="#a5a5a5" fill-opacity="0.53"/>
<circle cx="100" cy="621" r="1.6" fill="#d3d3d3" fill-opacity="0.68"/>
<circle cx="104" cy="621" r="1.7" fill="#afafaf" fill-opacity="0.59"/>
<circle cx="107" cy="620" r="1.3" fill="#a1a1a1" fill-opacity="0.51"/>
<circle cx="111" cy="616" r="2.1" fill="#e1e1e1" fill-opacity="0.61"/>
<circle cx="115" cy="618" r="1.7" fill="#dadada" fill-opacity="0.69"/>
<circle cx="119" cy="619" r="2.0" fill="#dddddd" fill-opacity="0.65"/>
<circle cx="122" cy="616" r="2.2" fill="#9e9e9e" fill-opacity="0.46"/>
<circle cx="126" cy="616" r="1.7" fill="#c4c4c4" fill-opacity="0.73"/>
<circle cx="130" cy="617" r="2.2" fill="#e3e3e3" fill-opacity="0.75"/>
<circle cx="133" cy="621" r="1.9" fill="#bcbcbc" fill-opacity="0.46"/>
<circle cx="137" cy="617" r="1.5" fill="#b5b5b5" fill-opacity="0.43"/>
<circle cx="141" cy="622" r="1.7" fill="#a1a1a1" fill-opacity="0.45"/>
<circle cx="145" cy="618" r="1.4" fill="#cbcbcb" fill-opacity="0.52"/>
<circle cx="148" cy="619" r="1.7" fill="#b7b7b7" fill-opacity="0.75"/>
<path d="M530.0,603.0 C531.7,602.5 538.3,600.5 540.0,600.0" fill="none" stroke="#b0b0b0" stroke-width="4.4" stroke-opacity="0.35" stroke-linecap="round"/>
<circle cx="530" cy="603" r="2.7" fill="#adadad" fill-opacity="0.44"/>
<circle cx="536" cy="604" r="2.2" fill="#979797" fill-opacity="0.42"/>
</g>
<g filter="url(#dicn)"><g clip-path="url(#dc3)">
<rect width="563" height="981" fill="#3232c4"/>
<g filter="url(#bl6)">
<polygon points="220.0,295.0 340.0,295.0 340.0,330.0 220.0,330.0" fill="#3a7cd0" fill-opacity="0.75"/>
<polygon points="220.0,322.0 340.0,322.0 340.0,395.0 220.0,395.0" fill="#2cb4b8" fill-opacity="0.85"/>
<ellipse cx="282" cy="345" rx="24" ry="22" fill="#3a7cd0" fill-opacity="0.8"/>
<polygon points="220.0,392.0 340.0,392.0 340.0,420.0 220.0,420.0" fill="#34ac40" fill-opacity="0.95"/>
<polygon points="220.0,420.0 340.0,420.0 340.0,440.0 220.0,440.0" fill="#bcbc38" fill-opacity="1.0"/>
<polygon points="220.0,440.0 340.0,440.0 340.0,508.0 220.0,508.0" fill="#cc3028" fill-opacity="1.0"/>
<ellipse cx="232" cy="470" rx="10" ry="30" fill="#c89030" fill-opacity="0.9"/>
<polygon points="220.0,505.0 340.0,500.0 340.0,512.0 220.0,522.0" fill="#c89030" fill-opacity="0.95"/>
<polygon points="220.0,520.0 340.0,510.0 340.0,524.0 220.0,540.0" fill="#bcbc38" fill-opacity="0.95"/>
<polygon points="220.0,538.0 340.0,522.0 340.0,552.0 220.0,572.0" fill="#34ac40" fill-opacity="0.95"/>
<polygon points="220.0,570.0 340.0,550.0 340.0,710.0 300.0,670.0 260.0,630.0 220.0,606.0" fill="#2cb4b8" fill-opacity="0.95"/>
<polygon points="220.0,604.0 260.0,628.0 300.0,668.0 340.0,708.0 340.0,725.0 300.0,690.0 220.0,640.0" fill="#3a7cd0" fill-opacity="0.7"/>
<polygon points="382.0,832.0 400.0,832.0 400.0,871.0 382.0,871.0" fill="#2cb4b8" fill-opacity="0.95"/>
</g>
<g filter="url(#bl2)">
</g>
</g></g>
</g>
<text x="28" y="94.5" font-size="82" fill="#fff" letter-spacing="1.5">(e)</text>
</g></g>
</svg></body></html>
